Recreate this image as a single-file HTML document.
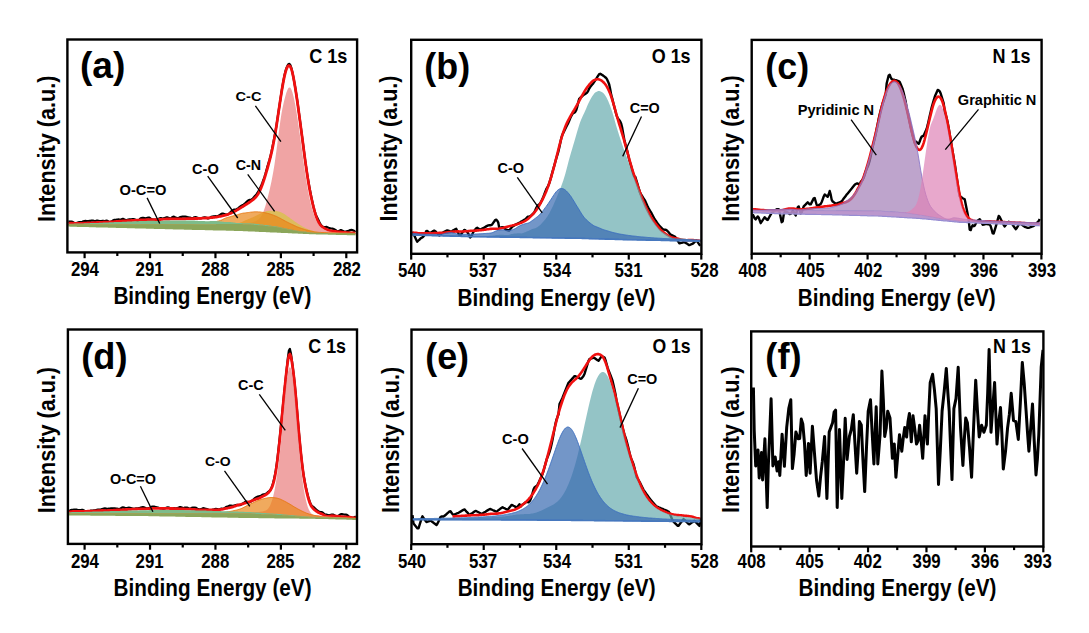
<!DOCTYPE html><html><head><meta charset="utf-8"><style>html,body{margin:0;padding:0;background:#fff}svg{display:block}text{font-family:"Liberation Sans",sans-serif;font-weight:bold;fill:#000}</style></head><body>
<svg width="1089" height="633" viewBox="0 0 1089 633">
<rect width="1089" height="633" fill="#fff"/>
<g id="pa">
<clipPath id="clipa"><rect x="67.4" y="39.5" width="289.7" height="212.9"/></clipPath>
<g clip-path="url(#clipa)">
<path d="M68.4,221.4 L69.4,221.6 L70.4,221.5 L71.4,221.5 L72.4,221.8 L73.4,222.4 L74.4,223.0 L75.4,223.2 L76.4,223.1 L77.4,222.7 L78.4,222.3 L79.4,222.1 L80.4,222.1 L81.4,222.1 L82.4,221.8 L83.4,221.3 L84.4,221.0 L85.4,220.9 L86.4,221.1 L87.4,221.1 L88.4,221.0 L89.4,220.9 L90.4,220.8 L91.4,220.6 L92.4,220.5 L93.4,220.7 L94.4,221.0 L95.4,221.0 L96.4,220.7 L97.4,220.6 L98.4,220.8 L99.4,221.1 L100.4,221.1 L101.4,221.0 L102.4,220.8 L103.4,220.9 L104.4,221.0 L105.4,220.9 L106.4,220.7 L107.4,220.8 L108.4,221.4 L109.4,221.8 L110.4,221.9 L111.4,221.6 L112.4,220.9 L113.4,220.2 L114.4,219.8 L115.4,219.8 L116.4,219.7 L117.4,219.5 L118.4,219.4 L119.4,219.5 L120.4,219.5 L121.4,219.3 L122.4,218.9 L123.4,218.9 L124.4,219.4 L125.4,220.0 L126.4,220.2 L127.4,219.9 L128.4,219.6 L129.4,219.4 L130.4,219.4 L131.4,219.3 L132.4,219.1 L133.4,219.1 L134.4,219.3 L135.4,219.8 L136.4,220.4 L137.4,220.8 L138.4,220.6 L139.4,219.6 L140.4,218.5 L141.4,218.0 L142.4,217.8 L143.4,217.9 L144.4,218.1 L145.4,218.3 L146.4,218.2 L147.4,217.8 L148.4,217.5 L149.4,217.7 L150.4,218.4 L151.4,219.1 L152.4,219.5 L153.4,219.5 L154.4,219.5 L155.4,219.6 L156.4,219.7 L157.4,219.6 L158.4,219.0 L159.4,218.4 L160.4,218.0 L161.4,218.2 L162.4,218.5 L163.4,218.4 L164.4,218.0 L165.4,217.7 L166.4,217.4 L167.4,217.4 L168.4,217.7 L169.4,218.2 L170.4,218.4 L171.4,217.9 L172.4,217.1 L173.4,216.7 L174.4,216.9 L175.4,217.4 L176.4,217.9 L177.4,218.0 L178.4,217.9 L179.4,217.6 L180.4,217.1 L181.4,216.8 L182.4,216.7 L183.4,216.7 L184.4,216.7 L185.4,216.7 L186.4,216.8 L187.4,217.1 L188.4,217.3 L189.4,217.5 L190.4,217.7 L191.4,218.0 L192.4,218.1 L193.4,217.8 L194.4,217.3 L195.4,217.1 L196.4,217.3 L197.4,217.7 L198.4,218.1 L199.4,218.3 L200.4,218.4 L201.4,218.2 L202.4,217.9 L203.4,217.5 L204.4,217.3 L205.4,217.4 L206.4,217.8 L207.4,218.3 L208.4,218.5 L209.4,218.1 L210.4,217.4 L211.4,216.8 L212.4,216.5 L213.4,216.4 L214.4,216.3 L215.4,216.2 L216.4,216.3 L217.4,216.2 L218.4,215.9 L219.4,215.3 L220.4,214.5 L221.4,213.9 L222.4,213.6 L223.4,213.7 L224.4,214.0 L225.4,214.4 L226.4,214.5 L227.4,214.4 L228.4,214.0 L229.4,213.3 L230.4,212.2 L231.4,211.2 L232.4,210.4 L233.4,209.9 L234.4,209.6 L235.4,209.5 L236.4,209.3 L237.4,208.8 L238.4,208.0 L239.4,207.2 L240.4,206.4 L241.4,205.8 L242.4,205.2 L243.4,204.6 L244.4,203.9 L245.4,203.0 L246.4,202.0 L247.4,201.1 L248.4,200.3 L249.4,199.9 L250.4,199.9 L251.4,199.7 L252.4,198.9 L253.4,197.8 L254.4,196.6 L255.4,195.6 L256.4,194.4 L257.4,193.0 L258.4,191.2 L259.4,189.2 L260.4,187.3 L261.4,185.2 L262.4,182.7 L263.4,180.0 L264.4,177.1 L265.4,173.8 L266.4,170.2 L267.4,166.6 L268.4,163.3 L269.4,160.1 L270.4,156.4 L271.4,152.0 L272.4,147.1 L273.4,142.1 L274.4,137.2 L275.4,131.9 L276.4,125.7 L277.4,119.1 L278.4,112.4 L279.4,105.9 L280.4,99.3 L281.4,92.7 L282.4,86.3 L283.4,80.6 L284.4,75.6 L285.4,71.4 L286.4,68.2 L287.4,65.8 L288.4,64.2 L289.4,63.8 L290.4,65.2 L291.4,68.1 L292.4,72.3 L293.4,77.3 L294.4,82.7 L295.4,88.5 L296.4,94.8 L297.4,101.5 L298.4,108.7 L299.4,116.1 L300.4,123.7 L301.4,131.3 L302.4,138.8 L303.4,146.5 L304.4,154.3 L305.4,161.8 L306.4,168.7 L307.4,175.2 L308.4,181.3 L309.4,186.9 L310.4,192.1 L311.4,197.1 L312.4,201.8 L313.4,206.2 L314.4,210.1 L315.4,213.3 L316.4,215.9 L317.4,218.1 L318.4,220.1 L319.4,222.2 L320.4,224.2 L321.4,225.6 L322.4,226.6 L323.4,227.1 L324.4,227.2 L325.4,227.0 L326.4,226.9 L327.4,227.2 L328.4,227.7 L329.4,228.0 L330.4,228.3 L331.4,228.5 L332.4,228.7 L333.4,228.9 L334.4,229.3 L335.4,230.0 L336.4,230.7 L337.4,231.2 L338.4,231.2 L339.4,230.7 L340.4,230.2 L341.4,230.1 L342.4,230.7 L343.4,231.3 L344.4,231.6 L345.4,231.5 L346.4,231.4 L347.4,231.2 L348.4,230.9 L349.4,230.4 L350.4,230.1 L351.4,229.9 L352.4,230.0 L353.4,230.4 L354.4,231.1 L355.4,232.0" fill="none" stroke="#000" stroke-width="2.2" stroke-linejoin="round"/>
<path d="M68.4,223.2 L69.4,223.2 L70.4,223.2 L71.4,223.2 L72.4,223.2 L73.4,223.3 L74.4,223.4 L75.4,223.5 L76.4,223.5 L77.4,223.5 L78.4,223.4 L79.4,223.4 L80.4,223.4 L81.4,223.3 L82.4,223.3 L83.4,223.2 L84.4,223.2 L85.4,223.1 L86.4,223.1 L87.4,223.0 L88.4,223.0 L89.4,222.9 L90.4,222.9 L91.4,222.8 L92.4,222.8 L93.4,222.7 L94.4,222.7 L95.4,222.6 L96.4,222.6 L97.4,222.5 L98.4,222.5 L99.4,222.4 L100.4,222.4 L101.4,222.3 L102.4,222.3 L103.4,222.2 L104.4,222.2 L105.4,222.2 L106.4,222.2 L107.4,222.2 L108.4,222.1 L109.4,222.1 L110.4,222.0 L111.4,221.9 L112.4,221.9 L113.4,221.8 L114.4,221.7 L115.4,221.6 L116.4,221.5 L117.4,221.4 L118.4,221.3 L119.4,221.2 L120.4,221.2 L121.4,221.1 L122.4,221.0 L123.4,221.0 L124.4,220.9 L125.4,220.8 L126.4,220.8 L127.4,220.7 L128.4,220.7 L129.4,220.6 L130.4,220.6 L131.4,220.5 L132.4,220.4 L133.4,220.4 L134.4,220.3 L135.4,220.3 L136.4,220.2 L137.4,220.2 L138.4,220.1 L139.4,220.1 L140.4,220.0 L141.4,220.0 L142.4,219.9 L143.4,219.9 L144.4,219.8 L145.4,219.8 L146.4,219.7 L147.4,219.7 L148.4,219.6 L149.4,219.6 L150.4,219.6 L151.4,219.6 L152.4,219.7 L153.4,219.7 L154.4,219.7 L155.4,219.7 L156.4,219.6 L157.4,219.6 L158.4,219.6 L159.4,219.5 L160.4,219.5 L161.4,219.4 L162.4,219.3 L163.4,219.2 L164.4,219.1 L165.4,219.1 L166.4,219.0 L167.4,219.0 L168.4,219.0 L169.4,219.0 L170.4,218.9 L171.4,218.9 L172.4,218.9 L173.4,218.9 L174.4,218.9 L175.4,218.9 L176.4,218.9 L177.4,218.9 L178.4,218.9 L179.4,218.9 L180.4,218.9 L181.4,218.9 L182.4,218.8 L183.4,218.8 L184.4,218.8 L185.4,218.8 L186.4,218.7 L187.4,218.7 L188.4,218.7 L189.4,218.7 L190.4,218.6 L191.4,218.6 L192.4,218.6 L193.4,218.6 L194.4,218.5 L195.4,218.5 L196.4,218.5 L197.4,218.5 L198.4,218.4 L199.4,218.4 L200.4,218.3 L201.4,218.3 L202.4,218.2 L203.4,218.2 L204.4,218.1 L205.4,218.1 L206.4,218.0 L207.4,218.0 L208.4,217.9 L209.4,217.8 L210.4,217.7 L211.4,217.6 L212.4,217.5 L213.4,217.4 L214.4,217.3 L215.4,217.2 L216.4,217.0 L217.4,216.9 L218.4,216.7 L219.4,216.5 L220.4,216.3 L221.4,216.1 L222.4,215.9 L223.4,215.7 L224.4,215.4 L225.4,215.2 L226.4,214.9 L227.4,214.6 L228.4,214.2 L229.4,213.8 L230.4,213.4 L231.4,212.9 L232.4,212.5 L233.4,212.0 L234.4,211.4 L235.4,210.9 L236.4,210.4 L237.4,209.8 L238.4,209.2 L239.4,208.6 L240.4,208.0 L241.4,207.4 L242.4,206.8 L243.4,206.2 L244.4,205.5 L245.4,204.9 L246.4,204.3 L247.4,203.6 L248.4,203.0 L249.4,202.3 L250.4,201.6 L251.4,200.9 L252.4,200.2 L253.4,199.4 L254.4,198.5 L255.4,197.5 L256.4,196.3 L257.4,195.0 L258.4,193.4 L259.4,191.5 L260.4,189.5 L261.4,187.1 L262.4,184.5 L263.4,181.6 L264.4,178.5 L265.4,175.3 L266.4,171.9 L267.4,168.5 L268.4,164.9 L269.4,161.2 L270.4,157.3 L271.4,153.2 L272.4,148.6 L273.4,143.6 L274.4,138.2 L275.4,132.4 L276.4,126.2 L277.4,119.7 L278.4,113.0 L279.4,106.2 L280.4,99.5 L281.4,93.1 L282.4,87.0 L283.4,81.4 L284.4,76.5 L285.4,72.4 L286.4,69.1 L287.4,66.9 L288.4,65.6 L289.4,65.6 L290.4,66.7 L291.4,69.0 L292.4,72.6 L293.4,77.3 L294.4,82.7 L295.4,88.7 L296.4,95.2 L297.4,102.0 L298.4,109.2 L299.4,116.6 L300.4,124.1 L301.4,131.7 L302.4,139.3 L303.4,147.0 L304.4,154.6 L305.4,162.1 L306.4,169.3 L307.4,176.1 L308.4,182.5 L309.4,188.3 L310.4,193.5 L311.4,198.3 L312.4,202.7 L313.4,206.9 L314.4,210.7 L315.4,214.2 L316.4,217.3 L317.4,219.8 L318.4,222.0 L319.4,223.7 L320.4,225.1 L321.4,226.2 L322.4,227.0 L323.4,227.6 L324.4,228.2 L325.4,228.7 L326.4,229.2 L327.4,229.7 L328.4,230.1 L329.4,230.4 L330.4,230.7 L331.4,230.9 L332.4,231.1 L333.4,231.2 L334.4,231.4 L335.4,231.4 L336.4,231.6 L337.4,231.7 L338.4,231.8 L339.4,231.9 L340.4,232.0 L341.4,232.1 L342.4,232.2 L343.4,232.3 L344.4,232.4 L345.4,232.5 L346.4,232.6 L347.4,232.7 L348.4,232.7 L349.4,232.8 L350.4,232.8 L351.4,232.8 L352.4,232.9 L353.4,232.9 L354.4,233.0 L355.4,233.0" fill="none" stroke="#f01010" stroke-width="2.8" stroke-linejoin="round"/>
<path d="M68.4,224.5 L69.4,224.5 L70.4,224.5 L71.4,224.5 L72.4,224.5 L73.4,224.5 L74.4,224.5 L75.4,224.5 L76.4,224.5 L77.4,224.5 L78.4,224.5 L79.4,224.5 L80.4,224.5 L81.4,224.5 L82.4,224.5 L83.4,224.5 L84.4,224.5 L85.4,224.5 L86.4,224.5 L87.4,224.5 L88.4,224.5 L89.4,224.5 L90.4,224.4 L91.4,224.4 L92.4,224.4 L93.4,224.4 L94.4,224.4 L95.4,224.4 L96.4,224.4 L97.4,224.4 L98.4,224.4 L99.4,224.4 L100.4,224.4 L101.4,224.4 L102.4,224.4 L103.4,224.4 L104.4,224.4 L105.4,224.4 L106.4,224.4 L107.4,224.4 L108.4,224.4 L109.4,224.4 L110.4,224.4 L111.4,224.4 L112.4,224.4 L113.4,224.4 L114.4,224.4 L115.4,224.4 L116.4,224.3 L117.4,224.3 L118.4,224.3 L119.4,224.3 L120.4,224.3 L121.4,224.3 L122.4,224.3 L123.4,224.3 L124.4,224.3 L125.4,224.3 L126.4,224.3 L127.4,224.3 L128.4,224.3 L129.4,224.3 L130.4,224.3 L131.4,224.3 L132.4,224.3 L133.4,224.3 L134.4,224.3 L135.4,224.3 L136.4,224.3 L137.4,224.3 L138.4,224.3 L139.4,224.3 L140.4,224.2 L141.4,224.2 L142.4,224.2 L143.4,224.2 L144.4,224.2 L145.4,224.2 L146.4,224.2 L147.4,224.2 L148.4,224.2 L149.4,224.2 L150.4,224.2 L151.4,224.2 L152.4,224.2 L153.4,224.2 L154.4,224.2 L155.4,224.2 L156.4,224.2 L157.4,224.2 L158.4,224.2 L159.4,224.2 L160.4,224.1 L161.4,224.1 L162.4,224.1 L163.4,224.1 L164.4,224.1 L165.4,224.1 L166.4,224.1 L167.4,224.1 L168.4,224.1 L169.4,224.1 L170.4,224.1 L171.4,224.1 L172.4,224.1 L173.4,224.1 L174.4,224.1 L175.4,224.1 L176.4,224.1 L177.4,224.1 L178.4,224.0 L179.4,224.0 L180.4,224.0 L181.4,224.0 L182.4,224.0 L183.4,224.0 L184.4,224.0 L185.4,224.0 L186.4,224.0 L187.4,224.0 L188.4,224.0 L189.4,224.0 L190.4,224.0 L191.4,224.0 L192.4,223.9 L193.4,223.9 L194.4,223.9 L195.4,223.9 L196.4,223.9 L197.4,223.9 L198.4,223.9 L199.4,223.9 L200.4,223.9 L201.4,223.9 L202.4,223.9 L203.4,223.9 L204.4,223.9 L205.4,223.8 L206.4,223.8 L207.4,223.8 L208.4,223.8 L209.4,223.8 L210.4,223.8 L211.4,223.8 L212.4,223.8 L213.4,223.8 L214.4,223.7 L215.4,223.7 L216.4,223.7 L217.4,223.7 L218.4,223.7 L219.4,223.7 L220.4,223.7 L221.4,223.6 L222.4,223.6 L223.4,223.6 L224.4,223.6 L225.4,223.6 L226.4,223.6 L227.4,223.5 L228.4,223.5 L229.4,223.5 L230.4,223.5 L231.4,223.4 L232.4,223.4 L233.4,223.4 L234.4,223.4 L235.4,223.3 L236.4,223.3 L237.4,223.3 L238.4,223.2 L239.4,223.2 L240.4,223.2 L241.4,223.1 L242.4,223.1 L243.4,223.1 L244.4,223.1 L245.4,223.1 L246.4,223.0 L247.4,223.0 L248.4,222.9 L249.4,222.8 L250.4,222.7 L251.4,222.5 L252.4,222.3 L253.4,222.0 L254.4,221.6 L255.4,221.2 L256.4,220.7 L257.4,220.1 L258.4,219.4 L259.4,218.5 L260.4,217.3 L261.4,215.8 L262.4,213.9 L263.4,211.7 L264.4,209.0 L265.4,205.9 L266.4,202.5 L267.4,198.7 L268.4,194.8 L269.4,190.7 L270.4,186.3 L271.4,181.7 L272.4,176.6 L273.4,171.1 L274.4,164.9 L275.4,158.1 L276.4,150.8 L277.4,143.2 L278.4,135.3 L279.4,127.7 L280.4,120.4 L281.4,114.0 L282.4,108.5 L283.4,103.9 L284.4,99.7 L285.4,95.9 L286.4,92.6 L287.4,89.9 L288.4,88.1 L289.4,87.4 L290.4,87.8 L291.4,89.5 L292.4,92.2 L293.4,95.9 L294.4,100.4 L295.4,105.6 L296.4,111.4 L297.4,117.8 L298.4,124.5 L299.4,131.5 L300.4,138.8 L301.4,146.2 L302.4,153.6 L303.4,160.9 L304.4,168.0 L305.4,174.8 L306.4,181.2 L307.4,187.2 L308.4,192.7 L309.4,197.7 L310.4,202.2 L311.4,206.2 L312.4,209.8 L313.4,213.1 L314.4,216.1 L315.4,218.6 L316.4,220.8 L317.4,222.7 L318.4,224.3 L319.4,225.7 L320.4,226.8 L321.4,227.8 L322.4,228.6 L323.4,229.2 L324.4,229.8 L325.4,230.3 L326.4,230.6 L327.4,230.9 L328.4,231.2 L329.4,231.4 L330.4,231.6 L331.4,231.7 L332.4,231.9 L333.4,232.0 L334.4,232.1 L335.4,232.1 L336.4,232.2 L337.4,232.3 L338.4,232.3 L339.4,232.4 L340.4,232.4 L341.4,232.5 L342.4,232.5 L343.4,232.5 L344.4,232.6 L345.4,232.6 L346.4,232.6 L347.4,232.7 L348.4,232.7 L349.4,232.7 L350.4,232.7 L351.4,232.8 L352.4,232.8 L353.4,232.8 L354.4,232.8 L355.4,232.8 L355.4,233.4 L354.4,233.4 L353.4,233.4 L352.4,233.3 L351.4,233.3 L350.4,233.3 L349.4,233.3 L348.4,233.3 L347.4,233.3 L346.4,233.3 L345.4,233.3 L344.4,233.3 L343.4,233.3 L342.4,233.3 L341.4,233.3 L340.4,233.3 L339.4,233.3 L338.4,233.3 L337.4,233.3 L336.4,233.3 L335.4,233.2 L334.4,233.2 L333.4,233.2 L332.4,233.2 L331.4,233.2 L330.4,233.2 L329.4,233.2 L328.4,233.2 L327.4,233.1 L326.4,233.1 L325.4,233.1 L324.4,233.1 L323.4,233.1 L322.4,233.1 L321.4,233.1 L320.4,233.1 L319.4,233.1 L318.4,233.0 L317.4,233.0 L316.4,233.0 L315.4,233.0 L314.4,232.9 L313.4,232.8 L312.4,232.7 L311.4,232.6 L310.4,232.5 L309.4,232.4 L308.4,232.3 L307.4,232.2 L306.4,232.1 L305.4,232.0 L304.4,231.9 L303.4,231.8 L302.4,231.7 L301.4,231.6 L300.4,231.5 L299.4,231.3 L298.4,231.2 L297.4,231.1 L296.4,230.9 L295.4,230.7 L294.4,230.5 L293.4,230.3 L292.4,230.1 L291.4,229.9 L290.4,229.8 L289.4,229.6 L288.4,229.4 L287.4,229.2 L286.4,229.0 L285.4,228.8 L284.4,228.6 L283.4,228.4 L282.4,228.2 L281.4,228.0 L280.4,227.8 L279.4,227.7 L278.4,227.5 L277.4,227.3 L276.4,227.1 L275.4,227.0 L274.4,226.9 L273.4,226.7 L272.4,226.6 L271.4,226.5 L270.4,226.4 L269.4,226.2 L268.4,226.2 L267.4,226.1 L266.4,226.0 L265.4,225.9 L264.4,225.8 L263.4,225.7 L262.4,225.6 L261.4,225.5 L260.4,225.4 L259.4,225.3 L258.4,225.2 L257.4,225.1 L256.4,225.0 L255.4,224.9 L254.4,224.9 L253.4,224.8 L252.4,224.7 L251.4,224.7 L250.4,224.6 L249.4,224.6 L248.4,224.5 L247.4,224.4 L246.4,224.4 L245.4,224.3 L244.4,224.2 L243.4,224.2 L242.4,224.1 L241.4,224.1 L240.4,224.1 L239.4,224.1 L238.4,224.1 L237.4,224.1 L236.4,224.1 L235.4,224.1 L234.4,224.1 L233.4,224.1 L232.4,224.1 L231.4,224.1 L230.4,224.1 L229.4,224.1 L228.4,224.1 L227.4,224.1 L226.4,224.1 L225.4,224.1 L224.4,224.1 L223.4,224.1 L222.4,224.1 L221.4,224.1 L220.4,224.1 L219.4,224.1 L218.4,224.1 L217.4,224.1 L216.4,224.1 L215.4,224.2 L214.4,224.2 L213.4,224.2 L212.4,224.2 L211.4,224.2 L210.4,224.2 L209.4,224.2 L208.4,224.2 L207.4,224.2 L206.4,224.2 L205.4,224.2 L204.4,224.2 L203.4,224.2 L202.4,224.2 L201.4,224.2 L200.4,224.2 L199.4,224.2 L198.4,224.2 L197.4,224.2 L196.4,224.2 L195.4,224.2 L194.4,224.2 L193.4,224.2 L192.4,224.2 L191.4,224.2 L190.4,224.2 L189.4,224.2 L188.4,224.2 L187.4,224.2 L186.4,224.2 L185.4,224.2 L184.4,224.2 L183.4,224.2 L182.4,224.2 L181.4,224.2 L180.4,224.2 L179.4,224.2 L178.4,224.2 L177.4,224.2 L176.4,224.2 L175.4,224.2 L174.4,224.2 L173.4,224.3 L172.4,224.3 L171.4,224.3 L170.4,224.3 L169.4,224.3 L168.4,224.3 L167.4,224.3 L166.4,224.3 L165.4,224.3 L164.4,224.3 L163.4,224.3 L162.4,224.3 L161.4,224.3 L160.4,224.3 L159.4,224.3 L158.4,224.3 L157.4,224.3 L156.4,224.3 L155.4,224.3 L154.4,224.3 L153.4,224.3 L152.4,224.3 L151.4,224.3 L150.4,224.3 L149.4,224.3 L148.4,224.3 L147.4,224.3 L146.4,224.3 L145.4,224.3 L144.4,224.3 L143.4,224.3 L142.4,224.3 L141.4,224.3 L140.4,224.4 L139.4,224.4 L138.4,224.4 L137.4,224.4 L136.4,224.4 L135.4,224.4 L134.4,224.4 L133.4,224.4 L132.4,224.4 L131.4,224.4 L130.4,224.4 L129.4,224.4 L128.4,224.4 L127.4,224.4 L126.4,224.4 L125.4,224.4 L124.4,224.4 L123.4,224.4 L122.4,224.4 L121.4,224.4 L120.4,224.4 L119.4,224.4 L118.4,224.4 L117.4,224.4 L116.4,224.4 L115.4,224.4 L114.4,224.4 L113.4,224.4 L112.4,224.4 L111.4,224.4 L110.4,224.4 L109.4,224.4 L108.4,224.5 L107.4,224.5 L106.4,224.5 L105.4,224.5 L104.4,224.5 L103.4,224.5 L102.4,224.5 L101.4,224.5 L100.4,224.5 L99.4,224.5 L98.4,224.5 L97.4,224.5 L96.4,224.5 L95.4,224.5 L94.4,224.5 L93.4,224.5 L92.4,224.5 L91.4,224.5 L90.4,224.5 L89.4,224.5 L88.4,224.5 L87.4,224.5 L86.4,224.5 L85.4,224.5 L84.4,224.5 L83.4,224.5 L82.4,224.5 L81.4,224.5 L80.4,224.5 L79.4,224.5 L78.4,224.5 L77.4,224.5 L76.4,224.5 L75.4,224.6 L74.4,224.6 L73.4,224.6 L72.4,224.6 L71.4,224.6 L70.4,224.6 L69.4,224.6 L68.4,224.6Z" fill="rgb(234, 126, 126)" fill-opacity="0.7"/>
<path d="M68.4,224.6 L69.4,224.6 L70.4,224.6 L71.4,224.6 L72.4,224.6 L73.4,224.6 L74.4,224.6 L75.4,224.6 L76.4,224.5 L77.4,224.5 L78.4,224.5 L79.4,224.5 L80.4,224.5 L81.4,224.5 L82.4,224.5 L83.4,224.5 L84.4,224.5 L85.4,224.5 L86.4,224.5 L87.4,224.5 L88.4,224.5 L89.4,224.5 L90.4,224.5 L91.4,224.5 L92.4,224.5 L93.4,224.5 L94.4,224.5 L95.4,224.5 L96.4,224.5 L97.4,224.5 L98.4,224.5 L99.4,224.5 L100.4,224.5 L101.4,224.5 L102.4,224.5 L103.4,224.5 L104.4,224.5 L105.4,224.5 L106.4,224.5 L107.4,224.5 L108.4,224.5 L109.4,224.4 L110.4,224.4 L111.4,224.4 L112.4,224.4 L113.4,224.4 L114.4,224.4 L115.4,224.4 L116.4,224.4 L117.4,224.4 L118.4,224.4 L119.4,224.4 L120.4,224.4 L121.4,224.4 L122.4,224.4 L123.4,224.4 L124.4,224.4 L125.4,224.4 L126.4,224.4 L127.4,224.4 L128.4,224.4 L129.4,224.4 L130.4,224.4 L131.4,224.4 L132.4,224.4 L133.4,224.4 L134.4,224.4 L135.4,224.4 L136.4,224.4 L137.4,224.4 L138.4,224.4 L139.4,224.4 L140.4,224.4 L141.4,224.3 L142.4,224.3 L143.4,224.3 L144.4,224.3 L145.4,224.3 L146.4,224.3 L147.4,224.3 L148.4,224.3 L149.4,224.3 L150.4,224.3 L151.4,224.3 L152.4,224.3 L153.4,224.3 L154.4,224.3 L155.4,224.3 L156.4,224.3 L157.4,224.3 L158.4,224.3 L159.4,224.3 L160.4,224.3 L161.4,224.3 L162.4,224.3 L163.4,224.3 L164.4,224.3 L165.4,224.3 L166.4,224.3 L167.4,224.3 L168.4,224.3 L169.4,224.3 L170.4,224.3 L171.4,224.3 L172.4,224.3 L173.4,224.3 L174.4,224.2 L175.4,224.2 L176.4,224.2 L177.4,224.2 L178.4,224.2 L179.4,224.2 L180.4,224.2 L181.4,224.2 L182.4,224.2 L183.4,224.2 L184.4,224.2 L185.4,224.2 L186.4,224.2 L187.4,224.2 L188.4,224.2 L189.4,224.2 L190.4,224.2 L191.4,224.2 L192.4,224.2 L193.4,224.2 L194.4,224.2 L195.4,224.2 L196.4,224.2 L197.4,224.2 L198.4,224.2 L199.4,224.2 L200.4,224.2 L201.4,224.2 L202.4,224.2 L203.4,224.2 L204.4,224.2 L205.4,224.2 L206.4,224.2 L207.4,224.2 L208.4,224.2 L209.4,224.1 L210.4,224.1 L211.4,224.1 L212.4,224.1 L213.4,224.1 L214.4,224.1 L215.4,224.1 L216.4,224.1 L217.4,224.1 L218.4,224.0 L219.4,224.0 L220.4,224.0 L221.4,224.0 L222.4,223.9 L223.4,223.9 L224.4,223.9 L225.4,223.8 L226.4,223.7 L227.4,223.7 L228.4,223.6 L229.4,223.6 L230.4,223.5 L231.4,223.5 L232.4,223.6 L233.4,223.6 L234.4,223.6 L235.4,223.6 L236.4,223.5 L237.4,223.3 L238.4,223.1 L239.4,222.9 L240.4,222.6 L241.4,222.2 L242.4,221.8 L243.4,221.3 L244.4,220.8 L245.4,220.3 L246.4,219.9 L247.4,219.5 L248.4,219.1 L249.4,218.7 L250.4,218.3 L251.4,217.8 L252.4,217.4 L253.4,216.9 L254.4,216.5 L255.4,216.0 L256.4,215.5 L257.4,215.0 L258.4,214.5 L259.4,214.0 L260.4,213.5 L261.4,213.0 L262.4,212.6 L263.4,212.2 L264.4,211.8 L265.4,211.4 L266.4,211.1 L267.4,210.9 L268.4,210.7 L269.4,210.7 L270.4,210.7 L271.4,210.8 L272.4,210.8 L273.4,210.8 L274.4,210.9 L275.4,211.0 L276.4,211.1 L277.4,211.3 L278.4,211.5 L279.4,211.7 L280.4,212.1 L281.4,212.5 L282.4,213.0 L283.4,213.5 L284.4,214.1 L285.4,214.8 L286.4,215.5 L287.4,216.2 L288.4,216.9 L289.4,217.6 L290.4,218.4 L291.4,219.1 L292.4,219.8 L293.4,220.5 L294.4,221.2 L295.4,221.9 L296.4,222.6 L297.4,223.3 L298.4,224.0 L299.4,224.6 L300.4,225.2 L301.4,225.8 L302.4,226.4 L303.4,227.0 L304.4,227.5 L305.4,228.0 L306.4,228.5 L307.4,228.9 L308.4,229.3 L309.4,229.7 L310.4,230.0 L311.4,230.4 L312.4,230.7 L313.4,231.0 L314.4,231.3 L315.4,231.6 L316.4,231.8 L317.4,232.0 L318.4,232.1 L319.4,232.3 L320.4,232.4 L321.4,232.5 L322.4,232.6 L323.4,232.7 L324.4,232.7 L325.4,232.8 L326.4,232.9 L327.4,232.9 L328.4,233.0 L329.4,233.0 L330.4,233.0 L331.4,233.1 L332.4,233.1 L333.4,233.1 L334.4,233.2 L335.4,233.2 L336.4,233.2 L337.4,233.2 L338.4,233.2 L339.4,233.3 L340.4,233.3 L341.4,233.3 L342.4,233.3 L343.4,233.3 L344.4,233.3 L345.4,233.3 L346.4,233.3 L347.4,233.3 L348.4,233.3 L349.4,233.3 L350.4,233.3 L351.4,233.3 L352.4,233.3 L353.4,233.4 L354.4,233.4 L355.4,233.4 L355.4,233.4 L354.4,233.4 L353.4,233.4 L352.4,233.3 L351.4,233.3 L350.4,233.3 L349.4,233.3 L348.4,233.3 L347.4,233.3 L346.4,233.3 L345.4,233.3 L344.4,233.3 L343.4,233.3 L342.4,233.3 L341.4,233.3 L340.4,233.3 L339.4,233.3 L338.4,233.3 L337.4,233.3 L336.4,233.3 L335.4,233.2 L334.4,233.2 L333.4,233.2 L332.4,233.2 L331.4,233.2 L330.4,233.2 L329.4,233.2 L328.4,233.2 L327.4,233.1 L326.4,233.1 L325.4,233.1 L324.4,233.1 L323.4,233.1 L322.4,233.1 L321.4,233.1 L320.4,233.1 L319.4,233.1 L318.4,233.0 L317.4,233.0 L316.4,233.0 L315.4,233.0 L314.4,232.9 L313.4,232.8 L312.4,232.7 L311.4,232.6 L310.4,232.5 L309.4,232.4 L308.4,232.3 L307.4,232.2 L306.4,232.1 L305.4,232.0 L304.4,231.9 L303.4,231.8 L302.4,231.7 L301.4,231.6 L300.4,231.5 L299.4,231.3 L298.4,231.2 L297.4,231.1 L296.4,230.9 L295.4,230.7 L294.4,230.5 L293.4,230.3 L292.4,230.1 L291.4,229.9 L290.4,229.8 L289.4,229.6 L288.4,229.4 L287.4,229.2 L286.4,229.0 L285.4,228.8 L284.4,228.6 L283.4,228.4 L282.4,228.2 L281.4,228.0 L280.4,227.8 L279.4,227.7 L278.4,227.5 L277.4,227.3 L276.4,227.1 L275.4,227.0 L274.4,226.9 L273.4,226.7 L272.4,226.6 L271.4,226.5 L270.4,226.4 L269.4,226.2 L268.4,226.2 L267.4,226.1 L266.4,226.0 L265.4,225.9 L264.4,225.8 L263.4,225.7 L262.4,225.6 L261.4,225.5 L260.4,225.4 L259.4,225.3 L258.4,225.2 L257.4,225.1 L256.4,225.0 L255.4,224.9 L254.4,224.9 L253.4,224.8 L252.4,224.7 L251.4,224.7 L250.4,224.6 L249.4,224.6 L248.4,224.5 L247.4,224.4 L246.4,224.4 L245.4,224.3 L244.4,224.2 L243.4,224.2 L242.4,224.1 L241.4,224.1 L240.4,224.1 L239.4,224.1 L238.4,224.1 L237.4,224.1 L236.4,224.1 L235.4,224.1 L234.4,224.1 L233.4,224.1 L232.4,224.1 L231.4,224.1 L230.4,224.1 L229.4,224.1 L228.4,224.1 L227.4,224.1 L226.4,224.1 L225.4,224.1 L224.4,224.1 L223.4,224.1 L222.4,224.1 L221.4,224.1 L220.4,224.1 L219.4,224.1 L218.4,224.1 L217.4,224.1 L216.4,224.1 L215.4,224.2 L214.4,224.2 L213.4,224.2 L212.4,224.2 L211.4,224.2 L210.4,224.2 L209.4,224.2 L208.4,224.2 L207.4,224.2 L206.4,224.2 L205.4,224.2 L204.4,224.2 L203.4,224.2 L202.4,224.2 L201.4,224.2 L200.4,224.2 L199.4,224.2 L198.4,224.2 L197.4,224.2 L196.4,224.2 L195.4,224.2 L194.4,224.2 L193.4,224.2 L192.4,224.2 L191.4,224.2 L190.4,224.2 L189.4,224.2 L188.4,224.2 L187.4,224.2 L186.4,224.2 L185.4,224.2 L184.4,224.2 L183.4,224.2 L182.4,224.2 L181.4,224.2 L180.4,224.2 L179.4,224.2 L178.4,224.2 L177.4,224.2 L176.4,224.2 L175.4,224.2 L174.4,224.2 L173.4,224.3 L172.4,224.3 L171.4,224.3 L170.4,224.3 L169.4,224.3 L168.4,224.3 L167.4,224.3 L166.4,224.3 L165.4,224.3 L164.4,224.3 L163.4,224.3 L162.4,224.3 L161.4,224.3 L160.4,224.3 L159.4,224.3 L158.4,224.3 L157.4,224.3 L156.4,224.3 L155.4,224.3 L154.4,224.3 L153.4,224.3 L152.4,224.3 L151.4,224.3 L150.4,224.3 L149.4,224.3 L148.4,224.3 L147.4,224.3 L146.4,224.3 L145.4,224.3 L144.4,224.3 L143.4,224.3 L142.4,224.3 L141.4,224.3 L140.4,224.4 L139.4,224.4 L138.4,224.4 L137.4,224.4 L136.4,224.4 L135.4,224.4 L134.4,224.4 L133.4,224.4 L132.4,224.4 L131.4,224.4 L130.4,224.4 L129.4,224.4 L128.4,224.4 L127.4,224.4 L126.4,224.4 L125.4,224.4 L124.4,224.4 L123.4,224.4 L122.4,224.4 L121.4,224.4 L120.4,224.4 L119.4,224.4 L118.4,224.4 L117.4,224.4 L116.4,224.4 L115.4,224.4 L114.4,224.4 L113.4,224.4 L112.4,224.4 L111.4,224.4 L110.4,224.4 L109.4,224.4 L108.4,224.5 L107.4,224.5 L106.4,224.5 L105.4,224.5 L104.4,224.5 L103.4,224.5 L102.4,224.5 L101.4,224.5 L100.4,224.5 L99.4,224.5 L98.4,224.5 L97.4,224.5 L96.4,224.5 L95.4,224.5 L94.4,224.5 L93.4,224.5 L92.4,224.5 L91.4,224.5 L90.4,224.5 L89.4,224.5 L88.4,224.5 L87.4,224.5 L86.4,224.5 L85.4,224.5 L84.4,224.5 L83.4,224.5 L82.4,224.5 L81.4,224.5 L80.4,224.5 L79.4,224.5 L78.4,224.5 L77.4,224.5 L76.4,224.5 L75.4,224.6 L74.4,224.6 L73.4,224.6 L72.4,224.6 L71.4,224.6 L70.4,224.6 L69.4,224.6 L68.4,224.6Z" fill="rgb(212, 198, 62)" fill-opacity="0.7"/>
<path d="M68.4,224.6 L69.4,224.6 L70.4,224.6 L71.4,224.6 L72.4,224.6 L73.4,224.6 L74.4,224.6 L75.4,224.6 L76.4,224.5 L77.4,224.5 L78.4,224.5 L79.4,224.5 L80.4,224.5 L81.4,224.5 L82.4,224.5 L83.4,224.5 L84.4,224.5 L85.4,224.5 L86.4,224.5 L87.4,224.5 L88.4,224.5 L89.4,224.5 L90.4,224.5 L91.4,224.5 L92.4,224.5 L93.4,224.5 L94.4,224.5 L95.4,224.5 L96.4,224.5 L97.4,224.5 L98.4,224.5 L99.4,224.5 L100.4,224.5 L101.4,224.5 L102.4,224.5 L103.4,224.5 L104.4,224.5 L105.4,224.5 L106.4,224.5 L107.4,224.5 L108.4,224.5 L109.4,224.4 L110.4,224.4 L111.4,224.4 L112.4,224.4 L113.4,224.4 L114.4,224.4 L115.4,224.4 L116.4,224.4 L117.4,224.4 L118.4,224.4 L119.4,224.4 L120.4,224.4 L121.4,224.4 L122.4,224.4 L123.4,224.4 L124.4,224.4 L125.4,224.4 L126.4,224.4 L127.4,224.4 L128.4,224.4 L129.4,224.4 L130.4,224.4 L131.4,224.4 L132.4,224.4 L133.4,224.4 L134.4,224.4 L135.4,224.4 L136.4,224.4 L137.4,224.4 L138.4,224.4 L139.4,224.4 L140.4,224.4 L141.4,224.3 L142.4,224.3 L143.4,224.3 L144.4,224.3 L145.4,224.3 L146.4,224.3 L147.4,224.3 L148.4,224.3 L149.4,224.3 L150.4,224.3 L151.4,224.3 L152.4,224.3 L153.4,224.3 L154.4,224.3 L155.4,224.3 L156.4,224.3 L157.4,224.3 L158.4,224.3 L159.4,224.3 L160.4,224.3 L161.4,224.3 L162.4,224.3 L163.4,224.3 L164.4,224.3 L165.4,224.3 L166.4,224.3 L167.4,224.3 L168.4,224.2 L169.4,224.2 L170.4,224.2 L171.4,224.2 L172.4,224.2 L173.4,224.2 L174.4,224.2 L175.4,224.2 L176.4,224.2 L177.4,224.2 L178.4,224.2 L179.4,224.1 L180.4,224.1 L181.4,224.1 L182.4,224.1 L183.4,224.1 L184.4,224.1 L185.4,224.0 L186.4,224.0 L187.4,224.0 L188.4,223.9 L189.4,223.9 L190.4,223.9 L191.4,223.8 L192.4,223.8 L193.4,223.8 L194.4,223.7 L195.4,223.7 L196.4,223.6 L197.4,223.5 L198.4,223.5 L199.4,223.4 L200.4,223.3 L201.4,223.2 L202.4,223.1 L203.4,223.0 L204.4,222.9 L205.4,222.8 L206.4,222.7 L207.4,222.6 L208.4,222.4 L209.4,222.3 L210.4,222.2 L211.4,222.1 L212.4,222.0 L213.4,221.9 L214.4,221.8 L215.4,221.6 L216.4,221.5 L217.4,221.2 L218.4,221.0 L219.4,220.7 L220.4,220.4 L221.4,220.1 L222.4,219.6 L223.4,219.1 L224.4,218.6 L225.4,218.2 L226.4,217.8 L227.4,217.5 L228.4,217.2 L229.4,216.9 L230.4,216.6 L231.4,216.3 L232.4,216.1 L233.4,215.8 L234.4,215.6 L235.4,215.4 L236.4,215.1 L237.4,214.8 L238.4,214.4 L239.4,214.1 L240.4,213.8 L241.4,213.5 L242.4,213.3 L243.4,213.1 L244.4,213.0 L245.4,212.9 L246.4,212.7 L247.4,212.6 L248.4,212.5 L249.4,212.4 L250.4,212.2 L251.4,212.1 L252.4,212.0 L253.4,211.9 L254.4,211.8 L255.4,211.8 L256.4,211.8 L257.4,211.8 L258.4,211.9 L259.4,211.9 L260.4,212.0 L261.4,212.2 L262.4,212.3 L263.4,212.4 L264.4,212.6 L265.4,212.8 L266.4,213.0 L267.4,213.3 L268.4,213.5 L269.4,213.8 L270.4,214.1 L271.4,214.5 L272.4,214.8 L273.4,215.2 L274.4,215.6 L275.4,216.0 L276.4,216.4 L277.4,216.9 L278.4,217.4 L279.4,217.9 L280.4,218.4 L281.4,219.0 L282.4,219.5 L283.4,220.1 L284.4,220.6 L285.4,221.2 L286.4,221.7 L287.4,222.2 L288.4,222.7 L289.4,223.2 L290.4,223.7 L291.4,224.2 L292.4,224.6 L293.4,225.1 L294.4,225.6 L295.4,226.0 L296.4,226.5 L297.4,226.9 L298.4,227.3 L299.4,227.7 L300.4,228.0 L301.4,228.4 L302.4,228.7 L303.4,229.0 L304.4,229.4 L305.4,229.7 L306.4,230.0 L307.4,230.2 L308.4,230.5 L309.4,230.7 L310.4,231.0 L311.4,231.2 L312.4,231.4 L313.4,231.6 L314.4,231.9 L315.4,232.0 L316.4,232.1 L317.4,232.2 L318.4,232.3 L319.4,232.4 L320.4,232.4 L321.4,232.5 L322.4,232.6 L323.4,232.6 L324.4,232.7 L325.4,232.7 L326.4,232.8 L327.4,232.8 L328.4,232.9 L329.4,232.9 L330.4,233.0 L331.4,233.0 L332.4,233.0 L333.4,233.1 L334.4,233.1 L335.4,233.1 L336.4,233.1 L337.4,233.2 L338.4,233.2 L339.4,233.2 L340.4,233.2 L341.4,233.2 L342.4,233.3 L343.4,233.3 L344.4,233.3 L345.4,233.3 L346.4,233.3 L347.4,233.3 L348.4,233.3 L349.4,233.3 L350.4,233.3 L351.4,233.3 L352.4,233.3 L353.4,233.3 L354.4,233.3 L355.4,233.4 L355.4,233.4 L354.4,233.4 L353.4,233.4 L352.4,233.3 L351.4,233.3 L350.4,233.3 L349.4,233.3 L348.4,233.3 L347.4,233.3 L346.4,233.3 L345.4,233.3 L344.4,233.3 L343.4,233.3 L342.4,233.3 L341.4,233.3 L340.4,233.3 L339.4,233.3 L338.4,233.3 L337.4,233.3 L336.4,233.3 L335.4,233.2 L334.4,233.2 L333.4,233.2 L332.4,233.2 L331.4,233.2 L330.4,233.2 L329.4,233.2 L328.4,233.2 L327.4,233.1 L326.4,233.1 L325.4,233.1 L324.4,233.1 L323.4,233.1 L322.4,233.1 L321.4,233.1 L320.4,233.1 L319.4,233.1 L318.4,233.0 L317.4,233.0 L316.4,233.0 L315.4,233.0 L314.4,232.9 L313.4,232.8 L312.4,232.7 L311.4,232.6 L310.4,232.5 L309.4,232.4 L308.4,232.3 L307.4,232.2 L306.4,232.1 L305.4,232.0 L304.4,231.9 L303.4,231.8 L302.4,231.7 L301.4,231.6 L300.4,231.5 L299.4,231.3 L298.4,231.2 L297.4,231.1 L296.4,230.9 L295.4,230.7 L294.4,230.5 L293.4,230.3 L292.4,230.1 L291.4,229.9 L290.4,229.8 L289.4,229.6 L288.4,229.4 L287.4,229.2 L286.4,229.0 L285.4,228.8 L284.4,228.6 L283.4,228.4 L282.4,228.2 L281.4,228.0 L280.4,227.8 L279.4,227.7 L278.4,227.5 L277.4,227.3 L276.4,227.1 L275.4,227.0 L274.4,226.9 L273.4,226.7 L272.4,226.6 L271.4,226.5 L270.4,226.4 L269.4,226.2 L268.4,226.2 L267.4,226.1 L266.4,226.0 L265.4,225.9 L264.4,225.8 L263.4,225.7 L262.4,225.6 L261.4,225.5 L260.4,225.4 L259.4,225.3 L258.4,225.2 L257.4,225.1 L256.4,225.0 L255.4,224.9 L254.4,224.9 L253.4,224.8 L252.4,224.7 L251.4,224.7 L250.4,224.6 L249.4,224.6 L248.4,224.5 L247.4,224.4 L246.4,224.4 L245.4,224.3 L244.4,224.2 L243.4,224.2 L242.4,224.1 L241.4,224.1 L240.4,224.1 L239.4,224.1 L238.4,224.1 L237.4,224.1 L236.4,224.1 L235.4,224.1 L234.4,224.1 L233.4,224.1 L232.4,224.1 L231.4,224.1 L230.4,224.1 L229.4,224.1 L228.4,224.1 L227.4,224.1 L226.4,224.1 L225.4,224.1 L224.4,224.1 L223.4,224.1 L222.4,224.1 L221.4,224.1 L220.4,224.1 L219.4,224.1 L218.4,224.1 L217.4,224.1 L216.4,224.1 L215.4,224.2 L214.4,224.2 L213.4,224.2 L212.4,224.2 L211.4,224.2 L210.4,224.2 L209.4,224.2 L208.4,224.2 L207.4,224.2 L206.4,224.2 L205.4,224.2 L204.4,224.2 L203.4,224.2 L202.4,224.2 L201.4,224.2 L200.4,224.2 L199.4,224.2 L198.4,224.2 L197.4,224.2 L196.4,224.2 L195.4,224.2 L194.4,224.2 L193.4,224.2 L192.4,224.2 L191.4,224.2 L190.4,224.2 L189.4,224.2 L188.4,224.2 L187.4,224.2 L186.4,224.2 L185.4,224.2 L184.4,224.2 L183.4,224.2 L182.4,224.2 L181.4,224.2 L180.4,224.2 L179.4,224.2 L178.4,224.2 L177.4,224.2 L176.4,224.2 L175.4,224.2 L174.4,224.2 L173.4,224.3 L172.4,224.3 L171.4,224.3 L170.4,224.3 L169.4,224.3 L168.4,224.3 L167.4,224.3 L166.4,224.3 L165.4,224.3 L164.4,224.3 L163.4,224.3 L162.4,224.3 L161.4,224.3 L160.4,224.3 L159.4,224.3 L158.4,224.3 L157.4,224.3 L156.4,224.3 L155.4,224.3 L154.4,224.3 L153.4,224.3 L152.4,224.3 L151.4,224.3 L150.4,224.3 L149.4,224.3 L148.4,224.3 L147.4,224.3 L146.4,224.3 L145.4,224.3 L144.4,224.3 L143.4,224.3 L142.4,224.3 L141.4,224.3 L140.4,224.4 L139.4,224.4 L138.4,224.4 L137.4,224.4 L136.4,224.4 L135.4,224.4 L134.4,224.4 L133.4,224.4 L132.4,224.4 L131.4,224.4 L130.4,224.4 L129.4,224.4 L128.4,224.4 L127.4,224.4 L126.4,224.4 L125.4,224.4 L124.4,224.4 L123.4,224.4 L122.4,224.4 L121.4,224.4 L120.4,224.4 L119.4,224.4 L118.4,224.4 L117.4,224.4 L116.4,224.4 L115.4,224.4 L114.4,224.4 L113.4,224.4 L112.4,224.4 L111.4,224.4 L110.4,224.4 L109.4,224.4 L108.4,224.5 L107.4,224.5 L106.4,224.5 L105.4,224.5 L104.4,224.5 L103.4,224.5 L102.4,224.5 L101.4,224.5 L100.4,224.5 L99.4,224.5 L98.4,224.5 L97.4,224.5 L96.4,224.5 L95.4,224.5 L94.4,224.5 L93.4,224.5 L92.4,224.5 L91.4,224.5 L90.4,224.5 L89.4,224.5 L88.4,224.5 L87.4,224.5 L86.4,224.5 L85.4,224.5 L84.4,224.5 L83.4,224.5 L82.4,224.5 L81.4,224.5 L80.4,224.5 L79.4,224.5 L78.4,224.5 L77.4,224.5 L76.4,224.5 L75.4,224.6 L74.4,224.6 L73.4,224.6 L72.4,224.6 L71.4,224.6 L70.4,224.6 L69.4,224.6 L68.4,224.6Z" fill="rgb(234, 134, 26)" fill-opacity="0.7" stroke="rgb(232, 120, 20)" stroke-width="0.9"/>
<path d="M68.4,223.8 L69.4,223.8 L70.4,223.7 L71.4,223.7 L72.4,223.7 L73.4,223.7 L74.4,223.6 L75.4,223.6 L76.4,223.6 L77.4,223.6 L78.4,223.5 L79.4,223.5 L80.4,223.5 L81.4,223.4 L82.4,223.4 L83.4,223.4 L84.4,223.3 L85.4,223.3 L86.4,223.3 L87.4,223.3 L88.4,223.2 L89.4,223.2 L90.4,223.1 L91.4,223.1 L92.4,223.1 L93.4,223.0 L94.4,223.0 L95.4,223.0 L96.4,222.9 L97.4,222.9 L98.4,222.9 L99.4,222.8 L100.4,222.8 L101.4,222.7 L102.4,222.7 L103.4,222.6 L104.4,222.6 L105.4,222.5 L106.4,222.5 L107.4,222.4 L108.4,222.4 L109.4,222.3 L110.4,222.3 L111.4,222.3 L112.4,222.2 L113.4,222.2 L114.4,222.1 L115.4,222.1 L116.4,222.1 L117.4,222.1 L118.4,222.0 L119.4,222.0 L120.4,221.9 L121.4,221.9 L122.4,221.8 L123.4,221.8 L124.4,221.8 L125.4,221.7 L126.4,221.7 L127.4,221.6 L128.4,221.6 L129.4,221.5 L130.4,221.5 L131.4,221.5 L132.4,221.4 L133.4,221.4 L134.4,221.3 L135.4,221.3 L136.4,221.2 L137.4,221.2 L138.4,221.2 L139.4,221.1 L140.4,221.1 L141.4,221.1 L142.4,221.0 L143.4,221.0 L144.4,220.9 L145.4,220.9 L146.4,220.9 L147.4,220.8 L148.4,220.8 L149.4,220.8 L150.4,220.8 L151.4,220.7 L152.4,220.8 L153.4,220.8 L154.4,220.8 L155.4,220.9 L156.4,220.9 L157.4,220.9 L158.4,220.9 L159.4,220.9 L160.4,220.9 L161.4,220.9 L162.4,220.8 L163.4,220.8 L164.4,220.7 L165.4,220.6 L166.4,220.6 L167.4,220.5 L168.4,220.5 L169.4,220.4 L170.4,220.4 L171.4,220.4 L172.4,220.4 L173.4,220.4 L174.4,220.4 L175.4,220.4 L176.4,220.4 L177.4,220.5 L178.4,220.5 L179.4,220.5 L180.4,220.5 L181.4,220.5 L182.4,220.5 L183.4,220.4 L184.4,220.4 L185.4,220.4 L186.4,220.4 L187.4,220.4 L188.4,220.4 L189.4,220.4 L190.4,220.4 L191.4,220.4 L192.4,220.5 L193.4,220.5 L194.4,220.6 L195.4,220.7 L196.4,220.8 L197.4,220.8 L198.4,220.9 L199.4,220.9 L200.4,221.0 L201.4,221.0 L202.4,221.0 L203.4,221.1 L204.4,221.1 L205.4,221.2 L206.4,221.2 L207.4,221.2 L208.4,221.2 L209.4,221.2 L210.4,221.1 L211.4,221.1 L212.4,221.1 L213.4,221.1 L214.4,221.1 L215.4,221.1 L216.4,221.1 L217.4,221.2 L218.4,221.3 L219.4,221.3 L220.4,221.4 L221.4,221.5 L222.4,221.7 L223.4,221.8 L224.4,221.9 L225.4,221.9 L226.4,222.0 L227.4,222.0 L228.4,222.0 L229.4,222.1 L230.4,222.1 L231.4,222.2 L232.4,222.3 L233.4,222.4 L234.4,222.6 L235.4,222.7 L236.4,222.9 L237.4,223.0 L238.4,223.0 L239.4,223.1 L240.4,223.1 L241.4,223.1 L242.4,223.2 L243.4,223.2 L244.4,223.2 L245.4,223.2 L246.4,223.2 L247.4,223.2 L248.4,223.2 L249.4,223.2 L250.4,223.3 L251.4,223.4 L252.4,223.5 L253.4,223.6 L254.4,223.7 L255.4,223.8 L256.4,223.9 L257.4,224.0 L258.4,224.1 L259.4,224.3 L260.4,224.4 L261.4,224.5 L262.4,224.6 L263.4,224.7 L264.4,224.9 L265.4,225.0 L266.4,225.1 L267.4,225.2 L268.4,225.3 L269.4,225.4 L270.4,225.6 L271.4,225.7 L272.4,225.9 L273.4,226.0 L274.4,226.2 L275.4,226.3 L276.4,226.5 L277.4,226.6 L278.4,226.8 L279.4,227.0 L280.4,227.2 L281.4,227.5 L282.4,227.7 L283.4,227.9 L284.4,228.1 L285.4,228.3 L286.4,228.5 L287.4,228.7 L288.4,228.9 L289.4,229.1 L290.4,229.3 L291.4,229.5 L292.4,229.7 L293.4,229.9 L294.4,230.1 L295.4,230.3 L296.4,230.5 L297.4,230.7 L298.4,230.8 L299.4,230.9 L300.4,231.1 L301.4,231.2 L302.4,231.3 L303.4,231.4 L304.4,231.5 L305.4,231.6 L306.4,231.8 L307.4,231.9 L308.4,232.0 L309.4,232.1 L310.4,232.2 L311.4,232.3 L312.4,232.5 L313.4,232.6 L314.4,232.7 L315.4,232.8 L316.4,232.8 L317.4,232.8 L318.4,232.8 L319.4,232.8 L320.4,232.8 L321.4,232.9 L322.4,232.9 L323.4,232.9 L324.4,232.9 L325.4,232.9 L326.4,232.9 L327.4,233.0 L328.4,233.0 L329.4,233.0 L330.4,233.0 L331.4,233.0 L332.4,233.0 L333.4,233.1 L334.4,233.1 L335.4,233.1 L336.4,233.1 L337.4,233.1 L338.4,233.2 L339.4,233.2 L340.4,233.2 L341.4,233.2 L342.4,233.2 L343.4,233.2 L344.4,233.2 L345.4,233.2 L346.4,233.2 L347.4,233.2 L348.4,233.2 L349.4,233.2 L350.4,233.2 L351.4,233.2 L352.4,233.2 L353.4,233.2 L354.4,233.2 L355.4,233.2 L355.4,233.4 L354.4,233.4 L353.4,233.4 L352.4,233.3 L351.4,233.3 L350.4,233.3 L349.4,233.3 L348.4,233.3 L347.4,233.3 L346.4,233.3 L345.4,233.3 L344.4,233.3 L343.4,233.3 L342.4,233.3 L341.4,233.3 L340.4,233.3 L339.4,233.3 L338.4,233.3 L337.4,233.3 L336.4,233.3 L335.4,233.2 L334.4,233.2 L333.4,233.2 L332.4,233.2 L331.4,233.2 L330.4,233.2 L329.4,233.2 L328.4,233.2 L327.4,233.1 L326.4,233.1 L325.4,233.1 L324.4,233.1 L323.4,233.1 L322.4,233.1 L321.4,233.1 L320.4,233.1 L319.4,233.1 L318.4,233.0 L317.4,233.0 L316.4,233.0 L315.4,233.0 L314.4,232.9 L313.4,232.8 L312.4,232.7 L311.4,232.6 L310.4,232.5 L309.4,232.4 L308.4,232.3 L307.4,232.2 L306.4,232.1 L305.4,232.0 L304.4,231.9 L303.4,231.8 L302.4,231.7 L301.4,231.6 L300.4,231.5 L299.4,231.3 L298.4,231.2 L297.4,231.1 L296.4,230.9 L295.4,230.7 L294.4,230.5 L293.4,230.3 L292.4,230.1 L291.4,229.9 L290.4,229.8 L289.4,229.6 L288.4,229.4 L287.4,229.2 L286.4,229.0 L285.4,228.8 L284.4,228.6 L283.4,228.4 L282.4,228.2 L281.4,228.0 L280.4,227.8 L279.4,227.7 L278.4,227.5 L277.4,227.3 L276.4,227.1 L275.4,227.0 L274.4,226.9 L273.4,226.7 L272.4,226.6 L271.4,226.5 L270.4,226.4 L269.4,226.2 L268.4,226.2 L267.4,226.1 L266.4,226.0 L265.4,225.9 L264.4,225.8 L263.4,225.7 L262.4,225.6 L261.4,225.5 L260.4,225.4 L259.4,225.3 L258.4,225.2 L257.4,225.1 L256.4,225.0 L255.4,224.9 L254.4,224.9 L253.4,224.8 L252.4,224.7 L251.4,224.7 L250.4,224.6 L249.4,224.6 L248.4,224.5 L247.4,224.4 L246.4,224.4 L245.4,224.3 L244.4,224.2 L243.4,224.2 L242.4,224.1 L241.4,224.1 L240.4,224.1 L239.4,224.1 L238.4,224.1 L237.4,224.1 L236.4,224.1 L235.4,224.1 L234.4,224.1 L233.4,224.1 L232.4,224.1 L231.4,224.1 L230.4,224.1 L229.4,224.1 L228.4,224.1 L227.4,224.1 L226.4,224.1 L225.4,224.1 L224.4,224.1 L223.4,224.1 L222.4,224.1 L221.4,224.1 L220.4,224.1 L219.4,224.1 L218.4,224.1 L217.4,224.1 L216.4,224.1 L215.4,224.2 L214.4,224.2 L213.4,224.2 L212.4,224.2 L211.4,224.2 L210.4,224.2 L209.4,224.2 L208.4,224.2 L207.4,224.2 L206.4,224.2 L205.4,224.2 L204.4,224.2 L203.4,224.2 L202.4,224.2 L201.4,224.2 L200.4,224.2 L199.4,224.2 L198.4,224.2 L197.4,224.2 L196.4,224.2 L195.4,224.2 L194.4,224.2 L193.4,224.2 L192.4,224.2 L191.4,224.2 L190.4,224.2 L189.4,224.2 L188.4,224.2 L187.4,224.2 L186.4,224.2 L185.4,224.2 L184.4,224.2 L183.4,224.2 L182.4,224.2 L181.4,224.2 L180.4,224.2 L179.4,224.2 L178.4,224.2 L177.4,224.2 L176.4,224.2 L175.4,224.2 L174.4,224.2 L173.4,224.3 L172.4,224.3 L171.4,224.3 L170.4,224.3 L169.4,224.3 L168.4,224.3 L167.4,224.3 L166.4,224.3 L165.4,224.3 L164.4,224.3 L163.4,224.3 L162.4,224.3 L161.4,224.3 L160.4,224.3 L159.4,224.3 L158.4,224.3 L157.4,224.3 L156.4,224.3 L155.4,224.3 L154.4,224.3 L153.4,224.3 L152.4,224.3 L151.4,224.3 L150.4,224.3 L149.4,224.3 L148.4,224.3 L147.4,224.3 L146.4,224.3 L145.4,224.3 L144.4,224.3 L143.4,224.3 L142.4,224.3 L141.4,224.3 L140.4,224.4 L139.4,224.4 L138.4,224.4 L137.4,224.4 L136.4,224.4 L135.4,224.4 L134.4,224.4 L133.4,224.4 L132.4,224.4 L131.4,224.4 L130.4,224.4 L129.4,224.4 L128.4,224.4 L127.4,224.4 L126.4,224.4 L125.4,224.4 L124.4,224.4 L123.4,224.4 L122.4,224.4 L121.4,224.4 L120.4,224.4 L119.4,224.4 L118.4,224.4 L117.4,224.4 L116.4,224.4 L115.4,224.4 L114.4,224.4 L113.4,224.4 L112.4,224.4 L111.4,224.4 L110.4,224.4 L109.4,224.4 L108.4,224.5 L107.4,224.5 L106.4,224.5 L105.4,224.5 L104.4,224.5 L103.4,224.5 L102.4,224.5 L101.4,224.5 L100.4,224.5 L99.4,224.5 L98.4,224.5 L97.4,224.5 L96.4,224.5 L95.4,224.5 L94.4,224.5 L93.4,224.5 L92.4,224.5 L91.4,224.5 L90.4,224.5 L89.4,224.5 L88.4,224.5 L87.4,224.5 L86.4,224.5 L85.4,224.5 L84.4,224.5 L83.4,224.5 L82.4,224.5 L81.4,224.5 L80.4,224.5 L79.4,224.5 L78.4,224.5 L77.4,224.5 L76.4,224.5 L75.4,224.6 L74.4,224.6 L73.4,224.6 L72.4,224.6 L71.4,224.6 L70.4,224.6 L69.4,224.6 L68.4,224.6Z" fill="rgb(125, 188, 138)" fill-opacity="1.0"/>
<path d="M68.4,224.6 L69.4,224.6 L70.4,224.6 L71.4,224.6 L72.4,224.6 L73.4,224.6 L74.4,224.6 L75.4,224.6 L76.4,224.5 L77.4,224.5 L78.4,224.5 L79.4,224.5 L80.4,224.5 L81.4,224.5 L82.4,224.5 L83.4,224.5 L84.4,224.5 L85.4,224.5 L86.4,224.5 L87.4,224.5 L88.4,224.5 L89.4,224.5 L90.4,224.5 L91.4,224.5 L92.4,224.5 L93.4,224.5 L94.4,224.5 L95.4,224.5 L96.4,224.5 L97.4,224.5 L98.4,224.5 L99.4,224.5 L100.4,224.5 L101.4,224.5 L102.4,224.5 L103.4,224.5 L104.4,224.5 L105.4,224.5 L106.4,224.5 L107.4,224.5 L108.4,224.5 L109.4,224.4 L110.4,224.4 L111.4,224.4 L112.4,224.4 L113.4,224.4 L114.4,224.4 L115.4,224.4 L116.4,224.4 L117.4,224.4 L118.4,224.4 L119.4,224.4 L120.4,224.4 L121.4,224.4 L122.4,224.4 L123.4,224.4 L124.4,224.4 L125.4,224.4 L126.4,224.4 L127.4,224.4 L128.4,224.4 L129.4,224.4 L130.4,224.4 L131.4,224.4 L132.4,224.4 L133.4,224.4 L134.4,224.4 L135.4,224.4 L136.4,224.4 L137.4,224.4 L138.4,224.4 L139.4,224.4 L140.4,224.4 L141.4,224.3 L142.4,224.3 L143.4,224.3 L144.4,224.3 L145.4,224.3 L146.4,224.3 L147.4,224.3 L148.4,224.3 L149.4,224.3 L150.4,224.3 L151.4,224.3 L152.4,224.3 L153.4,224.3 L154.4,224.3 L155.4,224.3 L156.4,224.3 L157.4,224.3 L158.4,224.3 L159.4,224.3 L160.4,224.3 L161.4,224.3 L162.4,224.3 L163.4,224.3 L164.4,224.3 L165.4,224.3 L166.4,224.3 L167.4,224.3 L168.4,224.3 L169.4,224.3 L170.4,224.3 L171.4,224.3 L172.4,224.3 L173.4,224.3 L174.4,224.2 L175.4,224.2 L176.4,224.2 L177.4,224.2 L178.4,224.2 L179.4,224.2 L180.4,224.2 L181.4,224.2 L182.4,224.2 L183.4,224.2 L184.4,224.2 L185.4,224.2 L186.4,224.2 L187.4,224.2 L188.4,224.2 L189.4,224.2 L190.4,224.2 L191.4,224.2 L192.4,224.2 L193.4,224.2 L194.4,224.2 L195.4,224.2 L196.4,224.2 L197.4,224.2 L198.4,224.2 L199.4,224.2 L200.4,224.2 L201.4,224.2 L202.4,224.2 L203.4,224.2 L204.4,224.2 L205.4,224.2 L206.4,224.2 L207.4,224.2 L208.4,224.2 L209.4,224.2 L210.4,224.2 L211.4,224.2 L212.4,224.2 L213.4,224.2 L214.4,224.2 L215.4,224.2 L216.4,224.1 L217.4,224.1 L218.4,224.1 L219.4,224.1 L220.4,224.1 L221.4,224.1 L222.4,224.1 L223.4,224.1 L224.4,224.1 L225.4,224.1 L226.4,224.1 L227.4,224.1 L228.4,224.1 L229.4,224.1 L230.4,224.1 L231.4,224.1 L232.4,224.1 L233.4,224.1 L234.4,224.1 L235.4,224.1 L236.4,224.1 L237.4,224.1 L238.4,224.1 L239.4,224.1 L240.4,224.1 L241.4,224.1 L242.4,224.1 L243.4,224.2 L244.4,224.2 L245.4,224.3 L246.4,224.4 L247.4,224.4 L248.4,224.5 L249.4,224.6 L250.4,224.6 L251.4,224.7 L252.4,224.7 L253.4,224.8 L254.4,224.9 L255.4,224.9 L256.4,225.0 L257.4,225.1 L258.4,225.2 L259.4,225.3 L260.4,225.4 L261.4,225.5 L262.4,225.6 L263.4,225.7 L264.4,225.8 L265.4,225.9 L266.4,226.0 L267.4,226.1 L268.4,226.2 L269.4,226.2 L270.4,226.4 L271.4,226.5 L272.4,226.6 L273.4,226.7 L274.4,226.9 L275.4,227.0 L276.4,227.1 L277.4,227.3 L278.4,227.5 L279.4,227.7 L280.4,227.8 L281.4,228.0 L282.4,228.2 L283.4,228.4 L284.4,228.6 L285.4,228.8 L286.4,229.0 L287.4,229.2 L288.4,229.4 L289.4,229.6 L290.4,229.8 L291.4,229.9 L292.4,230.1 L293.4,230.3 L294.4,230.5 L295.4,230.7 L296.4,230.9 L297.4,231.1 L298.4,231.2 L299.4,231.3 L300.4,231.5 L301.4,231.6 L302.4,231.7 L303.4,231.8 L304.4,231.9 L305.4,232.0 L306.4,232.1 L307.4,232.2 L308.4,232.3 L309.4,232.4 L310.4,232.5 L311.4,232.6 L312.4,232.7 L313.4,232.8 L314.4,232.9 L315.4,233.0 L316.4,233.0 L317.4,233.0 L318.4,233.0 L319.4,233.1 L320.4,233.1 L321.4,233.1 L322.4,233.1 L323.4,233.1 L324.4,233.1 L325.4,233.1 L326.4,233.1 L327.4,233.1 L328.4,233.2 L329.4,233.2 L330.4,233.2 L331.4,233.2 L332.4,233.2 L333.4,233.2 L334.4,233.2 L335.4,233.2 L336.4,233.3 L337.4,233.3 L338.4,233.3 L339.4,233.3 L340.4,233.3 L341.4,233.3 L342.4,233.3 L343.4,233.3 L344.4,233.3 L345.4,233.3 L346.4,233.3 L347.4,233.3 L348.4,233.3 L349.4,233.3 L350.4,233.3 L351.4,233.3 L352.4,233.3 L353.4,233.4 L354.4,233.4 L355.4,233.4 L355.4,235.4 L354.4,235.3 L353.4,235.3 L352.4,235.3 L351.4,235.3 L350.4,235.2 L349.4,235.2 L348.4,235.2 L347.4,235.2 L346.4,235.1 L345.4,235.1 L344.4,235.1 L343.4,235.1 L342.4,235.0 L341.4,235.0 L340.4,235.0 L339.4,234.9 L338.4,234.9 L337.4,234.9 L336.4,234.9 L335.4,234.8 L334.4,234.8 L333.4,234.8 L332.4,234.8 L331.4,234.7 L330.4,234.7 L329.4,234.7 L328.4,234.7 L327.4,234.6 L326.4,234.6 L325.4,234.6 L324.4,234.6 L323.4,234.5 L322.4,234.5 L321.4,234.5 L320.4,234.5 L319.4,234.4 L318.4,234.4 L317.4,234.4 L316.4,234.4 L315.4,234.3 L314.4,234.3 L313.4,234.3 L312.4,234.3 L311.4,234.2 L310.4,234.2 L309.4,234.2 L308.4,234.1 L307.4,234.1 L306.4,234.0 L305.4,234.0 L304.4,233.9 L303.4,233.9 L302.4,233.8 L301.4,233.8 L300.4,233.8 L299.4,233.7 L298.4,233.7 L297.4,233.6 L296.4,233.6 L295.4,233.5 L294.4,233.5 L293.4,233.4 L292.4,233.4 L291.4,233.3 L290.4,233.3 L289.4,233.2 L288.4,233.2 L287.4,233.1 L286.4,233.1 L285.4,233.1 L284.4,233.0 L283.4,233.0 L282.4,232.9 L281.4,232.9 L280.4,232.8 L279.4,232.8 L278.4,232.7 L277.4,232.7 L276.4,232.6 L275.4,232.6 L274.4,232.5 L273.4,232.5 L272.4,232.5 L271.4,232.4 L270.4,232.4 L269.4,232.3 L268.4,232.3 L267.4,232.2 L266.4,232.2 L265.4,232.1 L264.4,232.1 L263.4,232.1 L262.4,232.0 L261.4,232.0 L260.4,231.9 L259.4,231.9 L258.4,231.8 L257.4,231.8 L256.4,231.7 L255.4,231.7 L254.4,231.6 L253.4,231.6 L252.4,231.6 L251.4,231.5 L250.4,231.5 L249.4,231.4 L248.4,231.4 L247.4,231.3 L246.4,231.3 L245.4,231.2 L244.4,231.2 L243.4,231.2 L242.4,231.1 L241.4,231.1 L240.4,231.0 L239.4,231.0 L238.4,231.0 L237.4,230.9 L236.4,230.9 L235.4,230.9 L234.4,230.9 L233.4,230.8 L232.4,230.8 L231.4,230.8 L230.4,230.8 L229.4,230.7 L228.4,230.7 L227.4,230.7 L226.4,230.7 L225.4,230.6 L224.4,230.6 L223.4,230.6 L222.4,230.6 L221.4,230.6 L220.4,230.5 L219.4,230.5 L218.4,230.5 L217.4,230.5 L216.4,230.4 L215.4,230.4 L214.4,230.4 L213.4,230.4 L212.4,230.3 L211.4,230.3 L210.4,230.3 L209.4,230.3 L208.4,230.2 L207.4,230.2 L206.4,230.2 L205.4,230.2 L204.4,230.1 L203.4,230.1 L202.4,230.1 L201.4,230.1 L200.4,230.0 L199.4,230.0 L198.4,230.0 L197.4,230.0 L196.4,230.0 L195.4,229.9 L194.4,229.9 L193.4,229.9 L192.4,229.9 L191.4,229.8 L190.4,229.8 L189.4,229.8 L188.4,229.8 L187.4,229.7 L186.4,229.7 L185.4,229.7 L184.4,229.7 L183.4,229.6 L182.4,229.6 L181.4,229.6 L180.4,229.5 L179.4,229.5 L178.4,229.5 L177.4,229.5 L176.4,229.4 L175.4,229.4 L174.4,229.4 L173.4,229.4 L172.4,229.3 L171.4,229.3 L170.4,229.3 L169.4,229.3 L168.4,229.2 L167.4,229.2 L166.4,229.2 L165.4,229.2 L164.4,229.1 L163.4,229.1 L162.4,229.1 L161.4,229.1 L160.4,229.0 L159.4,229.0 L158.4,229.0 L157.4,228.9 L156.4,228.9 L155.4,228.9 L154.4,228.9 L153.4,228.8 L152.4,228.8 L151.4,228.8 L150.4,228.8 L149.4,228.7 L148.4,228.7 L147.4,228.7 L146.4,228.7 L145.4,228.6 L144.4,228.6 L143.4,228.6 L142.4,228.6 L141.4,228.5 L140.4,228.5 L139.4,228.5 L138.4,228.5 L137.4,228.4 L136.4,228.4 L135.4,228.4 L134.4,228.3 L133.4,228.3 L132.4,228.3 L131.4,228.3 L130.4,228.2 L129.4,228.2 L128.4,228.2 L127.4,228.2 L126.4,228.1 L125.4,228.1 L124.4,228.1 L123.4,228.1 L122.4,228.0 L121.4,228.0 L120.4,228.0 L119.4,228.0 L118.4,227.9 L117.4,227.9 L116.4,227.9 L115.4,227.8 L114.4,227.8 L113.4,227.8 L112.4,227.8 L111.4,227.7 L110.4,227.7 L109.4,227.7 L108.4,227.7 L107.4,227.6 L106.4,227.6 L105.4,227.6 L104.4,227.6 L103.4,227.5 L102.4,227.5 L101.4,227.5 L100.4,227.5 L99.4,227.4 L98.4,227.4 L97.4,227.4 L96.4,227.4 L95.4,227.3 L94.4,227.3 L93.4,227.3 L92.4,227.2 L91.4,227.2 L90.4,227.2 L89.4,227.2 L88.4,227.1 L87.4,227.1 L86.4,227.1 L85.4,227.1 L84.4,227.0 L83.4,227.0 L82.4,227.0 L81.4,227.0 L80.4,226.9 L79.4,226.9 L78.4,226.9 L77.4,226.9 L76.4,226.8 L75.4,226.8 L74.4,226.8 L73.4,226.8 L72.4,226.7 L71.4,226.7 L70.4,226.7 L69.4,226.6 L68.4,226.6Z" fill="rgb(139, 166, 90)" fill-opacity="1.0"/>
</g>
<text x="235.6" y="100.6" font-size="13.7" textLength="25.9" lengthAdjust="spacingAndGlyphs">C-C</text>
<line x1="255.4" y1="105.9" x2="280.9" y2="141.7" stroke="#000" stroke-width="1.3"/>
<text x="235.82" y="170.3" font-size="14.1" textLength="25.35" lengthAdjust="spacingAndGlyphs">C-N</text>
<line x1="247.7" y1="174.3" x2="274.6" y2="211.4" stroke="#000" stroke-width="1.3"/>
<text x="192.1" y="173.6" font-size="14.1" textLength="26.71" lengthAdjust="spacingAndGlyphs">C-O</text>
<line x1="207.7" y1="176.2" x2="237.7" y2="218" stroke="#000" stroke-width="1.3"/>
<text x="119.5" y="195.25" font-size="15.1" textLength="46.92" lengthAdjust="spacingAndGlyphs">O-C=O</text>
<line x1="147.1" y1="197.9" x2="159.7" y2="223.5" stroke="#000" stroke-width="1.3"/>
<line x1="84.6" y1="252.4" x2="84.6" y2="258.2" stroke="#000" stroke-width="2.2"/>
<line x1="117.31" y1="252.4" x2="117.31" y2="256" stroke="#000" stroke-width="2.2"/>
<line x1="150.03" y1="252.4" x2="150.03" y2="258.2" stroke="#000" stroke-width="2.2"/>
<line x1="182.74" y1="252.4" x2="182.74" y2="256" stroke="#000" stroke-width="2.2"/>
<line x1="215.45" y1="252.4" x2="215.45" y2="258.2" stroke="#000" stroke-width="2.2"/>
<line x1="248.16" y1="252.4" x2="248.16" y2="256" stroke="#000" stroke-width="2.2"/>
<line x1="280.88" y1="252.4" x2="280.88" y2="258.2" stroke="#000" stroke-width="2.2"/>
<line x1="313.59" y1="252.4" x2="313.59" y2="256" stroke="#000" stroke-width="2.2"/>
<line x1="346.3" y1="252.4" x2="346.3" y2="258.2" stroke="#000" stroke-width="2.2"/>
<rect x="67.4" y="39.5" width="289.7" height="212.9" fill="none" stroke="#000" stroke-width="2.4"/>
<text x="70.92" y="276.2" font-size="19.7" textLength="28.07" lengthAdjust="spacingAndGlyphs">294</text>
<text x="135.61" y="276.2" font-size="19.7" textLength="28.07" lengthAdjust="spacingAndGlyphs">291</text>
<text x="201.23" y="276.2" font-size="19.7" textLength="28.07" lengthAdjust="spacingAndGlyphs">288</text>
<text x="266.41" y="276.2" font-size="19.7" textLength="28.07" lengthAdjust="spacingAndGlyphs">285</text>
<text x="332.91" y="276.2" font-size="19.7" textLength="28.07" lengthAdjust="spacingAndGlyphs">282</text>
<text x="113.4" y="304.4" font-size="23.7" textLength="197.94" lengthAdjust="spacingAndGlyphs">Binding Energy (eV)</text>
<text x="79.95" y="78.4" font-size="36.8" textLength="45.51" lengthAdjust="spacingAndGlyphs">(a)</text>
<text x="309.16" y="62.6" font-size="20.4" textLength="38.18" lengthAdjust="spacingAndGlyphs">C 1s</text>
<text transform="translate(54.6,222.05) rotate(-90)" x="0" y="0" font-size="24" textLength="146.52" lengthAdjust="spacingAndGlyphs">Intensity (a.u.)</text>
</g>
<g id="pb">
<clipPath id="clipb"><rect x="411.2" y="39.8" width="290.2" height="214.0"/></clipPath>
<g clip-path="url(#clipb)">
<path d="M412.2,232.2 L413.2,232.9 L414.2,235.2 L415.2,237.4 L416.2,239.7 L417.2,241.7 L418.2,240.7 L419.2,239.8 L420.2,238.8 L421.2,238.1 L422.2,237.4 L423.2,236.7 L424.2,235.5 L425.2,233.4 L426.2,231.2 L427.2,230.9 L428.2,231.8 L429.2,232.7 L430.2,232.8 L431.2,232.3 L432.2,231.7 L433.2,231.1 L434.2,230.6 L435.2,231.2 L436.2,232.2 L437.2,233.3 L438.2,234.4 L439.2,235.5 L440.2,234.7 L441.2,233.9 L442.2,233.1 L443.2,232.4 L444.2,231.9 L445.2,231.4 L446.2,230.9 L447.2,230.4 L448.2,230.7 L449.2,231.0 L450.2,231.4 L451.2,231.5 L452.2,231.0 L453.2,230.4 L454.2,229.9 L455.2,229.3 L456.2,228.8 L457.2,230.9 L458.2,233.1 L459.2,235.2 L460.2,235.6 L461.2,234.2 L462.2,232.8 L463.2,231.4 L464.2,230.0 L465.2,230.2 L466.2,231.1 L467.2,231.9 L468.2,233.6 L469.2,235.5 L470.2,237.4 L471.2,236.5 L472.2,234.4 L473.2,232.3 L474.2,230.7 L475.2,229.4 L476.2,228.2 L477.2,227.7 L478.2,228.4 L479.2,229.1 L480.2,229.6 L481.2,229.1 L482.2,228.6 L483.2,228.1 L484.2,227.6 L485.2,227.0 L486.2,226.4 L487.2,225.8 L488.2,225.4 L489.2,225.3 L490.2,225.2 L491.2,225.1 L492.2,224.4 L493.2,222.9 L494.2,221.5 L495.2,220.0 L496.2,219.6 L497.2,220.7 L498.2,222.3 L499.2,227.6 L500.2,227.8 L501.2,227.5 L502.2,227.2 L503.2,227.3 L504.2,228.1 L505.2,229.0 L506.2,229.8 L507.2,230.0 L508.2,230.2 L509.2,230.5 L510.2,229.3 L511.2,228.1 L512.2,226.8 L513.2,226.1 L514.2,225.5 L515.2,224.9 L516.2,224.3 L517.2,223.7 L518.2,223.2 L519.2,222.7 L520.2,222.2 L521.2,221.6 L522.2,221.1 L523.2,220.5 L524.2,219.9 L525.2,219.4 L526.2,218.5 L527.2,217.3 L528.2,216.6 L529.2,216.5 L530.2,216.3 L531.2,215.5 L532.2,214.5 L533.2,213.7 L534.2,212.5 L535.2,210.4 L536.2,208.1 L537.2,206.2 L538.2,205.1 L539.2,204.4 L540.2,203.3 L541.2,201.5 L542.2,199.4 L543.2,197.2 L544.2,194.7 L545.2,191.9 L546.2,189.4 L547.2,187.5 L548.2,185.8 L549.2,183.4 L550.2,180.2 L551.2,176.6 L552.2,172.9 L553.2,169.3 L554.2,165.9 L555.2,162.2 L556.2,158.6 L557.2,155.4 L558.2,152.1 L559.2,148.0 L560.2,143.2 L561.2,138.5 L562.2,135.2 L563.2,133.1 L564.2,131.1 L565.2,128.9 L566.2,126.9 L567.2,125.0 L568.2,123.1 L569.2,120.8 L570.2,118.4 L571.2,116.1 L572.2,114.3 L573.2,113.2 L574.2,112.7 L575.2,112.0 L576.2,110.2 L577.2,106.8 L578.2,102.6 L579.2,98.8 L580.2,97.9 L581.2,97.0 L582.2,96.2 L583.2,95.3 L584.2,94.6 L585.2,93.9 L586.2,93.2 L587.2,92.5 L588.2,90.8 L589.2,88.5 L590.2,87.0 L591.2,85.8 L592.2,84.6 L593.2,83.4 L594.2,81.9 L595.2,80.3 L596.2,78.8 L597.2,77.2 L598.2,75.7 L599.2,74.2 L600.2,73.8 L601.2,74.4 L602.2,75.0 L603.2,75.6 L604.2,76.4 L605.2,77.2 L606.2,78.0 L607.2,79.7 L608.2,81.9 L609.2,84.5 L610.2,89.3 L611.2,94.9 L612.2,98.4 L613.2,102.5 L614.2,106.5 L615.2,110.3 L616.2,114.0 L617.2,117.1 L618.2,118.9 L619.2,120.0 L620.2,121.4 L621.2,123.8 L622.2,127.9 L623.2,133.7 L624.2,139.3 L625.2,143.4 L626.2,146.7 L627.2,150.7 L628.2,155.3 L629.2,159.5 L630.2,163.0 L631.2,166.4 L632.2,170.1 L633.2,173.7 L634.2,176.6 L635.2,176.6 L636.2,179.9 L637.2,183.2 L638.2,186.5 L639.2,189.8 L640.2,193.0 L641.2,194.6 L642.2,196.2 L643.2,197.8 L644.2,199.4 L645.2,201.0 L646.2,203.3 L647.2,205.6 L648.2,207.6 L649.2,209.3 L650.2,211.0 L651.2,212.7 L652.2,214.5 L653.2,216.5 L654.2,218.4 L655.2,219.9 L656.2,221.3 L657.2,222.8 L658.2,224.3 L659.2,225.7 L660.2,226.7 L661.2,227.7 L662.2,228.7 L663.2,229.5 L664.2,229.6 L665.2,229.8 L666.2,230.0 L667.2,230.7 L668.2,231.8 L669.2,233.0 L670.2,234.2 L671.2,234.9 L672.2,235.4 L673.2,235.9 L674.2,236.4 L675.2,236.9 L676.2,238.2 L677.2,239.9 L678.2,241.5 L679.2,243.2 L680.2,243.2 L681.2,242.9 L682.2,242.7 L683.2,242.4 L684.2,242.2 L685.2,242.6 L686.2,243.2 L687.2,243.8 L688.2,244.5 L689.2,245.1 L690.2,244.8 L691.2,244.3 L692.2,243.9 L693.2,243.4 L694.2,242.4 L695.2,241.4 L696.2,240.4 L697.2,241.4 L698.2,242.9 L699.2,244.4 L700.2,245.9" fill="none" stroke="#000" stroke-width="2.4" stroke-linejoin="round"/>
<path d="M412.2,232.8 L413.2,232.8 L414.2,232.8 L415.2,232.8 L416.2,232.9 L417.2,233.0 L418.2,233.2 L419.2,233.3 L420.2,233.4 L421.2,233.4 L422.2,233.4 L423.2,233.4 L424.2,233.4 L425.2,233.4 L426.2,233.4 L427.2,233.3 L428.2,233.3 L429.2,233.3 L430.2,233.3 L431.2,233.2 L432.2,233.2 L433.2,233.2 L434.2,233.1 L435.2,233.1 L436.2,233.0 L437.2,233.0 L438.2,233.0 L439.2,232.9 L440.2,232.9 L441.2,232.8 L442.2,232.8 L443.2,232.7 L444.2,232.7 L445.2,232.6 L446.2,232.5 L447.2,232.4 L448.2,232.3 L449.2,232.1 L450.2,231.9 L451.2,231.8 L452.2,231.7 L453.2,231.6 L454.2,231.6 L455.2,231.5 L456.2,231.5 L457.2,231.4 L458.2,231.4 L459.2,231.5 L460.2,231.5 L461.2,231.5 L462.2,231.5 L463.2,231.5 L464.2,231.4 L465.2,231.3 L466.2,231.3 L467.2,231.2 L468.2,231.1 L469.2,231.0 L470.2,230.9 L471.2,230.8 L472.2,230.8 L473.2,230.7 L474.2,230.7 L475.2,230.6 L476.2,230.6 L477.2,230.5 L478.2,230.4 L479.2,230.3 L480.2,230.2 L481.2,230.1 L482.2,230.0 L483.2,229.9 L484.2,229.7 L485.2,229.6 L486.2,229.5 L487.2,229.3 L488.2,229.2 L489.2,229.1 L490.2,228.9 L491.2,228.9 L492.2,228.8 L493.2,228.8 L494.2,228.8 L495.2,228.8 L496.2,228.8 L497.2,228.8 L498.2,228.7 L499.2,228.6 L500.2,228.4 L501.2,228.3 L502.2,228.1 L503.2,227.9 L504.2,227.6 L505.2,227.3 L506.2,227.0 L507.2,226.7 L508.2,226.4 L509.2,226.2 L510.2,226.0 L511.2,225.8 L512.2,225.6 L513.2,225.3 L514.2,225.1 L515.2,224.8 L516.2,224.5 L517.2,224.2 L518.2,223.8 L519.2,223.5 L520.2,223.1 L521.2,222.7 L522.2,222.3 L523.2,221.8 L524.2,221.3 L525.2,220.8 L526.2,220.2 L527.2,219.5 L528.2,218.7 L529.2,217.8 L530.2,216.9 L531.2,215.9 L532.2,214.9 L533.2,213.9 L534.2,212.7 L535.2,211.5 L536.2,210.2 L537.2,208.8 L538.2,207.2 L539.2,205.6 L540.2,203.8 L541.2,202.0 L542.2,200.1 L543.2,198.1 L544.2,196.0 L545.2,193.8 L546.2,191.5 L547.2,188.9 L548.2,186.2 L549.2,183.3 L550.2,180.2 L551.2,177.0 L552.2,173.5 L553.2,169.9 L554.2,166.1 L555.2,162.2 L556.2,158.2 L557.2,154.2 L558.2,150.2 L559.2,146.3 L560.2,142.6 L561.2,139.0 L562.2,135.6 L563.2,132.5 L564.2,129.6 L565.2,127.0 L566.2,124.6 L567.2,122.4 L568.2,120.4 L569.2,118.5 L570.2,116.6 L571.2,114.9 L572.2,113.2 L573.2,111.5 L574.2,109.9 L575.2,108.2 L576.2,106.4 L577.2,104.7 L578.2,102.8 L579.2,101.0 L580.2,99.1 L581.2,97.2 L582.2,95.4 L583.2,93.6 L584.2,91.9 L585.2,90.3 L586.2,88.8 L587.2,87.3 L588.2,86.0 L589.2,84.7 L590.2,83.6 L591.2,82.5 L592.2,81.5 L593.2,80.7 L594.2,80.1 L595.2,79.7 L596.2,79.4 L597.2,79.3 L598.2,79.3 L599.2,79.5 L600.2,79.9 L601.2,80.4 L602.2,81.1 L603.2,82.0 L604.2,83.0 L605.2,84.2 L606.2,85.6 L607.2,87.3 L608.2,89.2 L609.2,91.4 L610.2,93.8 L611.2,96.5 L612.2,99.6 L613.2,102.8 L614.2,106.3 L615.2,109.9 L616.2,113.6 L617.2,117.2 L618.2,120.7 L619.2,124.0 L620.2,127.2 L621.2,130.5 L622.2,133.8 L623.2,137.2 L624.2,140.7 L625.2,144.3 L626.2,147.9 L627.2,151.6 L628.2,155.2 L629.2,158.8 L630.2,162.3 L631.2,165.8 L632.2,169.1 L633.2,172.3 L634.2,175.4 L635.2,178.5 L636.2,181.5 L637.2,184.4 L638.2,187.3 L639.2,190.1 L640.2,192.9 L641.2,195.6 L642.2,198.2 L643.2,200.7 L644.2,203.1 L645.2,205.4 L646.2,207.6 L647.2,209.7 L648.2,211.6 L649.2,213.5 L650.2,215.3 L651.2,217.1 L652.2,218.7 L653.2,220.2 L654.2,221.7 L655.2,223.1 L656.2,224.4 L657.2,225.7 L658.2,226.9 L659.2,228.1 L660.2,229.3 L661.2,230.3 L662.2,231.2 L663.2,232.0 L664.2,232.8 L665.2,233.5 L666.2,234.2 L667.2,234.9 L668.2,235.5 L669.2,236.1 L670.2,236.7 L671.2,237.1 L672.2,237.5 L673.2,237.8 L674.2,238.1 L675.2,238.3 L676.2,238.4 L677.2,238.6 L678.2,238.8 L679.2,239.1 L680.2,239.3 L681.2,239.6 L682.2,239.8 L683.2,239.9 L684.2,240.1 L685.2,240.1 L686.2,240.2 L687.2,240.2 L688.2,240.1 L689.2,240.0 L690.2,240.0 L691.2,240.0 L692.2,240.0 L693.2,240.1 L694.2,240.2 L695.2,240.4 L696.2,240.5 L697.2,240.5 L698.2,240.6 L699.2,240.7 L700.2,240.7" fill="none" stroke="#f01010" stroke-width="2.6" stroke-linejoin="round"/>
<path d="M412.2,234.6 L413.2,234.7 L414.2,234.7 L415.2,234.7 L416.2,234.7 L417.2,234.7 L418.2,234.8 L419.2,234.8 L420.2,234.8 L421.2,234.8 L422.2,234.9 L423.2,234.9 L424.2,234.9 L425.2,234.9 L426.2,235.0 L427.2,235.0 L428.2,235.0 L429.2,235.0 L430.2,235.0 L431.2,235.1 L432.2,235.1 L433.2,235.1 L434.2,235.1 L435.2,235.2 L436.2,235.2 L437.2,235.2 L438.2,235.2 L439.2,235.2 L440.2,235.3 L441.2,235.3 L442.2,235.3 L443.2,235.3 L444.2,235.4 L445.2,235.4 L446.2,235.4 L447.2,235.4 L448.2,235.4 L449.2,235.5 L450.2,235.5 L451.2,235.5 L452.2,235.5 L453.2,235.5 L454.2,235.6 L455.2,235.6 L456.2,235.6 L457.2,235.6 L458.2,235.6 L459.2,235.7 L460.2,235.7 L461.2,235.7 L462.2,235.7 L463.2,235.7 L464.2,235.7 L465.2,235.8 L466.2,235.8 L467.2,235.8 L468.2,235.8 L469.2,235.8 L470.2,235.8 L471.2,235.9 L472.2,235.9 L473.2,235.9 L474.2,235.9 L475.2,235.9 L476.2,235.9 L477.2,235.9 L478.2,235.9 L479.2,235.9 L480.2,235.9 L481.2,235.9 L482.2,235.9 L483.2,235.9 L484.2,235.9 L485.2,235.9 L486.2,235.9 L487.2,235.9 L488.2,235.9 L489.2,235.8 L490.2,235.8 L491.2,235.8 L492.2,235.7 L493.2,235.6 L494.2,235.4 L495.2,235.2 L496.2,235.1 L497.2,234.9 L498.2,234.9 L499.2,234.8 L500.2,234.8 L501.2,234.8 L502.2,234.8 L503.2,234.8 L504.2,234.9 L505.2,235.0 L506.2,235.1 L507.2,235.1 L508.2,234.9 L509.2,234.7 L510.2,234.4 L511.2,234.1 L512.2,233.9 L513.2,233.7 L514.2,233.6 L515.2,233.5 L516.2,233.4 L517.2,233.3 L518.2,233.3 L519.2,233.3 L520.2,233.3 L521.2,233.4 L522.2,233.2 L523.2,233.0 L524.2,232.6 L525.2,232.2 L526.2,231.7 L527.2,231.3 L528.2,230.9 L529.2,230.4 L530.2,230.0 L531.2,229.6 L532.2,229.1 L533.2,228.7 L534.2,228.4 L535.2,228.2 L536.2,227.8 L537.2,227.3 L538.2,226.6 L539.2,225.8 L540.2,224.9 L541.2,223.9 L542.2,222.8 L543.2,221.7 L544.2,220.6 L545.2,219.4 L546.2,218.1 L547.2,216.7 L548.2,215.1 L549.2,213.4 L550.2,211.6 L551.2,209.6 L552.2,207.5 L553.2,205.4 L554.2,203.1 L555.2,200.7 L556.2,198.4 L557.2,196.0 L558.2,193.6 L559.2,191.3 L560.2,188.9 L561.2,186.3 L562.2,183.6 L563.2,180.7 L564.2,177.6 L565.2,174.2 L566.2,170.5 L567.2,166.7 L568.2,162.8 L569.2,159.1 L570.2,155.5 L571.2,152.1 L572.2,148.7 L573.2,145.3 L574.2,141.9 L575.2,138.5 L576.2,135.0 L577.2,131.6 L578.2,128.3 L579.2,125.1 L580.2,122.1 L581.2,119.5 L582.2,117.2 L583.2,115.1 L584.2,113.0 L585.2,110.7 L586.2,108.4 L587.2,106.1 L588.2,103.8 L589.2,101.7 L590.2,99.7 L591.2,97.9 L592.2,96.3 L593.2,94.9 L594.2,93.6 L595.2,92.6 L596.2,91.9 L597.2,91.4 L598.2,91.1 L599.2,91.1 L600.2,91.3 L601.2,91.7 L602.2,92.2 L603.2,93.0 L604.2,94.1 L605.2,95.4 L606.2,97.1 L607.2,98.9 L608.2,101.0 L609.2,103.4 L610.2,105.9 L611.2,108.7 L612.2,111.7 L613.2,115.0 L614.2,118.6 L615.2,122.2 L616.2,125.7 L617.2,129.0 L618.2,132.2 L619.2,135.4 L620.2,138.5 L621.2,141.5 L622.2,144.5 L623.2,147.5 L624.2,150.3 L625.2,153.0 L626.2,155.8 L627.2,158.6 L628.2,161.5 L629.2,164.4 L630.2,167.3 L631.2,170.2 L632.2,173.0 L633.2,175.7 L634.2,178.2 L635.2,180.6 L636.2,183.0 L637.2,185.4 L638.2,187.9 L639.2,190.5 L640.2,193.2 L641.2,195.8 L642.2,198.4 L643.2,200.8 L644.2,203.1 L645.2,205.3 L646.2,207.5 L647.2,209.8 L648.2,212.1 L649.2,214.3 L650.2,216.3 L651.2,218.1 L652.2,219.7 L653.2,221.2 L654.2,222.6 L655.2,224.0 L656.2,225.4 L657.2,226.7 L658.2,228.0 L659.2,229.1 L660.2,230.0 L661.2,230.9 L662.2,231.6 L663.2,232.3 L664.2,232.9 L665.2,233.5 L666.2,234.0 L667.2,234.7 L668.2,235.4 L669.2,236.1 L670.2,236.7 L671.2,237.3 L672.2,237.7 L673.2,238.0 L674.2,238.3 L675.2,238.5 L676.2,238.6 L677.2,238.6 L678.2,238.6 L679.2,238.4 L680.2,238.3 L681.2,238.3 L682.2,238.4 L683.2,238.5 L684.2,238.6 L685.2,238.7 L686.2,238.9 L687.2,239.0 L688.2,239.1 L689.2,239.2 L690.2,239.3 L691.2,239.4 L692.2,239.4 L693.2,239.5 L694.2,239.6 L695.2,239.6 L696.2,239.7 L697.2,239.8 L698.2,239.8 L699.2,239.9 L700.2,239.9 L700.2,241.2 L699.2,241.2 L698.2,241.2 L697.2,241.1 L696.2,241.1 L695.2,241.1 L694.2,241.1 L693.2,241.0 L692.2,241.0 L691.2,241.0 L690.2,241.0 L689.2,241.0 L688.2,240.9 L687.2,240.9 L686.2,240.9 L685.2,240.9 L684.2,240.9 L683.2,240.8 L682.2,240.8 L681.2,240.8 L680.2,240.8 L679.2,240.7 L678.2,240.7 L677.2,240.7 L676.2,240.7 L675.2,240.7 L674.2,240.6 L673.2,240.6 L672.2,240.6 L671.2,240.6 L670.2,240.6 L669.2,240.5 L668.2,240.5 L667.2,240.5 L666.2,240.5 L665.2,240.5 L664.2,240.4 L663.2,240.4 L662.2,240.4 L661.2,240.4 L660.2,240.3 L659.2,240.3 L658.2,240.3 L657.2,240.3 L656.2,240.3 L655.2,240.2 L654.2,240.2 L653.2,240.2 L652.2,240.2 L651.2,240.2 L650.2,240.1 L649.2,240.1 L648.2,240.1 L647.2,240.1 L646.2,240.1 L645.2,240.0 L644.2,240.0 L643.2,240.0 L642.2,240.0 L641.2,239.9 L640.2,239.9 L639.2,239.9 L638.2,239.9 L637.2,239.9 L636.2,239.8 L635.2,239.8 L634.2,239.8 L633.2,239.8 L632.2,239.8 L631.2,239.7 L630.2,239.7 L629.2,239.7 L628.2,239.7 L627.2,239.7 L626.2,239.6 L625.2,239.6 L624.2,239.6 L623.2,239.6 L622.2,239.5 L621.2,239.5 L620.2,239.5 L619.2,239.5 L618.2,239.4 L617.2,239.4 L616.2,239.4 L615.2,239.4 L614.2,239.3 L613.2,239.3 L612.2,239.3 L611.2,239.2 L610.2,239.2 L609.2,239.2 L608.2,239.1 L607.2,239.1 L606.2,239.1 L605.2,239.1 L604.2,239.0 L603.2,239.0 L602.2,239.0 L601.2,238.9 L600.2,238.9 L599.2,238.9 L598.2,238.8 L597.2,238.8 L596.2,238.8 L595.2,238.8 L594.2,238.7 L593.2,238.7 L592.2,238.7 L591.2,238.6 L590.2,238.6 L589.2,238.6 L588.2,238.5 L587.2,238.5 L586.2,238.5 L585.2,238.5 L584.2,238.4 L583.2,238.4 L582.2,238.4 L581.2,238.3 L580.2,238.3 L579.2,238.3 L578.2,238.3 L577.2,238.3 L576.2,238.2 L575.2,238.2 L574.2,238.2 L573.2,238.2 L572.2,238.2 L571.2,238.2 L570.2,238.1 L569.2,238.1 L568.2,238.1 L567.2,238.1 L566.2,238.1 L565.2,238.1 L564.2,238.0 L563.2,238.0 L562.2,238.0 L561.2,238.0 L560.2,238.0 L559.2,238.0 L558.2,238.0 L557.2,237.9 L556.2,237.9 L555.2,237.9 L554.2,237.9 L553.2,237.9 L552.2,237.9 L551.2,237.8 L550.2,237.8 L549.2,237.8 L548.2,237.8 L547.2,237.8 L546.2,237.8 L545.2,237.7 L544.2,237.7 L543.2,237.7 L542.2,237.7 L541.2,237.7 L540.2,237.7 L539.2,237.6 L538.2,237.6 L537.2,237.6 L536.2,237.6 L535.2,237.6 L534.2,237.6 L533.2,237.6 L532.2,237.5 L531.2,237.5 L530.2,237.5 L529.2,237.5 L528.2,237.5 L527.2,237.5 L526.2,237.4 L525.2,237.4 L524.2,237.4 L523.2,237.4 L522.2,237.4 L521.2,237.4 L520.2,237.4 L519.2,237.3 L518.2,237.3 L517.2,237.3 L516.2,237.3 L515.2,237.3 L514.2,237.3 L513.2,237.2 L512.2,237.2 L511.2,237.2 L510.2,237.2 L509.2,237.2 L508.2,237.2 L507.2,237.2 L506.2,237.1 L505.2,237.1 L504.2,237.1 L503.2,237.1 L502.2,237.1 L501.2,237.1 L500.2,237.1 L499.2,237.0 L498.2,237.0 L497.2,237.0 L496.2,237.0 L495.2,237.0 L494.2,237.0 L493.2,236.9 L492.2,236.9 L491.2,236.9 L490.2,236.9 L489.2,236.9 L488.2,236.9 L487.2,236.9 L486.2,236.8 L485.2,236.8 L484.2,236.8 L483.2,236.8 L482.2,236.8 L481.2,236.8 L480.2,236.8 L479.2,236.7 L478.2,236.7 L477.2,236.7 L476.2,236.7 L475.2,236.7 L474.2,236.7 L473.2,236.6 L472.2,236.6 L471.2,236.6 L470.2,236.6 L469.2,236.6 L468.2,236.6 L467.2,236.5 L466.2,236.5 L465.2,236.5 L464.2,236.4 L463.2,236.4 L462.2,236.4 L461.2,236.4 L460.2,236.3 L459.2,236.3 L458.2,236.3 L457.2,236.2 L456.2,236.2 L455.2,236.2 L454.2,236.2 L453.2,236.1 L452.2,236.1 L451.2,236.1 L450.2,236.1 L449.2,236.0 L448.2,236.0 L447.2,236.0 L446.2,235.9 L445.2,235.9 L444.2,235.9 L443.2,235.9 L442.2,235.8 L441.2,235.8 L440.2,235.8 L439.2,235.7 L438.2,235.7 L437.2,235.7 L436.2,235.7 L435.2,235.6 L434.2,235.6 L433.2,235.6 L432.2,235.6 L431.2,235.5 L430.2,235.5 L429.2,235.5 L428.2,235.4 L427.2,235.4 L426.2,235.4 L425.2,235.4 L424.2,235.3 L423.2,235.3 L422.2,235.3 L421.2,235.2 L420.2,235.2 L419.2,235.2 L418.2,235.2 L417.2,235.1 L416.2,235.1 L415.2,235.1 L414.2,235.1 L413.2,235.0 L412.2,235.0Z" fill="rgb(102, 171, 174)" fill-opacity="0.7"/>
<path d="M412.2,233.4 L413.2,233.4 L414.2,233.5 L415.2,233.6 L416.2,233.7 L417.2,233.8 L418.2,233.9 L419.2,234.0 L420.2,234.1 L421.2,234.2 L422.2,234.2 L423.2,234.2 L424.2,234.2 L425.2,234.3 L426.2,234.3 L427.2,234.3 L428.2,234.3 L429.2,234.3 L430.2,234.3 L431.2,234.3 L432.2,234.3 L433.2,234.3 L434.2,234.3 L435.2,234.4 L436.2,234.4 L437.2,234.4 L438.2,234.4 L439.2,234.4 L440.2,234.4 L441.2,234.3 L442.2,234.2 L443.2,234.0 L444.2,233.7 L445.2,233.3 L446.2,233.1 L447.2,232.9 L448.2,232.8 L449.2,232.7 L450.2,232.7 L451.2,232.7 L452.2,232.8 L453.2,233.0 L454.2,233.2 L455.2,233.5 L456.2,233.8 L457.2,234.0 L458.2,234.2 L459.2,234.3 L460.2,234.3 L461.2,234.4 L462.2,234.3 L463.2,234.3 L464.2,234.3 L465.2,234.3 L466.2,234.3 L467.2,234.3 L468.2,234.3 L469.2,234.2 L470.2,234.2 L471.2,234.2 L472.2,234.1 L473.2,234.1 L474.2,234.1 L475.2,234.0 L476.2,234.0 L477.2,233.9 L478.2,233.9 L479.2,233.8 L480.2,233.8 L481.2,233.7 L482.2,233.7 L483.2,233.6 L484.2,233.5 L485.2,233.5 L486.2,233.4 L487.2,233.3 L488.2,233.3 L489.2,233.2 L490.2,233.1 L491.2,232.9 L492.2,232.7 L493.2,232.3 L494.2,231.8 L495.2,231.3 L496.2,230.9 L497.2,230.6 L498.2,230.3 L499.2,230.1 L500.2,230.0 L501.2,229.9 L502.2,229.9 L503.2,229.9 L504.2,230.0 L505.2,230.2 L506.2,230.4 L507.2,230.5 L508.2,230.6 L509.2,230.5 L510.2,230.3 L511.2,230.1 L512.2,229.9 L513.2,229.5 L514.2,229.1 L515.2,228.6 L516.2,228.0 L517.2,227.3 L518.2,226.6 L519.2,226.1 L520.2,225.6 L521.2,225.1 L522.2,224.7 L523.2,224.4 L524.2,224.0 L525.2,223.7 L526.2,223.5 L527.2,223.3 L528.2,223.1 L529.2,222.6 L530.2,222.0 L531.2,221.3 L532.2,220.6 L533.2,219.9 L534.2,219.1 L535.2,218.4 L536.2,217.6 L537.2,216.9 L538.2,216.1 L539.2,215.1 L540.2,214.1 L541.2,213.0 L542.2,211.7 L543.2,210.4 L544.2,209.1 L545.2,207.7 L546.2,206.4 L547.2,205.0 L548.2,203.6 L549.2,202.1 L550.2,200.6 L551.2,199.1 L552.2,197.5 L553.2,195.9 L554.2,194.4 L555.2,193.0 L556.2,191.7 L557.2,190.6 L558.2,189.8 L559.2,189.1 L560.2,188.7 L561.2,188.5 L562.2,188.6 L563.2,188.8 L564.2,189.3 L565.2,189.9 L566.2,190.8 L567.2,191.8 L568.2,192.9 L569.2,194.1 L570.2,195.4 L571.2,196.8 L572.2,198.4 L573.2,200.0 L574.2,201.6 L575.2,203.3 L576.2,205.0 L577.2,206.6 L578.2,208.2 L579.2,209.8 L580.2,211.5 L581.2,213.1 L582.2,214.7 L583.2,216.1 L584.2,217.4 L585.2,218.6 L586.2,219.6 L587.2,220.5 L588.2,221.4 L589.2,222.3 L590.2,223.1 L591.2,223.9 L592.2,224.6 L593.2,225.3 L594.2,225.9 L595.2,226.3 L596.2,226.7 L597.2,227.1 L598.2,227.5 L599.2,227.9 L600.2,228.3 L601.2,228.8 L602.2,229.2 L603.2,229.6 L604.2,229.9 L605.2,230.2 L606.2,230.5 L607.2,230.8 L608.2,231.1 L609.2,231.4 L610.2,231.7 L611.2,232.0 L612.2,232.3 L613.2,232.5 L614.2,232.8 L615.2,233.0 L616.2,233.2 L617.2,233.5 L618.2,233.7 L619.2,233.9 L620.2,234.1 L621.2,234.3 L622.2,234.4 L623.2,234.6 L624.2,234.8 L625.2,234.9 L626.2,235.1 L627.2,235.2 L628.2,235.4 L629.2,235.5 L630.2,235.6 L631.2,235.8 L632.2,235.9 L633.2,236.0 L634.2,236.1 L635.2,236.2 L636.2,236.3 L637.2,236.5 L638.2,236.6 L639.2,236.7 L640.2,236.8 L641.2,236.9 L642.2,236.9 L643.2,237.0 L644.2,237.1 L645.2,237.2 L646.2,237.3 L647.2,237.4 L648.2,237.5 L649.2,237.5 L650.2,237.6 L651.2,237.7 L652.2,237.8 L653.2,237.8 L654.2,237.9 L655.2,238.0 L656.2,238.0 L657.2,238.1 L658.2,238.2 L659.2,238.2 L660.2,238.3 L661.2,238.3 L662.2,238.4 L663.2,238.5 L664.2,238.5 L665.2,238.6 L666.2,238.6 L667.2,238.7 L668.2,238.7 L669.2,238.8 L670.2,238.8 L671.2,238.9 L672.2,238.9 L673.2,239.0 L674.2,239.0 L675.2,239.1 L676.2,239.1 L677.2,239.2 L678.2,239.2 L679.2,239.3 L680.2,239.3 L681.2,239.4 L682.2,239.4 L683.2,239.5 L684.2,239.5 L685.2,239.5 L686.2,239.6 L687.2,239.6 L688.2,239.7 L689.2,239.7 L690.2,239.7 L691.2,239.8 L692.2,239.8 L693.2,239.9 L694.2,239.9 L695.2,239.9 L696.2,240.0 L697.2,240.0 L698.2,240.1 L699.2,240.1 L700.2,240.1 L700.2,241.2 L699.2,241.2 L698.2,241.2 L697.2,241.1 L696.2,241.1 L695.2,241.1 L694.2,241.1 L693.2,241.0 L692.2,241.0 L691.2,241.0 L690.2,241.0 L689.2,241.0 L688.2,240.9 L687.2,240.9 L686.2,240.9 L685.2,240.9 L684.2,240.9 L683.2,240.8 L682.2,240.8 L681.2,240.8 L680.2,240.8 L679.2,240.7 L678.2,240.7 L677.2,240.7 L676.2,240.7 L675.2,240.7 L674.2,240.6 L673.2,240.6 L672.2,240.6 L671.2,240.6 L670.2,240.6 L669.2,240.5 L668.2,240.5 L667.2,240.5 L666.2,240.5 L665.2,240.5 L664.2,240.4 L663.2,240.4 L662.2,240.4 L661.2,240.4 L660.2,240.3 L659.2,240.3 L658.2,240.3 L657.2,240.3 L656.2,240.3 L655.2,240.2 L654.2,240.2 L653.2,240.2 L652.2,240.2 L651.2,240.2 L650.2,240.1 L649.2,240.1 L648.2,240.1 L647.2,240.1 L646.2,240.1 L645.2,240.0 L644.2,240.0 L643.2,240.0 L642.2,240.0 L641.2,239.9 L640.2,239.9 L639.2,239.9 L638.2,239.9 L637.2,239.9 L636.2,239.8 L635.2,239.8 L634.2,239.8 L633.2,239.8 L632.2,239.8 L631.2,239.7 L630.2,239.7 L629.2,239.7 L628.2,239.7 L627.2,239.7 L626.2,239.6 L625.2,239.6 L624.2,239.6 L623.2,239.6 L622.2,239.5 L621.2,239.5 L620.2,239.5 L619.2,239.5 L618.2,239.4 L617.2,239.4 L616.2,239.4 L615.2,239.4 L614.2,239.3 L613.2,239.3 L612.2,239.3 L611.2,239.2 L610.2,239.2 L609.2,239.2 L608.2,239.1 L607.2,239.1 L606.2,239.1 L605.2,239.1 L604.2,239.0 L603.2,239.0 L602.2,239.0 L601.2,238.9 L600.2,238.9 L599.2,238.9 L598.2,238.8 L597.2,238.8 L596.2,238.8 L595.2,238.8 L594.2,238.7 L593.2,238.7 L592.2,238.7 L591.2,238.6 L590.2,238.6 L589.2,238.6 L588.2,238.5 L587.2,238.5 L586.2,238.5 L585.2,238.5 L584.2,238.4 L583.2,238.4 L582.2,238.4 L581.2,238.3 L580.2,238.3 L579.2,238.3 L578.2,238.3 L577.2,238.3 L576.2,238.2 L575.2,238.2 L574.2,238.2 L573.2,238.2 L572.2,238.2 L571.2,238.2 L570.2,238.1 L569.2,238.1 L568.2,238.1 L567.2,238.1 L566.2,238.1 L565.2,238.1 L564.2,238.0 L563.2,238.0 L562.2,238.0 L561.2,238.0 L560.2,238.0 L559.2,238.0 L558.2,238.0 L557.2,237.9 L556.2,237.9 L555.2,237.9 L554.2,237.9 L553.2,237.9 L552.2,237.9 L551.2,237.8 L550.2,237.8 L549.2,237.8 L548.2,237.8 L547.2,237.8 L546.2,237.8 L545.2,237.7 L544.2,237.7 L543.2,237.7 L542.2,237.7 L541.2,237.7 L540.2,237.7 L539.2,237.6 L538.2,237.6 L537.2,237.6 L536.2,237.6 L535.2,237.6 L534.2,237.6 L533.2,237.6 L532.2,237.5 L531.2,237.5 L530.2,237.5 L529.2,237.5 L528.2,237.5 L527.2,237.5 L526.2,237.4 L525.2,237.4 L524.2,237.4 L523.2,237.4 L522.2,237.4 L521.2,237.4 L520.2,237.4 L519.2,237.3 L518.2,237.3 L517.2,237.3 L516.2,237.3 L515.2,237.3 L514.2,237.3 L513.2,237.2 L512.2,237.2 L511.2,237.2 L510.2,237.2 L509.2,237.2 L508.2,237.2 L507.2,237.2 L506.2,237.1 L505.2,237.1 L504.2,237.1 L503.2,237.1 L502.2,237.1 L501.2,237.1 L500.2,237.1 L499.2,237.0 L498.2,237.0 L497.2,237.0 L496.2,237.0 L495.2,237.0 L494.2,237.0 L493.2,236.9 L492.2,236.9 L491.2,236.9 L490.2,236.9 L489.2,236.9 L488.2,236.9 L487.2,236.9 L486.2,236.8 L485.2,236.8 L484.2,236.8 L483.2,236.8 L482.2,236.8 L481.2,236.8 L480.2,236.8 L479.2,236.7 L478.2,236.7 L477.2,236.7 L476.2,236.7 L475.2,236.7 L474.2,236.7 L473.2,236.6 L472.2,236.6 L471.2,236.6 L470.2,236.6 L469.2,236.6 L468.2,236.6 L467.2,236.5 L466.2,236.5 L465.2,236.5 L464.2,236.4 L463.2,236.4 L462.2,236.4 L461.2,236.4 L460.2,236.3 L459.2,236.3 L458.2,236.3 L457.2,236.2 L456.2,236.2 L455.2,236.2 L454.2,236.2 L453.2,236.1 L452.2,236.1 L451.2,236.1 L450.2,236.1 L449.2,236.0 L448.2,236.0 L447.2,236.0 L446.2,235.9 L445.2,235.9 L444.2,235.9 L443.2,235.9 L442.2,235.8 L441.2,235.8 L440.2,235.8 L439.2,235.7 L438.2,235.7 L437.2,235.7 L436.2,235.7 L435.2,235.6 L434.2,235.6 L433.2,235.6 L432.2,235.6 L431.2,235.5 L430.2,235.5 L429.2,235.5 L428.2,235.4 L427.2,235.4 L426.2,235.4 L425.2,235.4 L424.2,235.3 L423.2,235.3 L422.2,235.3 L421.2,235.2 L420.2,235.2 L419.2,235.2 L418.2,235.2 L417.2,235.1 L416.2,235.1 L415.2,235.1 L414.2,235.1 L413.2,235.0 L412.2,235.0Z" fill="rgb(55, 105, 176)" fill-opacity="0.7" stroke="rgb(60, 110, 190)" stroke-width="0.9"/>
<path d="M412.2,235.0 L413.2,235.0 L414.2,235.1 L415.2,235.1 L416.2,235.1 L417.2,235.1 L418.2,235.2 L419.2,235.2 L420.2,235.2 L421.2,235.2 L422.2,235.3 L423.2,235.3 L424.2,235.3 L425.2,235.4 L426.2,235.4 L427.2,235.4 L428.2,235.4 L429.2,235.5 L430.2,235.5 L431.2,235.5 L432.2,235.6 L433.2,235.6 L434.2,235.6 L435.2,235.6 L436.2,235.7 L437.2,235.7 L438.2,235.7 L439.2,235.7 L440.2,235.8 L441.2,235.8 L442.2,235.8 L443.2,235.9 L444.2,235.9 L445.2,235.9 L446.2,235.9 L447.2,236.0 L448.2,236.0 L449.2,236.0 L450.2,236.1 L451.2,236.1 L452.2,236.1 L453.2,236.1 L454.2,236.2 L455.2,236.2 L456.2,236.2 L457.2,236.2 L458.2,236.3 L459.2,236.3 L460.2,236.3 L461.2,236.4 L462.2,236.4 L463.2,236.4 L464.2,236.4 L465.2,236.5 L466.2,236.5 L467.2,236.5 L468.2,236.6 L469.2,236.6 L470.2,236.6 L471.2,236.6 L472.2,236.6 L473.2,236.6 L474.2,236.7 L475.2,236.7 L476.2,236.7 L477.2,236.7 L478.2,236.7 L479.2,236.7 L480.2,236.8 L481.2,236.8 L482.2,236.8 L483.2,236.8 L484.2,236.8 L485.2,236.8 L486.2,236.8 L487.2,236.9 L488.2,236.9 L489.2,236.9 L490.2,236.9 L491.2,236.9 L492.2,236.9 L493.2,236.9 L494.2,237.0 L495.2,237.0 L496.2,237.0 L497.2,237.0 L498.2,237.0 L499.2,237.0 L500.2,237.1 L501.2,237.1 L502.2,237.1 L503.2,237.1 L504.2,237.1 L505.2,237.1 L506.2,237.1 L507.2,237.2 L508.2,237.2 L509.2,237.2 L510.2,237.2 L511.2,237.2 L512.2,237.2 L513.2,237.2 L514.2,237.3 L515.2,237.3 L516.2,237.3 L517.2,237.3 L518.2,237.3 L519.2,237.3 L520.2,237.4 L521.2,237.4 L522.2,237.4 L523.2,237.4 L524.2,237.4 L525.2,237.4 L526.2,237.4 L527.2,237.5 L528.2,237.5 L529.2,237.5 L530.2,237.5 L531.2,237.5 L532.2,237.5 L533.2,237.6 L534.2,237.6 L535.2,237.6 L536.2,237.6 L537.2,237.6 L538.2,237.6 L539.2,237.6 L540.2,237.7 L541.2,237.7 L542.2,237.7 L543.2,237.7 L544.2,237.7 L545.2,237.7 L546.2,237.8 L547.2,237.8 L548.2,237.8 L549.2,237.8 L550.2,237.8 L551.2,237.8 L552.2,237.9 L553.2,237.9 L554.2,237.9 L555.2,237.9 L556.2,237.9 L557.2,237.9 L558.2,238.0 L559.2,238.0 L560.2,238.0 L561.2,238.0 L562.2,238.0 L563.2,238.0 L564.2,238.0 L565.2,238.1 L566.2,238.1 L567.2,238.1 L568.2,238.1 L569.2,238.1 L570.2,238.1 L571.2,238.2 L572.2,238.2 L573.2,238.2 L574.2,238.2 L575.2,238.2 L576.2,238.2 L577.2,238.3 L578.2,238.3 L579.2,238.3 L580.2,238.3 L581.2,238.3 L582.2,238.4 L583.2,238.4 L584.2,238.4 L585.2,238.5 L586.2,238.5 L587.2,238.5 L588.2,238.5 L589.2,238.6 L590.2,238.6 L591.2,238.6 L592.2,238.7 L593.2,238.7 L594.2,238.7 L595.2,238.8 L596.2,238.8 L597.2,238.8 L598.2,238.8 L599.2,238.9 L600.2,238.9 L601.2,238.9 L602.2,239.0 L603.2,239.0 L604.2,239.0 L605.2,239.1 L606.2,239.1 L607.2,239.1 L608.2,239.1 L609.2,239.2 L610.2,239.2 L611.2,239.2 L612.2,239.3 L613.2,239.3 L614.2,239.3 L615.2,239.4 L616.2,239.4 L617.2,239.4 L618.2,239.4 L619.2,239.5 L620.2,239.5 L621.2,239.5 L622.2,239.5 L623.2,239.6 L624.2,239.6 L625.2,239.6 L626.2,239.6 L627.2,239.7 L628.2,239.7 L629.2,239.7 L630.2,239.7 L631.2,239.7 L632.2,239.8 L633.2,239.8 L634.2,239.8 L635.2,239.8 L636.2,239.8 L637.2,239.9 L638.2,239.9 L639.2,239.9 L640.2,239.9 L641.2,239.9 L642.2,240.0 L643.2,240.0 L644.2,240.0 L645.2,240.0 L646.2,240.1 L647.2,240.1 L648.2,240.1 L649.2,240.1 L650.2,240.1 L651.2,240.2 L652.2,240.2 L653.2,240.2 L654.2,240.2 L655.2,240.2 L656.2,240.3 L657.2,240.3 L658.2,240.3 L659.2,240.3 L660.2,240.3 L661.2,240.4 L662.2,240.4 L663.2,240.4 L664.2,240.4 L665.2,240.5 L666.2,240.5 L667.2,240.5 L668.2,240.5 L669.2,240.5 L670.2,240.6 L671.2,240.6 L672.2,240.6 L673.2,240.6 L674.2,240.6 L675.2,240.7 L676.2,240.7 L677.2,240.7 L678.2,240.7 L679.2,240.7 L680.2,240.8 L681.2,240.8 L682.2,240.8 L683.2,240.8 L684.2,240.9 L685.2,240.9 L686.2,240.9 L687.2,240.9 L688.2,240.9 L689.2,241.0 L690.2,241.0 L691.2,241.0 L692.2,241.0 L693.2,241.0 L694.2,241.1 L695.2,241.1 L696.2,241.1 L697.2,241.1 L698.2,241.2 L699.2,241.2 L700.2,241.2" fill="none" stroke="rgb(70,120,190)" stroke-width="1.6" stroke-linejoin="round"/>
</g>
<text x="497.61" y="172.8" font-size="14.7" textLength="26.4" lengthAdjust="spacingAndGlyphs">C-O</text>
<line x1="517.3" y1="177.3" x2="542.2" y2="212.9" stroke="#000" stroke-width="1.3"/>
<text x="629.81" y="113" font-size="14" textLength="29.99" lengthAdjust="spacingAndGlyphs">C=O</text>
<line x1="641.5" y1="116.5" x2="622.7" y2="156.4" stroke="#000" stroke-width="1.3"/>
<line x1="411.2" y1="253.8" x2="411.2" y2="259.6" stroke="#000" stroke-width="2.2"/>
<line x1="447.46" y1="253.8" x2="447.46" y2="257.4" stroke="#000" stroke-width="2.2"/>
<line x1="483.72" y1="253.8" x2="483.72" y2="259.6" stroke="#000" stroke-width="2.2"/>
<line x1="519.99" y1="253.8" x2="519.99" y2="257.4" stroke="#000" stroke-width="2.2"/>
<line x1="556.25" y1="253.8" x2="556.25" y2="259.6" stroke="#000" stroke-width="2.2"/>
<line x1="592.51" y1="253.8" x2="592.51" y2="257.4" stroke="#000" stroke-width="2.2"/>
<line x1="628.77" y1="253.8" x2="628.77" y2="259.6" stroke="#000" stroke-width="2.2"/>
<line x1="665.04" y1="253.8" x2="665.04" y2="257.4" stroke="#000" stroke-width="2.2"/>
<line x1="701.3" y1="253.8" x2="701.3" y2="259.6" stroke="#000" stroke-width="2.2"/>
<rect x="411.2" y="39.8" width="290.2" height="214" fill="none" stroke="#000" stroke-width="2.4"/>
<text x="398.05" y="277.3" font-size="19.7" textLength="28.07" lengthAdjust="spacingAndGlyphs">540</text>
<text x="469.08" y="277.3" font-size="19.7" textLength="28.07" lengthAdjust="spacingAndGlyphs">537</text>
<text x="542.95" y="277.3" font-size="19.7" textLength="28.07" lengthAdjust="spacingAndGlyphs">534</text>
<text x="614.44" y="277.3" font-size="19.7" textLength="28.07" lengthAdjust="spacingAndGlyphs">531</text>
<text x="690.47" y="277.3" font-size="19.7" textLength="28.07" lengthAdjust="spacingAndGlyphs">528</text>
<text x="457.45" y="305.5" font-size="23.7" textLength="197.94" lengthAdjust="spacingAndGlyphs">Binding Energy (eV)</text>
<text x="424.31" y="78.6" font-size="36.8" textLength="45.77" lengthAdjust="spacingAndGlyphs">(b)</text>
<text x="651.66" y="62.9" font-size="20.4" textLength="38.97" lengthAdjust="spacingAndGlyphs">O 1s</text>
<text transform="translate(396.6,221.44) rotate(-90)" x="0" y="0" font-size="24" textLength="145.91" lengthAdjust="spacingAndGlyphs">Intensity (a.u.)</text>
</g>
<g id="pc">
<clipPath id="clipc"><rect x="751.7" y="39.9" width="289.9" height="213.8"/></clipPath>
<g clip-path="url(#clipc)">
<path d="M752.7,214.4 L753.7,216.4 L754.7,218.4 L755.7,219.4 L756.7,217.9 L757.7,216.4 L758.7,217.5 L759.7,220.4 L760.7,223.2 L761.7,221.7 L762.7,220.2 L763.7,218.7 L764.7,217.2 L765.7,218.3 L766.7,219.6 L767.7,220.0 L768.7,218.2 L769.7,216.3 L770.7,214.5 L771.7,212.9 L772.7,212.2 L773.7,211.4 L774.7,210.7 L775.7,209.9 L776.7,209.2 L777.7,209.1 L778.7,209.1 L779.7,212.8 L780.7,217.5 L781.7,222.2 L782.7,221.3 L783.7,214.9 L784.7,211.8 L785.7,212.0 L786.7,212.2 L787.7,212.5 L788.7,213.2 L789.7,214.0 L790.7,213.8 L791.7,212.3 L792.7,210.8 L793.7,211.9 L794.7,213.9 L795.7,215.4 L796.7,211.4 L797.7,207.4 L798.7,206.4 L799.7,209.9 L800.7,213.4 L801.7,212.3 L802.7,209.4 L803.7,206.4 L804.7,205.4 L805.7,204.4 L806.7,203.3 L807.7,202.3 L808.7,203.3 L809.7,204.3 L810.7,204.4 L811.7,202.4 L812.7,200.4 L813.7,198.4 L814.7,198.0 L815.7,201.5 L816.7,205.0 L817.7,206.0 L818.7,205.3 L819.7,204.6 L820.7,204.0 L821.7,202.0 L822.7,199.3 L823.7,196.5 L824.7,194.5 L825.7,195.3 L826.7,196.0 L827.7,196.8 L828.7,194.3 L829.7,191.0 L830.7,194.6 L831.7,199.9 L832.7,201.5 L833.7,202.2 L834.7,202.9 L835.7,203.6 L836.7,203.4 L837.7,203.0 L838.7,202.7 L839.7,202.3 L840.7,201.9 L841.7,201.2 L842.7,199.9 L843.7,198.5 L844.7,197.2 L845.7,195.9 L846.7,194.6 L847.7,193.4 L848.7,192.2 L849.7,191.0 L850.7,189.8 L851.7,188.6 L852.7,187.3 L853.7,186.0 L854.7,184.7 L855.7,184.0 L856.7,183.5 L857.7,183.5 L858.7,184.2 L859.7,184.9 L860.7,182.0 L861.7,180.7 L862.7,179.5 L863.7,177.5 L864.7,174.6 L865.7,171.3 L866.7,168.7 L867.7,166.5 L868.7,164.0 L869.7,160.6 L870.7,156.2 L871.7,151.2 L872.7,146.6 L873.7,142.5 L874.7,138.4 L875.7,134.0 L876.7,129.1 L877.7,123.9 L878.7,118.8 L879.7,114.2 L880.7,110.2 L881.7,106.5 L882.7,103.2 L883.7,100.3 L884.7,97.3 L885.7,94.3 L886.7,83.2 L887.7,79.3 L888.7,75.4 L889.7,74.7 L890.7,77.2 L891.7,79.2 L892.7,79.5 L893.7,79.7 L894.7,80.0 L895.7,80.2 L896.7,80.5 L897.7,80.8 L898.7,81.1 L899.7,81.9 L900.7,84.3 L901.7,86.8 L902.7,89.3 L903.7,93.0 L904.7,97.4 L905.7,101.7 L906.7,108.3 L907.7,112.3 L908.7,117.1 L909.7,122.1 L910.7,126.8 L911.7,131.3 L912.7,135.3 L913.7,139.0 L914.7,142.8 L915.7,141.5 L916.7,142.3 L917.7,143.0 L918.7,143.8 L919.7,141.5 L920.7,138.6 L921.7,136.6 L922.7,136.1 L923.7,135.6 L924.7,133.3 L925.7,131.0 L926.7,128.7 L927.7,124.9 L928.7,120.5 L929.7,116.1 L930.7,111.7 L931.7,107.3 L932.7,103.7 L933.7,100.3 L934.7,97.0 L935.7,94.4 L936.7,92.2 L937.7,89.9 L938.7,90.3 L939.7,91.3 L940.7,93.5 L941.7,96.8 L942.7,100.1 L943.7,103.4 L944.7,111.2 L945.7,114.6 L946.7,118.2 L947.7,122.6 L948.7,128.0 L949.7,134.1 L950.7,140.1 L951.7,146.2 L952.7,151.9 L953.7,157.6 L954.7,163.5 L955.7,170.1 L956.7,177.1 L957.7,184.2 L958.7,191.0 L959.7,196.1 L960.7,196.8 L961.7,197.5 L962.7,198.2 L963.7,198.7 L964.7,199.2 L965.7,204.2 L966.7,209.2 L967.7,214.2 L968.7,220.1 L969.7,229.6 L970.7,230.1 L971.7,226.8 L972.7,225.2 L973.7,226.2 L974.7,225.7 L975.7,223.8 L976.7,221.8 L977.7,220.6 L978.7,219.9 L979.7,219.2 L980.7,220.7 L981.7,222.8 L982.7,224.8 L983.7,224.6 L984.7,224.3 L985.7,224.1 L986.7,223.9 L987.7,224.2 L988.7,224.4 L989.7,224.7 L990.7,226.2 L991.7,229.8 L992.7,233.4 L993.7,233.5 L994.7,230.2 L995.7,226.8 L996.7,223.3 L997.7,219.6 L998.7,216.0 L999.7,216.9 L1000.7,219.0 L1001.7,221.0 L1002.7,223.0 L1003.7,225.1 L1004.7,226.4 L1005.7,225.1 L1006.7,223.7 L1007.7,222.3 L1008.7,221.8 L1009.7,222.4 L1010.7,223.0 L1011.7,223.6 L1012.7,224.8 L1013.7,226.3 L1014.7,227.7 L1015.7,229.2 L1016.7,228.1 L1017.7,226.4 L1018.7,224.6 L1019.7,222.9 L1020.7,223.7 L1021.7,224.5 L1022.7,225.3 L1023.7,226.1 L1024.7,226.8 L1025.7,227.2 L1026.7,227.5 L1027.7,227.9 L1028.7,227.9 L1029.7,227.5 L1030.7,227.1 L1031.7,226.7 L1032.7,226.3 L1033.7,225.9 L1034.7,225.0 L1035.7,224.0 L1036.7,223.0 L1037.7,222.0 L1038.7,221.0 L1039.7,219.0" fill="none" stroke="#000" stroke-width="2.4" stroke-linejoin="round"/>
<path d="M752.7,209.2 L753.7,209.3 L754.7,209.4 L755.7,209.4 L756.7,209.5 L757.7,209.6 L758.7,209.8 L759.7,209.9 L760.7,210.0 L761.7,210.0 L762.7,210.1 L763.7,210.1 L764.7,210.2 L765.7,210.2 L766.7,210.2 L767.7,210.2 L768.7,210.3 L769.7,210.3 L770.7,210.3 L771.7,210.3 L772.7,210.3 L773.7,210.3 L774.7,210.4 L775.7,210.4 L776.7,210.4 L777.7,210.4 L778.7,210.4 L779.7,210.4 L780.7,210.3 L781.7,210.2 L782.7,210.1 L783.7,209.8 L784.7,209.5 L785.7,209.2 L786.7,208.9 L787.7,208.7 L788.7,208.6 L789.7,208.5 L790.7,208.5 L791.7,208.5 L792.7,208.5 L793.7,208.6 L794.7,208.8 L795.7,209.0 L796.7,209.2 L797.7,209.4 L798.7,209.5 L799.7,209.5 L800.7,209.5 L801.7,209.4 L802.7,209.3 L803.7,209.2 L804.7,209.1 L805.7,209.0 L806.7,208.9 L807.7,208.8 L808.7,208.7 L809.7,208.5 L810.7,208.4 L811.7,208.2 L812.7,208.1 L813.7,207.9 L814.7,207.8 L815.7,207.6 L816.7,207.5 L817.7,207.3 L818.7,207.2 L819.7,207.1 L820.7,206.9 L821.7,206.8 L822.7,206.7 L823.7,206.5 L824.7,206.4 L825.7,206.3 L826.7,206.2 L827.7,206.1 L828.7,206.0 L829.7,205.8 L830.7,205.7 L831.7,205.5 L832.7,205.4 L833.7,205.3 L834.7,205.2 L835.7,205.0 L836.7,204.9 L837.7,204.7 L838.7,204.4 L839.7,204.1 L840.7,203.8 L841.7,203.4 L842.7,203.1 L843.7,202.7 L844.7,202.5 L845.7,202.2 L846.7,201.8 L847.7,201.4 L848.7,200.8 L849.7,200.1 L850.7,199.2 L851.7,198.3 L852.7,197.2 L853.7,195.8 L854.7,194.3 L855.7,192.6 L856.7,190.8 L857.7,188.9 L858.7,187.2 L859.7,185.4 L860.7,183.5 L861.7,181.5 L862.7,179.2 L863.7,176.6 L864.7,173.8 L865.7,170.8 L866.7,167.5 L867.7,164.1 L868.7,160.6 L869.7,157.0 L870.7,153.2 L871.7,149.3 L872.7,145.3 L873.7,141.3 L874.7,137.2 L875.7,133.0 L876.7,128.8 L877.7,124.5 L878.7,120.1 L879.7,115.7 L880.7,111.3 L881.7,107.1 L882.7,103.1 L883.7,99.5 L884.7,96.1 L885.7,93.2 L886.7,90.6 L887.7,88.3 L888.7,86.3 L889.7,84.5 L890.7,83.1 L891.7,82.0 L892.7,81.3 L893.7,80.9 L894.7,80.9 L895.7,81.3 L896.7,82.0 L897.7,83.1 L898.7,84.6 L899.7,86.6 L900.7,88.9 L901.7,91.5 L902.7,94.4 L903.7,97.7 L904.7,101.2 L905.7,105.1 L906.7,109.2 L907.7,113.5 L908.7,118.0 L909.7,122.5 L910.7,127.1 L911.7,131.5 L912.7,135.6 L913.7,139.2 L914.7,142.5 L915.7,145.2 L916.7,147.4 L917.7,148.9 L918.7,149.7 L919.7,149.9 L920.7,149.3 L921.7,147.9 L922.7,145.8 L923.7,142.8 L924.7,139.3 L925.7,135.4 L926.7,131.4 L927.7,127.2 L928.7,123.0 L929.7,118.8 L930.7,114.6 L931.7,110.6 L932.7,106.9 L933.7,103.7 L934.7,101.1 L935.7,99.1 L936.7,97.7 L937.7,96.8 L938.7,96.6 L939.7,97.0 L940.7,98.2 L941.7,100.0 L942.7,102.5 L943.7,105.8 L944.7,109.6 L945.7,113.9 L946.7,118.7 L947.7,123.7 L948.7,128.9 L949.7,134.4 L950.7,140.1 L951.7,146.2 L952.7,152.5 L953.7,158.9 L954.7,165.3 L955.7,171.6 L956.7,177.7 L957.7,183.7 L958.7,189.5 L959.7,194.7 L960.7,199.4 L961.7,203.4 L962.7,206.8 L963.7,209.7 L964.7,212.2 L965.7,214.2 L966.7,215.9 L967.7,217.2 L968.7,218.2 L969.7,219.0 L970.7,219.6 L971.7,220.0 L972.7,220.4 L973.7,220.7 L974.7,221.0 L975.7,221.3 L976.7,221.5 L977.7,221.7 L978.7,221.8 L979.7,221.9 L980.7,221.9 L981.7,221.9 L982.7,221.8 L983.7,221.6 L984.7,221.5 L985.7,221.3 L986.7,221.3 L987.7,221.3 L988.7,221.3 L989.7,221.4 L990.7,221.4 L991.7,221.5 L992.7,221.5 L993.7,221.6 L994.7,221.6 L995.7,221.7 L996.7,221.7 L997.7,221.8 L998.7,221.8 L999.7,221.9 L1000.7,221.9 L1001.7,222.0 L1002.7,222.0 L1003.7,222.1 L1004.7,222.1 L1005.7,222.2 L1006.7,222.2 L1007.7,222.3 L1008.7,222.3 L1009.7,222.4 L1010.7,222.4 L1011.7,222.5 L1012.7,222.5 L1013.7,222.6 L1014.7,222.6 L1015.7,222.7 L1016.7,222.7 L1017.7,222.8 L1018.7,222.8 L1019.7,222.9 L1020.7,222.9 L1021.7,223.0 L1022.7,223.0 L1023.7,223.1 L1024.7,223.1 L1025.7,223.2 L1026.7,223.2 L1027.7,223.3 L1028.7,223.3 L1029.7,223.3 L1030.7,223.4 L1031.7,223.4 L1032.7,223.5 L1033.7,223.5 L1034.7,223.6 L1035.7,223.7 L1036.7,223.7 L1037.7,223.8 L1038.7,223.8 L1039.7,223.9" fill="none" stroke="#f01010" stroke-width="2.6" stroke-linejoin="round"/>
<path d="M752.7,210.0 L753.7,210.0 L754.7,210.1 L755.7,210.2 L756.7,210.2 L757.7,210.3 L758.7,210.3 L759.7,210.3 L760.7,210.2 L761.7,210.2 L762.7,210.2 L763.7,210.1 L764.7,210.0 L765.7,209.9 L766.7,209.8 L767.7,209.7 L768.7,209.6 L769.7,209.6 L770.7,209.6 L771.7,209.5 L772.7,209.5 L773.7,209.5 L774.7,209.5 L775.7,209.5 L776.7,209.4 L777.7,209.4 L778.7,209.4 L779.7,209.4 L780.7,209.4 L781.7,209.3 L782.7,209.3 L783.7,209.3 L784.7,209.3 L785.7,209.3 L786.7,209.3 L787.7,209.3 L788.7,209.3 L789.7,209.2 L790.7,209.2 L791.7,209.3 L792.7,209.3 L793.7,209.4 L794.7,209.5 L795.7,209.7 L796.7,209.7 L797.7,209.8 L798.7,209.8 L799.7,209.8 L800.7,209.8 L801.7,209.7 L802.7,209.6 L803.7,209.5 L804.7,209.4 L805.7,209.2 L806.7,209.0 L807.7,208.9 L808.7,208.8 L809.7,208.8 L810.7,208.7 L811.7,208.7 L812.7,208.6 L813.7,208.6 L814.7,208.5 L815.7,208.5 L816.7,208.5 L817.7,208.5 L818.7,208.5 L819.7,208.6 L820.7,208.6 L821.7,208.6 L822.7,208.6 L823.7,208.5 L824.7,208.5 L825.7,208.4 L826.7,208.3 L827.7,208.2 L828.7,208.0 L829.7,207.8 L830.7,207.6 L831.7,207.3 L832.7,207.1 L833.7,206.9 L834.7,206.6 L835.7,206.3 L836.7,206.0 L837.7,205.7 L838.7,205.3 L839.7,204.9 L840.7,204.5 L841.7,204.1 L842.7,203.6 L843.7,203.0 L844.7,202.4 L845.7,201.6 L846.7,200.8 L847.7,200.0 L848.7,199.2 L849.7,198.5 L850.7,197.7 L851.7,196.8 L852.7,195.9 L853.7,194.8 L854.7,193.5 L855.7,192.1 L856.7,190.5 L857.7,189.0 L858.7,187.3 L859.7,185.6 L860.7,183.8 L861.7,181.7 L862.7,179.3 L863.7,176.7 L864.7,173.7 L865.7,170.6 L866.7,167.3 L867.7,164.0 L868.7,160.6 L869.7,157.2 L870.7,153.6 L871.7,149.9 L872.7,146.0 L873.7,142.0 L874.7,137.9 L875.7,133.6 L876.7,129.3 L877.7,124.9 L878.7,120.5 L879.7,116.2 L880.7,111.9 L881.7,107.9 L882.7,104.0 L883.7,100.4 L884.7,97.0 L885.7,93.9 L886.7,91.2 L887.7,88.8 L888.7,86.8 L889.7,85.2 L890.7,83.8 L891.7,82.8 L892.7,82.2 L893.7,81.8 L894.7,81.8 L895.7,82.1 L896.7,82.6 L897.7,83.4 L898.7,84.5 L899.7,85.8 L900.7,87.5 L901.7,89.5 L902.7,92.0 L903.7,94.7 L904.7,97.7 L905.7,100.9 L906.7,104.2 L907.7,107.8 L908.7,111.6 L909.7,115.6 L910.7,119.7 L911.7,124.0 L912.7,128.3 L913.7,132.6 L914.7,137.0 L915.7,141.6 L916.7,146.6 L917.7,152.2 L918.7,158.1 L919.7,164.2 L920.7,170.2 L921.7,176.0 L922.7,181.3 L923.7,186.1 L924.7,190.4 L925.7,194.2 L926.7,197.4 L927.7,200.3 L928.7,202.8 L929.7,204.9 L930.7,206.6 L931.7,208.0 L932.7,209.2 L933.7,210.2 L934.7,211.3 L935.7,212.3 L936.7,213.3 L937.7,214.1 L938.7,214.8 L939.7,215.4 L940.7,216.0 L941.7,216.7 L942.7,217.3 L943.7,217.9 L944.7,218.4 L945.7,218.7 L946.7,219.0 L947.7,219.1 L948.7,219.1 L949.7,219.0 L950.7,218.7 L951.7,218.4 L952.7,218.0 L953.7,217.8 L954.7,217.8 L955.7,217.9 L956.7,218.0 L957.7,218.2 L958.7,218.3 L959.7,218.5 L960.7,218.7 L961.7,218.8 L962.7,219.0 L963.7,219.2 L964.7,219.3 L965.7,219.4 L966.7,219.5 L967.7,219.6 L968.7,219.6 L969.7,219.7 L970.7,219.8 L971.7,219.9 L972.7,219.9 L973.7,220.0 L974.7,220.1 L975.7,220.1 L976.7,220.2 L977.7,220.2 L978.7,220.3 L979.7,220.4 L980.7,220.4 L981.7,220.5 L982.7,220.5 L983.7,220.6 L984.7,220.6 L985.7,220.7 L986.7,220.7 L987.7,220.8 L988.7,220.8 L989.7,220.9 L990.7,220.9 L991.7,221.0 L992.7,221.0 L993.7,221.1 L994.7,221.1 L995.7,221.2 L996.7,221.2 L997.7,221.3 L998.7,221.3 L999.7,221.4 L1000.7,221.4 L1001.7,221.5 L1002.7,221.5 L1003.7,221.5 L1004.7,221.6 L1005.7,221.6 L1006.7,221.7 L1007.7,221.7 L1008.7,221.7 L1009.7,221.8 L1010.7,221.8 L1011.7,221.9 L1012.7,221.9 L1013.7,221.9 L1014.7,222.0 L1015.7,222.0 L1016.7,222.1 L1017.7,222.1 L1018.7,222.1 L1019.7,222.2 L1020.7,222.2 L1021.7,222.2 L1022.7,222.3 L1023.7,222.3 L1024.7,222.4 L1025.7,222.4 L1026.7,222.4 L1027.7,222.5 L1028.7,222.5 L1029.7,222.5 L1030.7,222.6 L1031.7,222.6 L1032.7,222.6 L1033.7,222.7 L1034.7,222.7 L1035.7,222.7 L1036.7,222.8 L1037.7,222.8 L1038.7,222.8 L1039.7,222.9 L1039.7,223.4 L1038.7,223.4 L1037.7,223.4 L1036.7,223.4 L1035.7,223.3 L1034.7,223.3 L1033.7,223.3 L1032.7,223.3 L1031.7,223.2 L1030.7,223.2 L1029.7,223.2 L1028.7,223.1 L1027.7,223.1 L1026.7,223.1 L1025.7,223.1 L1024.7,223.0 L1023.7,223.0 L1022.7,223.0 L1021.7,223.0 L1020.7,222.9 L1019.7,222.9 L1018.7,222.9 L1017.7,222.9 L1016.7,222.8 L1015.7,222.8 L1014.7,222.8 L1013.7,222.8 L1012.7,222.7 L1011.7,222.7 L1010.7,222.7 L1009.7,222.7 L1008.7,222.6 L1007.7,222.6 L1006.7,222.6 L1005.7,222.6 L1004.7,222.5 L1003.7,222.5 L1002.7,222.5 L1001.7,222.4 L1000.7,222.4 L999.7,222.4 L998.7,222.4 L997.7,222.3 L996.7,222.3 L995.7,222.3 L994.7,222.3 L993.7,222.2 L992.7,222.2 L991.7,222.2 L990.7,222.2 L989.7,222.1 L988.7,222.1 L987.7,222.1 L986.7,222.1 L985.7,222.0 L984.7,222.0 L983.7,222.0 L982.7,222.0 L981.7,221.9 L980.7,221.9 L979.7,221.9 L978.7,221.9 L977.7,221.8 L976.7,221.8 L975.7,221.8 L974.7,221.8 L973.7,221.7 L972.7,221.7 L971.7,221.7 L970.7,221.6 L969.7,221.6 L968.7,221.6 L967.7,221.6 L966.7,221.5 L965.7,221.5 L964.7,221.5 L963.7,221.4 L962.7,221.3 L961.7,221.2 L960.7,221.1 L959.7,221.0 L958.7,220.9 L957.7,220.8 L956.7,220.7 L955.7,220.6 L954.7,220.5 L953.7,220.4 L952.7,220.3 L951.7,220.2 L950.7,220.1 L949.7,220.0 L948.7,219.9 L947.7,219.8 L946.7,219.7 L945.7,219.6 L944.7,219.4 L943.7,219.3 L942.7,219.1 L941.7,218.9 L940.7,218.7 L939.7,218.5 L938.7,218.3 L937.7,218.1 L936.7,218.0 L935.7,217.8 L934.7,217.6 L933.7,217.4 L932.7,217.2 L931.7,217.0 L930.7,216.9 L929.7,216.7 L928.7,216.5 L927.7,216.3 L926.7,216.1 L925.7,215.9 L924.7,215.8 L923.7,215.6 L922.7,215.5 L921.7,215.3 L920.7,215.2 L919.7,215.0 L918.7,214.9 L917.7,214.7 L916.7,214.6 L915.7,214.4 L914.7,214.3 L913.7,214.1 L912.7,214.0 L911.7,213.8 L910.7,213.7 L909.7,213.5 L908.7,213.4 L907.7,213.2 L906.7,213.1 L905.7,212.9 L904.7,212.8 L903.7,212.7 L902.7,212.7 L901.7,212.6 L900.7,212.5 L899.7,212.5 L898.7,212.4 L897.7,212.3 L896.7,212.3 L895.7,212.2 L894.7,212.1 L893.7,212.1 L892.7,212.0 L891.7,211.9 L890.7,211.9 L889.7,211.8 L888.7,211.8 L887.7,211.7 L886.7,211.6 L885.7,211.6 L884.7,211.5 L883.7,211.4 L882.7,211.4 L881.7,211.3 L880.7,211.2 L879.7,211.2 L878.7,211.2 L877.7,211.2 L876.7,211.2 L875.7,211.2 L874.7,211.2 L873.7,211.1 L872.7,211.1 L871.7,211.1 L870.7,211.1 L869.7,211.1 L868.7,211.1 L867.7,211.1 L866.7,211.1 L865.7,211.1 L864.7,211.1 L863.7,211.1 L862.7,211.1 L861.7,211.1 L860.7,211.0 L859.7,211.0 L858.7,211.0 L857.7,211.0 L856.7,211.0 L855.7,211.0 L854.7,211.0 L853.7,211.0 L852.7,211.0 L851.7,211.0 L850.7,211.0 L849.7,211.0 L848.7,210.9 L847.7,210.9 L846.7,210.9 L845.7,210.9 L844.7,210.9 L843.7,210.9 L842.7,210.9 L841.7,210.9 L840.7,210.9 L839.7,210.9 L838.7,210.9 L837.7,210.9 L836.7,210.9 L835.7,210.8 L834.7,210.8 L833.7,210.8 L832.7,210.8 L831.7,210.8 L830.7,210.8 L829.7,210.8 L828.7,210.8 L827.7,210.8 L826.7,210.8 L825.7,210.8 L824.7,210.8 L823.7,210.7 L822.7,210.7 L821.7,210.7 L820.7,210.7 L819.7,210.7 L818.7,210.7 L817.7,210.7 L816.7,210.7 L815.7,210.7 L814.7,210.7 L813.7,210.7 L812.7,210.7 L811.7,210.7 L810.7,210.6 L809.7,210.6 L808.7,210.6 L807.7,210.6 L806.7,210.6 L805.7,210.6 L804.7,210.6 L803.7,210.6 L802.7,210.6 L801.7,210.6 L800.7,210.6 L799.7,210.6 L798.7,210.5 L797.7,210.5 L796.7,210.5 L795.7,210.5 L794.7,210.5 L793.7,210.5 L792.7,210.5 L791.7,210.5 L790.7,210.5 L789.7,210.5 L788.7,210.5 L787.7,210.5 L786.7,210.5 L785.7,210.4 L784.7,210.4 L783.7,210.4 L782.7,210.4 L781.7,210.4 L780.7,210.4 L779.7,210.4 L778.7,210.4 L777.7,210.4 L776.7,210.4 L775.7,210.4 L774.7,210.4 L773.7,210.4 L772.7,210.4 L771.7,210.4 L770.7,210.5 L769.7,210.5 L768.7,210.5 L767.7,210.5 L766.7,210.5 L765.7,210.5 L764.7,210.5 L763.7,210.5 L762.7,210.5 L761.7,210.5 L760.7,210.5 L759.7,210.5 L758.7,210.5 L757.7,210.5 L756.7,210.5 L755.7,210.5 L754.7,210.5 L753.7,210.6 L752.7,210.6Z" fill="rgb(162, 125, 182)" fill-opacity="0.7" stroke="rgb(140, 120, 200)" stroke-width="0.9"/>
<path d="M752.7,210.6 L753.7,210.6 L754.7,210.5 L755.7,210.5 L756.7,210.5 L757.7,210.5 L758.7,210.5 L759.7,210.5 L760.7,210.5 L761.7,210.5 L762.7,210.5 L763.7,210.5 L764.7,210.5 L765.7,210.5 L766.7,210.5 L767.7,210.5 L768.7,210.5 L769.7,210.5 L770.7,210.5 L771.7,210.4 L772.7,210.4 L773.7,210.4 L774.7,210.4 L775.7,210.4 L776.7,210.4 L777.7,210.4 L778.7,210.4 L779.7,210.4 L780.7,210.4 L781.7,210.4 L782.7,210.4 L783.7,210.4 L784.7,210.4 L785.7,210.4 L786.7,210.5 L787.7,210.5 L788.7,210.5 L789.7,210.5 L790.7,210.5 L791.7,210.5 L792.7,210.5 L793.7,210.5 L794.7,210.5 L795.7,210.5 L796.7,210.5 L797.7,210.5 L798.7,210.5 L799.7,210.6 L800.7,210.6 L801.7,210.6 L802.7,210.6 L803.7,210.6 L804.7,210.6 L805.7,210.6 L806.7,210.6 L807.7,210.6 L808.7,210.6 L809.7,210.6 L810.7,210.6 L811.7,210.7 L812.7,210.7 L813.7,210.7 L814.7,210.7 L815.7,210.7 L816.7,210.7 L817.7,210.7 L818.7,210.7 L819.7,210.7 L820.7,210.7 L821.7,210.7 L822.7,210.7 L823.7,210.7 L824.7,210.8 L825.7,210.8 L826.7,210.8 L827.7,210.8 L828.7,210.8 L829.7,210.8 L830.7,210.8 L831.7,210.8 L832.7,210.8 L833.7,210.8 L834.7,210.8 L835.7,210.8 L836.7,210.9 L837.7,210.9 L838.7,210.9 L839.7,210.9 L840.7,210.9 L841.7,210.9 L842.7,210.9 L843.7,210.9 L844.7,210.9 L845.7,210.9 L846.7,210.9 L847.7,210.9 L848.7,210.9 L849.7,211.0 L850.7,211.0 L851.7,211.0 L852.7,211.0 L853.7,211.0 L854.7,211.0 L855.7,211.0 L856.7,211.0 L857.7,211.0 L858.7,211.0 L859.7,211.0 L860.7,211.0 L861.7,211.1 L862.7,211.1 L863.7,211.1 L864.7,211.1 L865.7,211.1 L866.7,211.1 L867.7,211.1 L868.7,211.1 L869.7,211.1 L870.7,211.1 L871.7,211.1 L872.7,211.1 L873.7,211.1 L874.7,211.2 L875.7,211.2 L876.7,211.2 L877.7,211.2 L878.7,211.2 L879.7,211.2 L880.7,211.2 L881.7,211.3 L882.7,211.4 L883.7,211.4 L884.7,211.5 L885.7,211.6 L886.7,211.6 L887.7,211.7 L888.7,211.7 L889.7,211.8 L890.7,211.9 L891.7,211.9 L892.7,212.0 L893.7,212.0 L894.7,212.1 L895.7,212.1 L896.7,212.1 L897.7,212.2 L898.7,212.2 L899.7,212.2 L900.7,212.1 L901.7,212.1 L902.7,212.2 L903.7,212.3 L904.7,212.3 L905.7,212.4 L906.7,212.3 L907.7,212.0 L908.7,211.5 L909.7,210.9 L910.7,210.2 L911.7,209.4 L912.7,208.6 L913.7,207.8 L914.7,206.8 L915.7,205.3 L916.7,203.2 L917.7,200.4 L918.7,196.8 L919.7,192.3 L920.7,187.0 L921.7,180.9 L922.7,174.3 L923.7,167.3 L924.7,160.1 L925.7,153.0 L926.7,146.1 L927.7,139.6 L928.7,133.8 L929.7,128.8 L930.7,125.0 L931.7,122.4 L932.7,120.2 L933.7,117.8 L934.7,114.9 L935.7,111.9 L936.7,109.2 L937.7,106.9 L938.7,105.4 L939.7,104.7 L940.7,105.0 L941.7,106.2 L942.7,108.4 L943.7,111.4 L944.7,115.2 L945.7,119.5 L946.7,124.2 L947.7,129.3 L948.7,134.7 L949.7,140.4 L950.7,146.3 L951.7,152.4 L952.7,158.5 L953.7,164.5 L954.7,170.6 L955.7,176.5 L956.7,182.4 L957.7,188.0 L958.7,193.3 L959.7,198.1 L960.7,202.3 L961.7,206.0 L962.7,209.0 L963.7,211.6 L964.7,213.9 L965.7,215.7 L966.7,217.2 L967.7,218.4 L968.7,219.2 L969.7,219.8 L970.7,220.0 L971.7,220.2 L972.7,220.5 L973.7,220.8 L974.7,221.0 L975.7,221.3 L976.7,221.5 L977.7,221.7 L978.7,221.8 L979.7,221.8 L980.7,221.9 L981.7,221.9 L982.7,221.9 L983.7,221.9 L984.7,222.0 L985.7,222.0 L986.7,222.0 L987.7,222.1 L988.7,222.1 L989.7,222.1 L990.7,222.2 L991.7,222.2 L992.7,222.2 L993.7,222.2 L994.7,222.3 L995.7,222.3 L996.7,222.3 L997.7,222.3 L998.7,222.4 L999.7,222.4 L1000.7,222.4 L1001.7,222.4 L1002.7,222.5 L1003.7,222.5 L1004.7,222.5 L1005.7,222.6 L1006.7,222.6 L1007.7,222.6 L1008.7,222.6 L1009.7,222.7 L1010.7,222.7 L1011.7,222.7 L1012.7,222.7 L1013.7,222.8 L1014.7,222.8 L1015.7,222.8 L1016.7,222.8 L1017.7,222.9 L1018.7,222.9 L1019.7,222.9 L1020.7,222.9 L1021.7,223.0 L1022.7,223.0 L1023.7,223.0 L1024.7,223.0 L1025.7,223.1 L1026.7,223.1 L1027.7,223.1 L1028.7,223.1 L1029.7,223.2 L1030.7,223.2 L1031.7,223.2 L1032.7,223.3 L1033.7,223.3 L1034.7,223.3 L1035.7,223.3 L1036.7,223.4 L1037.7,223.4 L1038.7,223.4 L1039.7,223.4 L1039.7,223.4 L1038.7,223.4 L1037.7,223.4 L1036.7,223.4 L1035.7,223.3 L1034.7,223.3 L1033.7,223.3 L1032.7,223.3 L1031.7,223.2 L1030.7,223.2 L1029.7,223.2 L1028.7,223.1 L1027.7,223.1 L1026.7,223.1 L1025.7,223.1 L1024.7,223.0 L1023.7,223.0 L1022.7,223.0 L1021.7,223.0 L1020.7,222.9 L1019.7,222.9 L1018.7,222.9 L1017.7,222.9 L1016.7,222.8 L1015.7,222.8 L1014.7,222.8 L1013.7,222.8 L1012.7,222.7 L1011.7,222.7 L1010.7,222.7 L1009.7,222.7 L1008.7,222.6 L1007.7,222.6 L1006.7,222.6 L1005.7,222.6 L1004.7,222.5 L1003.7,222.5 L1002.7,222.5 L1001.7,222.4 L1000.7,222.4 L999.7,222.4 L998.7,222.4 L997.7,222.3 L996.7,222.3 L995.7,222.3 L994.7,222.3 L993.7,222.2 L992.7,222.2 L991.7,222.2 L990.7,222.2 L989.7,222.1 L988.7,222.1 L987.7,222.1 L986.7,222.1 L985.7,222.0 L984.7,222.0 L983.7,222.0 L982.7,222.0 L981.7,221.9 L980.7,221.9 L979.7,221.9 L978.7,221.9 L977.7,221.8 L976.7,221.8 L975.7,221.8 L974.7,221.8 L973.7,221.7 L972.7,221.7 L971.7,221.7 L970.7,221.6 L969.7,221.6 L968.7,221.6 L967.7,221.6 L966.7,221.5 L965.7,221.5 L964.7,221.5 L963.7,221.4 L962.7,221.3 L961.7,221.2 L960.7,221.1 L959.7,221.0 L958.7,220.9 L957.7,220.8 L956.7,220.7 L955.7,220.6 L954.7,220.5 L953.7,220.4 L952.7,220.3 L951.7,220.2 L950.7,220.1 L949.7,220.0 L948.7,219.9 L947.7,219.8 L946.7,219.7 L945.7,219.6 L944.7,219.4 L943.7,219.3 L942.7,219.1 L941.7,218.9 L940.7,218.7 L939.7,218.5 L938.7,218.3 L937.7,218.1 L936.7,218.0 L935.7,217.8 L934.7,217.6 L933.7,217.4 L932.7,217.2 L931.7,217.0 L930.7,216.9 L929.7,216.7 L928.7,216.5 L927.7,216.3 L926.7,216.1 L925.7,215.9 L924.7,215.8 L923.7,215.6 L922.7,215.5 L921.7,215.3 L920.7,215.2 L919.7,215.0 L918.7,214.9 L917.7,214.7 L916.7,214.6 L915.7,214.4 L914.7,214.3 L913.7,214.1 L912.7,214.0 L911.7,213.8 L910.7,213.7 L909.7,213.5 L908.7,213.4 L907.7,213.2 L906.7,213.1 L905.7,212.9 L904.7,212.8 L903.7,212.7 L902.7,212.7 L901.7,212.6 L900.7,212.5 L899.7,212.5 L898.7,212.4 L897.7,212.3 L896.7,212.3 L895.7,212.2 L894.7,212.1 L893.7,212.1 L892.7,212.0 L891.7,211.9 L890.7,211.9 L889.7,211.8 L888.7,211.8 L887.7,211.7 L886.7,211.6 L885.7,211.6 L884.7,211.5 L883.7,211.4 L882.7,211.4 L881.7,211.3 L880.7,211.2 L879.7,211.2 L878.7,211.2 L877.7,211.2 L876.7,211.2 L875.7,211.2 L874.7,211.2 L873.7,211.1 L872.7,211.1 L871.7,211.1 L870.7,211.1 L869.7,211.1 L868.7,211.1 L867.7,211.1 L866.7,211.1 L865.7,211.1 L864.7,211.1 L863.7,211.1 L862.7,211.1 L861.7,211.1 L860.7,211.0 L859.7,211.0 L858.7,211.0 L857.7,211.0 L856.7,211.0 L855.7,211.0 L854.7,211.0 L853.7,211.0 L852.7,211.0 L851.7,211.0 L850.7,211.0 L849.7,211.0 L848.7,210.9 L847.7,210.9 L846.7,210.9 L845.7,210.9 L844.7,210.9 L843.7,210.9 L842.7,210.9 L841.7,210.9 L840.7,210.9 L839.7,210.9 L838.7,210.9 L837.7,210.9 L836.7,210.9 L835.7,210.8 L834.7,210.8 L833.7,210.8 L832.7,210.8 L831.7,210.8 L830.7,210.8 L829.7,210.8 L828.7,210.8 L827.7,210.8 L826.7,210.8 L825.7,210.8 L824.7,210.8 L823.7,210.7 L822.7,210.7 L821.7,210.7 L820.7,210.7 L819.7,210.7 L818.7,210.7 L817.7,210.7 L816.7,210.7 L815.7,210.7 L814.7,210.7 L813.7,210.7 L812.7,210.7 L811.7,210.7 L810.7,210.6 L809.7,210.6 L808.7,210.6 L807.7,210.6 L806.7,210.6 L805.7,210.6 L804.7,210.6 L803.7,210.6 L802.7,210.6 L801.7,210.6 L800.7,210.6 L799.7,210.6 L798.7,210.5 L797.7,210.5 L796.7,210.5 L795.7,210.5 L794.7,210.5 L793.7,210.5 L792.7,210.5 L791.7,210.5 L790.7,210.5 L789.7,210.5 L788.7,210.5 L787.7,210.5 L786.7,210.5 L785.7,210.4 L784.7,210.4 L783.7,210.4 L782.7,210.4 L781.7,210.4 L780.7,210.4 L779.7,210.4 L778.7,210.4 L777.7,210.4 L776.7,210.4 L775.7,210.4 L774.7,210.4 L773.7,210.4 L772.7,210.4 L771.7,210.4 L770.7,210.5 L769.7,210.5 L768.7,210.5 L767.7,210.5 L766.7,210.5 L765.7,210.5 L764.7,210.5 L763.7,210.5 L762.7,210.5 L761.7,210.5 L760.7,210.5 L759.7,210.5 L758.7,210.5 L757.7,210.5 L756.7,210.5 L755.7,210.5 L754.7,210.5 L753.7,210.6 L752.7,210.6Z" fill="rgb(222, 131, 182)" fill-opacity="0.7"/>
<path d="M752.7,210.6 L753.7,210.6 L754.7,210.5 L755.7,210.5 L756.7,210.5 L757.7,210.5 L758.7,210.5 L759.7,210.5 L760.7,210.5 L761.7,210.5 L762.7,210.5 L763.7,210.5 L764.7,210.5 L765.7,210.5 L766.7,210.5 L767.7,210.5 L768.7,210.5 L769.7,210.5 L770.7,210.5 L771.7,210.4 L772.7,210.4 L773.7,210.4 L774.7,210.4 L775.7,210.4 L776.7,210.4 L777.7,210.4 L778.7,210.4 L779.7,210.4 L780.7,210.4 L781.7,210.4 L782.7,210.4 L783.7,210.4 L784.7,210.4 L785.7,210.4 L786.7,210.5 L787.7,210.5 L788.7,210.5 L789.7,210.5 L790.7,210.5 L791.7,210.5 L792.7,210.5 L793.7,210.5 L794.7,210.5 L795.7,210.5 L796.7,210.5 L797.7,210.5 L798.7,210.5 L799.7,210.6 L800.7,210.6 L801.7,210.6 L802.7,210.6 L803.7,210.6 L804.7,210.6 L805.7,210.6 L806.7,210.6 L807.7,210.6 L808.7,210.6 L809.7,210.6 L810.7,210.6 L811.7,210.7 L812.7,210.7 L813.7,210.7 L814.7,210.7 L815.7,210.7 L816.7,210.7 L817.7,210.7 L818.7,210.7 L819.7,210.7 L820.7,210.7 L821.7,210.7 L822.7,210.7 L823.7,210.7 L824.7,210.8 L825.7,210.8 L826.7,210.8 L827.7,210.8 L828.7,210.8 L829.7,210.8 L830.7,210.8 L831.7,210.8 L832.7,210.8 L833.7,210.8 L834.7,210.8 L835.7,210.8 L836.7,210.9 L837.7,210.9 L838.7,210.9 L839.7,210.9 L840.7,210.9 L841.7,210.9 L842.7,210.9 L843.7,210.9 L844.7,210.9 L845.7,210.9 L846.7,210.9 L847.7,210.9 L848.7,210.9 L849.7,211.0 L850.7,211.0 L851.7,211.0 L852.7,211.0 L853.7,211.0 L854.7,211.0 L855.7,211.0 L856.7,211.0 L857.7,211.0 L858.7,211.0 L859.7,211.0 L860.7,211.0 L861.7,211.1 L862.7,211.1 L863.7,211.1 L864.7,211.1 L865.7,211.1 L866.7,211.1 L867.7,211.1 L868.7,211.1 L869.7,211.1 L870.7,211.1 L871.7,211.1 L872.7,211.1 L873.7,211.1 L874.7,211.2 L875.7,211.2 L876.7,211.2 L877.7,211.2 L878.7,211.2 L879.7,211.2 L880.7,211.2 L881.7,211.3 L882.7,211.4 L883.7,211.4 L884.7,211.5 L885.7,211.6 L886.7,211.6 L887.7,211.7 L888.7,211.8 L889.7,211.8 L890.7,211.9 L891.7,211.9 L892.7,212.0 L893.7,212.1 L894.7,212.1 L895.7,212.2 L896.7,212.3 L897.7,212.3 L898.7,212.4 L899.7,212.5 L900.7,212.5 L901.7,212.6 L902.7,212.7 L903.7,212.7 L904.7,212.8 L905.7,212.9 L906.7,213.1 L907.7,213.2 L908.7,213.4 L909.7,213.5 L910.7,213.7 L911.7,213.8 L912.7,214.0 L913.7,214.1 L914.7,214.3 L915.7,214.4 L916.7,214.6 L917.7,214.7 L918.7,214.9 L919.7,215.0 L920.7,215.2 L921.7,215.3 L922.7,215.5 L923.7,215.6 L924.7,215.8 L925.7,215.9 L926.7,216.1 L927.7,216.3 L928.7,216.5 L929.7,216.7 L930.7,216.9 L931.7,217.0 L932.7,217.2 L933.7,217.4 L934.7,217.6 L935.7,217.8 L936.7,218.0 L937.7,218.1 L938.7,218.3 L939.7,218.5 L940.7,218.7 L941.7,218.9 L942.7,219.1 L943.7,219.3 L944.7,219.4 L945.7,219.6 L946.7,219.7 L947.7,219.8 L948.7,219.9 L949.7,220.0 L950.7,220.1 L951.7,220.2 L952.7,220.3 L953.7,220.4 L954.7,220.5 L955.7,220.6 L956.7,220.7 L957.7,220.8 L958.7,220.9 L959.7,221.0 L960.7,221.1 L961.7,221.2 L962.7,221.3 L963.7,221.4 L964.7,221.5 L965.7,221.5 L966.7,221.5 L967.7,221.6 L968.7,221.6 L969.7,221.6 L970.7,221.6 L971.7,221.7 L972.7,221.7 L973.7,221.7 L974.7,221.8 L975.7,221.8 L976.7,221.8 L977.7,221.8 L978.7,221.9 L979.7,221.9 L980.7,221.9 L981.7,221.9 L982.7,222.0 L983.7,222.0 L984.7,222.0 L985.7,222.0 L986.7,222.1 L987.7,222.1 L988.7,222.1 L989.7,222.1 L990.7,222.2 L991.7,222.2 L992.7,222.2 L993.7,222.2 L994.7,222.3 L995.7,222.3 L996.7,222.3 L997.7,222.3 L998.7,222.4 L999.7,222.4 L1000.7,222.4 L1001.7,222.4 L1002.7,222.5 L1003.7,222.5 L1004.7,222.5 L1005.7,222.6 L1006.7,222.6 L1007.7,222.6 L1008.7,222.6 L1009.7,222.7 L1010.7,222.7 L1011.7,222.7 L1012.7,222.7 L1013.7,222.8 L1014.7,222.8 L1015.7,222.8 L1016.7,222.8 L1017.7,222.9 L1018.7,222.9 L1019.7,222.9 L1020.7,222.9 L1021.7,223.0 L1022.7,223.0 L1023.7,223.0 L1024.7,223.0 L1025.7,223.1 L1026.7,223.1 L1027.7,223.1 L1028.7,223.1 L1029.7,223.2 L1030.7,223.2 L1031.7,223.2 L1032.7,223.3 L1033.7,223.3 L1034.7,223.3 L1035.7,223.3 L1036.7,223.4 L1037.7,223.4 L1038.7,223.4 L1039.7,223.4 L1039.7,225.8 L1038.7,225.7 L1037.7,225.7 L1036.7,225.6 L1035.7,225.6 L1034.7,225.5 L1033.7,225.5 L1032.7,225.5 L1031.7,225.4 L1030.7,225.4 L1029.7,225.3 L1028.7,225.3 L1027.7,225.2 L1026.7,225.2 L1025.7,225.1 L1024.7,225.1 L1023.7,225.1 L1022.7,225.0 L1021.7,225.0 L1020.7,224.9 L1019.7,224.9 L1018.7,224.8 L1017.7,224.8 L1016.7,224.8 L1015.7,224.7 L1014.7,224.7 L1013.7,224.6 L1012.7,224.6 L1011.7,224.5 L1010.7,224.5 L1009.7,224.5 L1008.7,224.4 L1007.7,224.4 L1006.7,224.3 L1005.7,224.3 L1004.7,224.2 L1003.7,224.2 L1002.7,224.2 L1001.7,224.1 L1000.7,224.1 L999.7,224.0 L998.7,224.0 L997.7,223.9 L996.7,223.9 L995.7,223.8 L994.7,223.8 L993.7,223.8 L992.7,223.7 L991.7,223.7 L990.7,223.6 L989.7,223.6 L988.7,223.5 L987.7,223.5 L986.7,223.5 L985.7,223.4 L984.7,223.4 L983.7,223.3 L982.7,223.3 L981.7,223.2 L980.7,223.2 L979.7,223.2 L978.7,223.1 L977.7,223.1 L976.7,223.0 L975.7,223.0 L974.7,222.9 L973.7,222.9 L972.7,222.9 L971.7,222.8 L970.7,222.8 L969.7,222.7 L968.7,222.7 L967.7,222.6 L966.7,222.6 L965.7,222.5 L964.7,222.5 L963.7,222.5 L962.7,222.4 L961.7,222.4 L960.7,222.3 L959.7,222.3 L958.7,222.2 L957.7,222.1 L956.7,222.0 L955.7,221.9 L954.7,221.8 L953.7,221.7 L952.7,221.6 L951.7,221.5 L950.7,221.4 L949.7,221.3 L948.7,221.2 L947.7,221.1 L946.7,221.0 L945.7,220.9 L944.7,220.8 L943.7,220.8 L942.7,220.7 L941.7,220.6 L940.7,220.5 L939.7,220.4 L938.7,220.3 L937.7,220.2 L936.7,220.1 L935.7,220.0 L934.7,219.9 L933.7,219.8 L932.7,219.7 L931.7,219.6 L930.7,219.5 L929.7,219.4 L928.7,219.3 L927.7,219.2 L926.7,219.1 L925.7,219.0 L924.7,218.9 L923.7,218.9 L922.7,218.8 L921.7,218.7 L920.7,218.6 L919.7,218.5 L918.7,218.4 L917.7,218.4 L916.7,218.3 L915.7,218.2 L914.7,218.2 L913.7,218.1 L912.7,218.1 L911.7,218.0 L910.7,217.9 L909.7,217.9 L908.7,217.8 L907.7,217.8 L906.7,217.7 L905.7,217.6 L904.7,217.6 L903.7,217.5 L902.7,217.5 L901.7,217.4 L900.7,217.3 L899.7,217.3 L898.7,217.2 L897.7,217.2 L896.7,217.1 L895.7,217.0 L894.7,217.0 L893.7,216.9 L892.7,216.9 L891.7,216.8 L890.7,216.7 L889.7,216.7 L888.7,216.6 L887.7,216.6 L886.7,216.5 L885.7,216.4 L884.7,216.4 L883.7,216.3 L882.7,216.3 L881.7,216.2 L880.7,216.1 L879.7,216.1 L878.7,216.1 L877.7,216.0 L876.7,216.0 L875.7,216.0 L874.7,216.0 L873.7,215.9 L872.7,215.9 L871.7,215.9 L870.7,215.8 L869.7,215.8 L868.7,215.8 L867.7,215.8 L866.7,215.7 L865.7,215.7 L864.7,215.7 L863.7,215.6 L862.7,215.6 L861.7,215.6 L860.7,215.6 L859.7,215.5 L858.7,215.5 L857.7,215.5 L856.7,215.4 L855.7,215.4 L854.7,215.4 L853.7,215.4 L852.7,215.3 L851.7,215.3 L850.7,215.3 L849.7,215.3 L848.7,215.2 L847.7,215.2 L846.7,215.2 L845.7,215.1 L844.7,215.1 L843.7,215.1 L842.7,215.1 L841.7,215.0 L840.7,215.0 L839.7,215.0 L838.7,214.9 L837.7,214.9 L836.7,214.9 L835.7,214.9 L834.7,214.8 L833.7,214.8 L832.7,214.8 L831.7,214.7 L830.7,214.7 L829.7,214.7 L828.7,214.7 L827.7,214.7 L826.7,214.6 L825.7,214.6 L824.7,214.6 L823.7,214.6 L822.7,214.6 L821.7,214.6 L820.7,214.5 L819.7,214.5 L818.7,214.5 L817.7,214.5 L816.7,214.5 L815.7,214.4 L814.7,214.4 L813.7,214.4 L812.7,214.4 L811.7,214.4 L810.7,214.4 L809.7,214.3 L808.7,214.3 L807.7,214.3 L806.7,214.3 L805.7,214.3 L804.7,214.2 L803.7,214.2 L802.7,214.2 L801.7,214.2 L800.7,214.2 L799.7,214.2 L798.7,214.1 L797.7,214.1 L796.7,214.1 L795.7,214.1 L794.7,214.1 L793.7,214.0 L792.7,214.0 L791.7,214.0 L790.7,214.0 L789.7,214.0 L788.7,214.0 L787.7,213.9 L786.7,213.9 L785.7,213.9 L784.7,213.9 L783.7,213.9 L782.7,213.8 L781.7,213.8 L780.7,213.8 L779.7,213.8 L778.7,213.7 L777.7,213.7 L776.7,213.7 L775.7,213.6 L774.7,213.6 L773.7,213.5 L772.7,213.5 L771.7,213.5 L770.7,213.4 L769.7,213.4 L768.7,213.3 L767.7,213.3 L766.7,213.3 L765.7,213.2 L764.7,213.2 L763.7,213.1 L762.7,213.1 L761.7,213.1 L760.7,213.0 L759.7,213.0 L758.7,212.9 L757.7,212.9 L756.7,212.9 L755.7,212.8 L754.7,212.8 L753.7,212.7 L752.7,212.7Z" fill="rgb(180, 140, 200)" fill-opacity="0.9"/>
<path d="M752.7,212.7 L753.7,212.7 L754.7,212.8 L755.7,212.8 L756.7,212.9 L757.7,212.9 L758.7,212.9 L759.7,213.0 L760.7,213.0 L761.7,213.1 L762.7,213.1 L763.7,213.1 L764.7,213.2 L765.7,213.2 L766.7,213.3 L767.7,213.3 L768.7,213.3 L769.7,213.4 L770.7,213.4 L771.7,213.5 L772.7,213.5 L773.7,213.5 L774.7,213.6 L775.7,213.6 L776.7,213.7 L777.7,213.7 L778.7,213.7 L779.7,213.8 L780.7,213.8 L781.7,213.8 L782.7,213.8 L783.7,213.9 L784.7,213.9 L785.7,213.9 L786.7,213.9 L787.7,213.9 L788.7,214.0 L789.7,214.0 L790.7,214.0 L791.7,214.0 L792.7,214.0 L793.7,214.0 L794.7,214.1 L795.7,214.1 L796.7,214.1 L797.7,214.1 L798.7,214.1 L799.7,214.2 L800.7,214.2 L801.7,214.2 L802.7,214.2 L803.7,214.2 L804.7,214.2 L805.7,214.3 L806.7,214.3 L807.7,214.3 L808.7,214.3 L809.7,214.3 L810.7,214.4 L811.7,214.4 L812.7,214.4 L813.7,214.4 L814.7,214.4 L815.7,214.4 L816.7,214.5 L817.7,214.5 L818.7,214.5 L819.7,214.5 L820.7,214.5 L821.7,214.6 L822.7,214.6 L823.7,214.6 L824.7,214.6 L825.7,214.6 L826.7,214.6 L827.7,214.7 L828.7,214.7 L829.7,214.7 L830.7,214.7 L831.7,214.7 L832.7,214.8 L833.7,214.8 L834.7,214.8 L835.7,214.9 L836.7,214.9 L837.7,214.9 L838.7,214.9 L839.7,215.0 L840.7,215.0 L841.7,215.0 L842.7,215.1 L843.7,215.1 L844.7,215.1 L845.7,215.1 L846.7,215.2 L847.7,215.2 L848.7,215.2 L849.7,215.3 L850.7,215.3 L851.7,215.3 L852.7,215.3 L853.7,215.4 L854.7,215.4 L855.7,215.4 L856.7,215.4 L857.7,215.5 L858.7,215.5 L859.7,215.5 L860.7,215.6 L861.7,215.6 L862.7,215.6 L863.7,215.6 L864.7,215.7 L865.7,215.7 L866.7,215.7 L867.7,215.8 L868.7,215.8 L869.7,215.8 L870.7,215.8 L871.7,215.9 L872.7,215.9 L873.7,215.9 L874.7,216.0 L875.7,216.0 L876.7,216.0 L877.7,216.0 L878.7,216.1 L879.7,216.1 L880.7,216.1 L881.7,216.2 L882.7,216.3 L883.7,216.3 L884.7,216.4 L885.7,216.4 L886.7,216.5 L887.7,216.6 L888.7,216.6 L889.7,216.7 L890.7,216.7 L891.7,216.8 L892.7,216.9 L893.7,216.9 L894.7,217.0 L895.7,217.0 L896.7,217.1 L897.7,217.2 L898.7,217.2 L899.7,217.3 L900.7,217.3 L901.7,217.4 L902.7,217.5 L903.7,217.5 L904.7,217.6 L905.7,217.6 L906.7,217.7 L907.7,217.8 L908.7,217.8 L909.7,217.9 L910.7,217.9 L911.7,218.0 L912.7,218.1 L913.7,218.1 L914.7,218.2 L915.7,218.2 L916.7,218.3 L917.7,218.4 L918.7,218.4 L919.7,218.5 L920.7,218.6 L921.7,218.7 L922.7,218.8 L923.7,218.9 L924.7,218.9 L925.7,219.0 L926.7,219.1 L927.7,219.2 L928.7,219.3 L929.7,219.4 L930.7,219.5 L931.7,219.6 L932.7,219.7 L933.7,219.8 L934.7,219.9 L935.7,220.0 L936.7,220.1 L937.7,220.2 L938.7,220.3 L939.7,220.4 L940.7,220.5 L941.7,220.6 L942.7,220.7 L943.7,220.8 L944.7,220.8 L945.7,220.9 L946.7,221.0 L947.7,221.1 L948.7,221.2 L949.7,221.3 L950.7,221.4 L951.7,221.5 L952.7,221.6 L953.7,221.7 L954.7,221.8 L955.7,221.9 L956.7,222.0 L957.7,222.1 L958.7,222.2 L959.7,222.3 L960.7,222.3 L961.7,222.4 L962.7,222.4 L963.7,222.5 L964.7,222.5 L965.7,222.5 L966.7,222.6 L967.7,222.6 L968.7,222.7 L969.7,222.7 L970.7,222.8 L971.7,222.8 L972.7,222.9 L973.7,222.9 L974.7,222.9 L975.7,223.0 L976.7,223.0 L977.7,223.1 L978.7,223.1 L979.7,223.2 L980.7,223.2 L981.7,223.2 L982.7,223.3 L983.7,223.3 L984.7,223.4 L985.7,223.4 L986.7,223.5 L987.7,223.5 L988.7,223.5 L989.7,223.6 L990.7,223.6 L991.7,223.7 L992.7,223.7 L993.7,223.8 L994.7,223.8 L995.7,223.8 L996.7,223.9 L997.7,223.9 L998.7,224.0 L999.7,224.0 L1000.7,224.1 L1001.7,224.1 L1002.7,224.2 L1003.7,224.2 L1004.7,224.2 L1005.7,224.3 L1006.7,224.3 L1007.7,224.4 L1008.7,224.4 L1009.7,224.5 L1010.7,224.5 L1011.7,224.5 L1012.7,224.6 L1013.7,224.6 L1014.7,224.7 L1015.7,224.7 L1016.7,224.8 L1017.7,224.8 L1018.7,224.8 L1019.7,224.9 L1020.7,224.9 L1021.7,225.0 L1022.7,225.0 L1023.7,225.1 L1024.7,225.1 L1025.7,225.1 L1026.7,225.2 L1027.7,225.2 L1028.7,225.3 L1029.7,225.3 L1030.7,225.4 L1031.7,225.4 L1032.7,225.5 L1033.7,225.5 L1034.7,225.5 L1035.7,225.6 L1036.7,225.6 L1037.7,225.7 L1038.7,225.7 L1039.7,225.8" fill="none" stroke="rgb(150,140,210)" stroke-width="1.2" stroke-linejoin="round"/>
</g>
<text x="797.72" y="114.7" font-size="14.4" textLength="76.47" lengthAdjust="spacingAndGlyphs">Pyridinic N</text>
<line x1="851.1" y1="119.7" x2="876.3" y2="155.1" stroke="#000" stroke-width="1.3"/>
<text x="957.8" y="104.6" font-size="14.5" textLength="78.58" lengthAdjust="spacingAndGlyphs">Graphitic N</text>
<line x1="978.5" y1="109.3" x2="945.3" y2="149.6" stroke="#000" stroke-width="1.3"/>
<line x1="751.7" y1="253.7" x2="751.7" y2="259.5" stroke="#000" stroke-width="2.2"/>
<line x1="780.67" y1="253.7" x2="780.67" y2="257.3" stroke="#000" stroke-width="2.2"/>
<line x1="809.64" y1="253.7" x2="809.64" y2="259.5" stroke="#000" stroke-width="2.2"/>
<line x1="838.61" y1="253.7" x2="838.61" y2="257.3" stroke="#000" stroke-width="2.2"/>
<line x1="867.58" y1="253.7" x2="867.58" y2="259.5" stroke="#000" stroke-width="2.2"/>
<line x1="896.55" y1="253.7" x2="896.55" y2="257.3" stroke="#000" stroke-width="2.2"/>
<line x1="925.52" y1="253.7" x2="925.52" y2="259.5" stroke="#000" stroke-width="2.2"/>
<line x1="954.49" y1="253.7" x2="954.49" y2="257.3" stroke="#000" stroke-width="2.2"/>
<line x1="983.46" y1="253.7" x2="983.46" y2="259.5" stroke="#000" stroke-width="2.2"/>
<line x1="1012.43" y1="253.7" x2="1012.43" y2="257.3" stroke="#000" stroke-width="2.2"/>
<line x1="1041.4" y1="253.7" x2="1041.4" y2="259.5" stroke="#000" stroke-width="2.2"/>
<rect x="751.7" y="39.9" width="289.9" height="213.8" fill="none" stroke="#000" stroke-width="2.4"/>
<text x="738.5" y="277.3" font-size="19.7" textLength="28.07" lengthAdjust="spacingAndGlyphs">408</text>
<text x="796.57" y="277.3" font-size="19.7" textLength="28.07" lengthAdjust="spacingAndGlyphs">405</text>
<text x="854.27" y="277.3" font-size="19.7" textLength="28.07" lengthAdjust="spacingAndGlyphs">402</text>
<text x="911.68" y="277.3" font-size="19.7" textLength="28.07" lengthAdjust="spacingAndGlyphs">399</text>
<text x="969.98" y="277.3" font-size="19.7" textLength="28.07" lengthAdjust="spacingAndGlyphs">396</text>
<text x="1027.98" y="277.3" font-size="19.7" textLength="28.07" lengthAdjust="spacingAndGlyphs">393</text>
<text x="797.8" y="305.5" font-size="23.7" textLength="197.94" lengthAdjust="spacingAndGlyphs">Binding Energy (eV)</text>
<text x="765.32" y="78.5" font-size="36.8" textLength="43.77" lengthAdjust="spacingAndGlyphs">(c)</text>
<text x="992.6" y="62.9" font-size="20.4" textLength="38.04" lengthAdjust="spacingAndGlyphs">N 1s</text>
<text transform="translate(739,221.75) rotate(-90)" x="0" y="0" font-size="24" textLength="146.52" lengthAdjust="spacingAndGlyphs">Intensity (a.u.)</text>
</g>
<g id="pd">
<clipPath id="clipd"><rect x="67.9" y="329.5" width="289.1" height="214.4"/></clipPath>
<g clip-path="url(#clipd)">
<path d="M68.9,510.8 L69.9,510.6 L70.9,510.1 L71.9,509.8 L72.9,509.8 L73.9,509.7 L74.9,509.6 L75.9,509.5 L76.9,509.7 L77.9,510.0 L78.9,510.2 L79.9,510.2 L80.9,510.0 L81.9,509.8 L82.9,509.9 L83.9,510.4 L84.9,511.2 L85.9,511.9 L86.9,512.1 L87.9,511.9 L88.9,511.5 L89.9,511.0 L90.9,510.6 L91.9,510.5 L92.9,510.5 L93.9,510.4 L94.9,510.3 L95.9,510.1 L96.9,509.9 L97.9,509.7 L98.9,509.6 L99.9,509.5 L100.9,509.4 L101.9,509.2 L102.9,508.9 L103.9,508.6 L104.9,508.4 L105.9,508.6 L106.9,508.9 L107.9,508.9 L108.9,508.6 L109.9,508.5 L110.9,508.4 L111.9,508.3 L112.9,508.3 L113.9,508.4 L114.9,508.4 L115.9,508.5 L116.9,508.6 L117.9,508.8 L118.9,509.0 L119.9,508.8 L120.9,508.3 L121.9,507.6 L122.9,507.4 L123.9,507.6 L124.9,507.9 L125.9,508.1 L126.9,508.0 L127.9,507.8 L128.9,507.7 L129.9,507.8 L130.9,508.0 L131.9,508.3 L132.9,508.7 L133.9,508.9 L134.9,508.7 L135.9,508.4 L136.9,508.4 L137.9,508.3 L138.9,508.1 L139.9,507.9 L140.9,507.6 L141.9,507.3 L142.9,507.1 L143.9,507.3 L144.9,507.7 L145.9,508.1 L146.9,508.3 L147.9,508.4 L148.9,508.2 L149.9,507.7 L150.9,507.2 L151.9,506.7 L152.9,506.5 L153.9,506.6 L154.9,506.9 L155.9,507.2 L156.9,507.4 L157.9,507.6 L158.9,507.9 L159.9,508.1 L160.9,508.3 L161.9,508.4 L162.9,508.6 L163.9,508.7 L164.9,508.5 L165.9,508.1 L166.9,507.6 L167.9,507.4 L168.9,507.6 L169.9,508.0 L170.9,508.4 L171.9,508.4 L172.9,508.1 L173.9,508.1 L174.9,508.3 L175.9,508.4 L176.9,508.2 L177.9,507.9 L178.9,507.5 L179.9,507.1 L180.9,507.2 L181.9,507.6 L182.9,508.0 L183.9,507.9 L184.9,507.7 L185.9,507.6 L186.9,507.6 L187.9,507.9 L188.9,508.3 L189.9,508.5 L190.9,508.3 L191.9,507.8 L192.9,507.5 L193.9,507.5 L194.9,507.6 L195.9,507.8 L196.9,508.4 L197.9,509.1 L198.9,509.4 L199.9,509.4 L200.9,509.2 L201.9,508.8 L202.9,508.3 L203.9,508.2 L204.9,508.5 L205.9,508.9 L206.9,509.1 L207.9,509.4 L208.9,509.9 L209.9,510.4 L210.9,510.3 L211.9,509.9 L212.9,509.5 L213.9,509.3 L214.9,509.0 L215.9,508.8 L216.9,509.0 L217.9,509.2 L218.9,509.3 L219.9,509.0 L220.9,508.7 L221.9,508.7 L222.9,508.8 L223.9,508.5 L224.9,507.8 L225.9,507.1 L226.9,506.7 L227.9,506.5 L228.9,506.0 L229.9,505.5 L230.9,505.5 L231.9,505.8 L232.9,505.9 L233.9,505.7 L234.9,505.4 L235.9,505.1 L236.9,504.9 L237.9,504.9 L238.9,505.2 L239.9,505.2 L240.9,504.8 L241.9,504.2 L242.9,503.5 L243.9,502.8 L244.9,502.0 L245.9,501.7 L246.9,501.7 L247.9,502.1 L248.9,502.3 L249.9,502.1 L250.9,501.6 L251.9,500.9 L252.9,500.0 L253.9,499.0 L254.9,498.1 L255.9,497.5 L256.9,497.0 L257.9,496.5 L258.9,496.3 L259.9,496.2 L260.9,495.8 L261.9,495.1 L262.9,494.6 L263.9,494.4 L264.9,494.3 L265.9,493.8 L266.9,493.0 L267.9,492.2 L268.9,491.4 L269.9,490.5 L270.9,489.1 L271.9,486.7 L272.9,483.5 L273.9,479.5 L274.9,474.9 L275.9,469.4 L276.9,462.6 L277.9,454.4 L278.9,445.4 L279.9,436.1 L280.9,426.2 L281.9,416.0 L282.9,405.7 L283.9,395.6 L284.9,386.0 L285.9,376.6 L286.9,367.1 L287.9,357.7 L288.9,350.5 L289.9,348.9 L290.9,353.2 L291.9,360.3 L292.9,368.1 L293.9,376.4 L294.9,385.8 L295.9,396.4 L296.9,408.3 L297.9,420.5 L298.9,432.1 L299.9,442.9 L300.9,453.0 L301.9,462.2 L302.9,470.2 L303.9,476.8 L304.9,482.3 L305.9,487.2 L306.9,491.6 L307.9,495.5 L308.9,499.2 L309.9,502.2 L310.9,504.5 L311.9,505.8 L312.9,506.6 L313.9,507.4 L314.9,508.4 L315.9,509.3 L316.9,510.2 L317.9,510.9 L318.9,511.4 L319.9,511.8 L320.9,512.0 L321.9,512.2 L322.9,512.8 L323.9,513.8 L324.9,514.4 L325.9,514.6 L326.9,514.7 L327.9,515.0 L328.9,515.3 L329.9,515.2 L330.9,514.8 L331.9,514.5 L332.9,514.6 L333.9,515.1 L334.9,515.6 L335.9,516.0 L336.9,516.3 L337.9,516.2 L338.9,515.5 L339.9,514.7 L340.9,514.2 L341.9,514.1 L342.9,514.3 L343.9,514.5 L344.9,514.6 L345.9,514.6 L346.9,514.8 L347.9,515.6 L348.9,516.6 L349.9,517.4 L350.9,517.7 L351.9,517.8 L352.9,517.9 L353.9,517.6 L354.9,517.0 L355.9,516.5" fill="none" stroke="#000" stroke-width="2.2" stroke-linejoin="round"/>
<path d="M68.9,511.8 L69.9,511.8 L70.9,511.7 L71.9,511.6 L72.9,511.5 L73.9,511.5 L74.9,511.5 L75.9,511.5 L76.9,511.4 L77.9,511.4 L78.9,511.4 L79.9,511.4 L80.9,511.4 L81.9,511.4 L82.9,511.4 L83.9,511.3 L84.9,511.3 L85.9,511.3 L86.9,511.3 L87.9,511.2 L88.9,511.2 L89.9,511.2 L90.9,511.2 L91.9,511.1 L92.9,511.1 L93.9,511.1 L94.9,511.0 L95.9,510.9 L96.9,510.8 L97.9,510.7 L98.9,510.6 L99.9,510.6 L100.9,510.6 L101.9,510.5 L102.9,510.5 L103.9,510.6 L104.9,510.6 L105.9,510.6 L106.9,510.6 L107.9,510.5 L108.9,510.5 L109.9,510.4 L110.9,510.4 L111.9,510.3 L112.9,510.3 L113.9,510.2 L114.9,510.2 L115.9,510.1 L116.9,510.0 L117.9,510.0 L118.9,509.9 L119.9,509.9 L120.9,509.8 L121.9,509.8 L122.9,509.7 L123.9,509.7 L124.9,509.6 L125.9,509.5 L126.9,509.5 L127.9,509.4 L128.9,509.4 L129.9,509.3 L130.9,509.3 L131.9,509.2 L132.9,509.2 L133.9,509.1 L134.9,509.1 L135.9,509.0 L136.9,509.0 L137.9,508.9 L138.9,508.9 L139.9,508.8 L140.9,508.8 L141.9,508.8 L142.9,508.8 L143.9,508.8 L144.9,508.8 L145.9,508.8 L146.9,508.7 L147.9,508.7 L148.9,508.6 L149.9,508.5 L150.9,508.5 L151.9,508.4 L152.9,508.4 L153.9,508.4 L154.9,508.4 L155.9,508.4 L156.9,508.3 L157.9,508.3 L158.9,508.3 L159.9,508.3 L160.9,508.3 L161.9,508.3 L162.9,508.3 L163.9,508.3 L164.9,508.4 L165.9,508.4 L166.9,508.4 L167.9,508.4 L168.9,508.4 L169.9,508.5 L170.9,508.5 L171.9,508.5 L172.9,508.5 L173.9,508.6 L174.9,508.6 L175.9,508.6 L176.9,508.7 L177.9,508.7 L178.9,508.8 L179.9,508.8 L180.9,508.9 L181.9,508.9 L182.9,509.0 L183.9,509.0 L184.9,509.1 L185.9,509.1 L186.9,509.2 L187.9,509.2 L188.9,509.2 L189.9,509.2 L190.9,509.2 L191.9,509.3 L192.9,509.3 L193.9,509.4 L194.9,509.5 L195.9,509.6 L196.9,509.7 L197.9,509.8 L198.9,509.8 L199.9,509.9 L200.9,509.9 L201.9,509.9 L202.9,510.0 L203.9,510.0 L204.9,510.0 L205.9,510.0 L206.9,510.0 L207.9,510.0 L208.9,510.0 L209.9,510.0 L210.9,510.0 L211.9,509.9 L212.9,509.9 L213.9,509.9 L214.9,509.9 L215.9,509.8 L216.9,509.8 L217.9,509.8 L218.9,509.7 L219.9,509.6 L220.9,509.4 L221.9,509.3 L222.9,509.1 L223.9,508.8 L224.9,508.6 L225.9,508.4 L226.9,508.3 L227.9,508.0 L228.9,507.8 L229.9,507.6 L230.9,507.4 L231.9,507.1 L232.9,506.8 L233.9,506.5 L234.9,506.1 L235.9,505.8 L236.9,505.4 L237.9,505.1 L238.9,504.8 L239.9,504.5 L240.9,504.3 L241.9,504.0 L242.9,503.8 L243.9,503.5 L244.9,503.2 L245.9,502.9 L246.9,502.5 L247.9,502.2 L248.9,501.9 L249.9,501.6 L250.9,501.2 L251.9,500.8 L252.9,500.4 L253.9,499.9 L254.9,499.6 L255.9,499.2 L256.9,498.9 L257.9,498.6 L258.9,498.3 L259.9,497.9 L260.9,497.3 L261.9,496.7 L262.9,496.2 L263.9,495.7 L264.9,495.2 L265.9,494.7 L266.9,494.0 L267.9,493.2 L268.9,492.2 L269.9,490.9 L270.9,489.4 L271.9,487.4 L272.9,484.7 L273.9,481.1 L274.9,476.5 L275.9,470.9 L276.9,464.1 L277.9,456.2 L278.9,447.4 L279.9,437.9 L280.9,427.8 L281.9,417.4 L282.9,406.8 L283.9,396.4 L284.9,386.3 L285.9,376.7 L286.9,367.9 L287.9,360.5 L288.9,355.4 L289.9,354.0 L290.9,356.5 L291.9,361.9 L292.9,368.9 L293.9,377.0 L294.9,386.6 L295.9,397.7 L296.9,409.6 L297.9,421.6 L298.9,432.9 L299.9,443.6 L300.9,453.5 L301.9,462.6 L302.9,470.6 L303.9,477.5 L304.9,483.3 L305.9,488.4 L306.9,492.9 L307.9,496.9 L308.9,500.3 L309.9,503.2 L310.9,505.4 L311.9,507.0 L312.9,508.2 L313.9,509.2 L314.9,510.1 L315.9,510.8 L316.9,511.6 L317.9,512.2 L318.9,512.8 L319.9,513.2 L320.9,513.6 L321.9,514.0 L322.9,514.5 L323.9,515.1 L324.9,515.6 L325.9,516.0 L326.9,516.2 L327.9,516.3 L328.9,516.3 L329.9,516.1 L330.9,515.8 L331.9,515.7 L332.9,515.8 L333.9,515.9 L334.9,516.0 L335.9,516.1 L336.9,516.2 L337.9,516.3 L338.9,516.4 L339.9,516.5 L340.9,516.6 L341.9,516.7 L342.9,516.8 L343.9,516.8 L344.9,516.9 L345.9,517.0 L346.9,517.1 L347.9,517.1 L348.9,517.2 L349.9,517.2 L350.9,517.3 L351.9,517.5 L352.9,517.7 L353.9,517.8 L354.9,517.9 L355.9,518.0" fill="none" stroke="#f01010" stroke-width="2.8" stroke-linejoin="round"/>
<path d="M68.9,513.4 L69.9,513.4 L70.9,513.4 L71.9,513.4 L72.9,513.4 L73.9,513.4 L74.9,513.4 L75.9,513.4 L76.9,513.4 L77.9,513.4 L78.9,513.4 L79.9,513.4 L80.9,513.4 L81.9,513.4 L82.9,513.4 L83.9,513.3 L84.9,513.3 L85.9,513.3 L86.9,513.3 L87.9,513.3 L88.9,513.3 L89.9,513.3 L90.9,513.3 L91.9,513.3 L92.9,513.3 L93.9,513.3 L94.9,513.3 L95.9,513.3 L96.9,513.3 L97.9,513.3 L98.9,513.3 L99.9,513.3 L100.9,513.3 L101.9,513.3 L102.9,513.3 L103.9,513.3 L104.9,513.3 L105.9,513.3 L106.9,513.3 L107.9,513.3 L108.9,513.3 L109.9,513.3 L110.9,513.3 L111.9,513.3 L112.9,513.3 L113.9,513.3 L114.9,513.3 L115.9,513.3 L116.9,513.3 L117.9,513.3 L118.9,513.3 L119.9,513.3 L120.9,513.3 L121.9,513.3 L122.9,513.3 L123.9,513.3 L124.9,513.3 L125.9,513.3 L126.9,513.3 L127.9,513.3 L128.9,513.3 L129.9,513.3 L130.9,513.3 L131.9,513.3 L132.9,513.3 L133.9,513.3 L134.9,513.3 L135.9,513.3 L136.9,513.3 L137.9,513.3 L138.9,513.3 L139.9,513.3 L140.9,513.3 L141.9,513.3 L142.9,513.3 L143.9,513.3 L144.9,513.3 L145.9,513.3 L146.9,513.3 L147.9,513.3 L148.9,513.3 L149.9,513.3 L150.9,513.3 L151.9,513.3 L152.9,513.3 L153.9,513.3 L154.9,513.3 L155.9,513.3 L156.9,513.3 L157.9,513.3 L158.9,513.3 L159.9,513.3 L160.9,513.3 L161.9,513.3 L162.9,513.3 L163.9,513.3 L164.9,513.3 L165.9,513.3 L166.9,513.3 L167.9,513.3 L168.9,513.3 L169.9,513.3 L170.9,513.3 L171.9,513.2 L172.9,513.2 L173.9,513.2 L174.9,513.2 L175.9,513.2 L176.9,513.2 L177.9,513.2 L178.9,513.2 L179.9,513.2 L180.9,513.2 L181.9,513.2 L182.9,513.2 L183.9,513.2 L184.9,513.2 L185.9,513.2 L186.9,513.2 L187.9,513.2 L188.9,513.2 L189.9,513.2 L190.9,513.2 L191.9,513.2 L192.9,513.2 L193.9,513.2 L194.9,513.2 L195.9,513.2 L196.9,513.2 L197.9,513.2 L198.9,513.1 L199.9,513.1 L200.9,513.1 L201.9,513.1 L202.9,513.1 L203.9,513.1 L204.9,513.1 L205.9,513.1 L206.9,513.1 L207.9,513.1 L208.9,513.1 L209.9,513.1 L210.9,513.1 L211.9,513.1 L212.9,513.1 L213.9,513.1 L214.9,513.1 L215.9,513.1 L216.9,513.1 L217.9,513.1 L218.9,513.1 L219.9,513.1 L220.9,513.0 L221.9,513.0 L222.9,513.0 L223.9,513.0 L224.9,513.0 L225.9,513.0 L226.9,513.0 L227.9,513.0 L228.9,513.0 L229.9,512.9 L230.9,512.9 L231.9,512.9 L232.9,512.9 L233.9,512.9 L234.9,512.9 L235.9,512.8 L236.9,512.8 L237.9,512.8 L238.9,512.8 L239.9,512.7 L240.9,512.7 L241.9,512.7 L242.9,512.6 L243.9,512.6 L244.9,512.6 L245.9,512.5 L246.9,512.5 L247.9,512.4 L248.9,512.4 L249.9,512.3 L250.9,512.3 L251.9,512.3 L252.9,512.3 L253.9,512.2 L254.9,512.2 L255.9,512.1 L256.9,512.1 L257.9,512.0 L258.9,511.9 L259.9,511.8 L260.9,511.7 L261.9,511.6 L262.9,511.4 L263.9,511.1 L264.9,510.8 L265.9,510.4 L266.9,509.8 L267.9,508.9 L268.9,507.6 L269.9,505.9 L270.9,503.6 L271.9,500.8 L272.9,497.4 L273.9,493.3 L274.9,488.4 L275.9,482.6 L276.9,476.1 L277.9,468.9 L278.9,461.0 L279.9,452.2 L280.9,442.6 L281.9,431.9 L282.9,420.4 L283.9,408.8 L284.9,397.6 L285.9,387.5 L286.9,378.9 L287.9,372.4 L288.9,368.3 L289.9,367.0 L290.9,368.4 L291.9,372.5 L292.9,379.2 L293.9,387.9 L294.9,398.4 L295.9,410.0 L296.9,422.2 L297.9,434.5 L298.9,446.2 L299.9,457.1 L300.9,467.0 L301.9,475.7 L302.9,483.3 L303.9,489.9 L304.9,495.4 L305.9,500.1 L306.9,504.0 L307.9,507.2 L308.9,509.7 L309.9,511.6 L310.9,513.0 L311.9,514.0 L312.9,514.7 L313.9,515.0 L314.9,515.1 L315.9,515.1 L316.9,515.1 L317.9,515.1 L318.9,515.2 L319.9,515.4 L320.9,515.5 L321.9,515.7 L322.9,515.8 L323.9,515.9 L324.9,516.0 L325.9,516.1 L326.9,516.2 L327.9,516.3 L328.9,516.4 L329.9,516.5 L330.9,516.6 L331.9,516.7 L332.9,516.7 L333.9,516.8 L334.9,516.9 L335.9,516.9 L336.9,517.0 L337.9,517.1 L338.9,517.1 L339.9,517.2 L340.9,517.2 L341.9,517.3 L342.9,517.3 L343.9,517.4 L344.9,517.4 L345.9,517.5 L346.9,517.5 L347.9,517.6 L348.9,517.6 L349.9,517.7 L350.9,517.7 L351.9,517.7 L352.9,517.8 L353.9,517.8 L354.9,517.9 L355.9,517.9 L355.9,518.4 L354.9,518.4 L353.9,518.3 L352.9,518.3 L351.9,518.3 L350.9,518.3 L349.9,518.2 L348.9,518.2 L347.9,518.2 L346.9,518.2 L345.9,518.1 L344.9,518.1 L343.9,518.1 L342.9,518.1 L341.9,518.1 L340.9,518.0 L339.9,518.0 L338.9,518.0 L337.9,518.0 L336.9,517.9 L335.9,517.9 L334.9,517.9 L333.9,517.9 L332.9,517.8 L331.9,517.8 L330.9,517.8 L329.9,517.8 L328.9,517.7 L327.9,517.7 L326.9,517.7 L325.9,517.7 L324.9,517.7 L323.9,517.6 L322.9,517.6 L321.9,517.6 L320.9,517.6 L319.9,517.5 L318.9,517.5 L317.9,517.5 L316.9,517.5 L315.9,517.4 L314.9,517.4 L313.9,517.4 L312.9,517.4 L311.9,517.3 L310.9,517.3 L309.9,517.3 L308.9,517.2 L307.9,517.1 L306.9,517.1 L305.9,517.0 L304.9,516.9 L303.9,516.8 L302.9,516.8 L301.9,516.7 L300.9,516.6 L299.9,516.5 L298.9,516.4 L297.9,516.4 L296.9,516.3 L295.9,516.2 L294.9,516.1 L293.9,516.1 L292.9,516.0 L291.9,515.9 L290.9,515.8 L289.9,515.8 L288.9,515.7 L287.9,515.6 L286.9,515.5 L285.9,515.5 L284.9,515.4 L283.9,515.3 L282.9,515.2 L281.9,515.1 L280.9,515.1 L279.9,515.0 L278.9,514.9 L277.9,514.9 L276.9,514.9 L275.9,514.8 L274.9,514.8 L273.9,514.7 L272.9,514.7 L271.9,514.6 L270.9,514.6 L269.9,514.5 L268.9,514.5 L267.9,514.4 L266.9,514.4 L265.9,514.3 L264.9,514.3 L263.9,514.2 L262.9,514.2 L261.9,514.2 L260.9,514.1 L259.9,514.1 L258.9,514.0 L257.9,514.0 L256.9,513.9 L255.9,513.9 L254.9,513.8 L253.9,513.8 L252.9,513.7 L251.9,513.7 L250.9,513.6 L249.9,513.6 L248.9,513.6 L247.9,513.6 L246.9,513.6 L245.9,513.6 L244.9,513.6 L243.9,513.6 L242.9,513.6 L241.9,513.6 L240.9,513.6 L239.9,513.6 L238.9,513.6 L237.9,513.6 L236.9,513.5 L235.9,513.5 L234.9,513.5 L233.9,513.5 L232.9,513.5 L231.9,513.5 L230.9,513.5 L229.9,513.5 L228.9,513.5 L227.9,513.5 L226.9,513.5 L225.9,513.5 L224.9,513.5 L223.9,513.5 L222.9,513.5 L221.9,513.5 L220.9,513.5 L219.9,513.5 L218.9,513.5 L217.9,513.5 L216.9,513.5 L215.9,513.5 L214.9,513.5 L213.9,513.5 L212.9,513.5 L211.9,513.4 L210.9,513.4 L209.9,513.4 L208.9,513.4 L207.9,513.4 L206.9,513.4 L205.9,513.4 L204.9,513.4 L203.9,513.4 L202.9,513.4 L201.9,513.4 L200.9,513.4 L199.9,513.4 L198.9,513.4 L197.9,513.4 L196.9,513.4 L195.9,513.4 L194.9,513.4 L193.9,513.4 L192.9,513.4 L191.9,513.4 L190.9,513.4 L189.9,513.4 L188.9,513.4 L187.9,513.4 L186.9,513.4 L185.9,513.4 L184.9,513.4 L183.9,513.4 L182.9,513.4 L181.9,513.4 L180.9,513.4 L179.9,513.4 L178.9,513.4 L177.9,513.4 L176.9,513.4 L175.9,513.4 L174.9,513.4 L173.9,513.4 L172.9,513.4 L171.9,513.4 L170.9,513.4 L169.9,513.4 L168.9,513.4 L167.9,513.4 L166.9,513.4 L165.9,513.4 L164.9,513.4 L163.9,513.4 L162.9,513.4 L161.9,513.4 L160.9,513.4 L159.9,513.4 L158.9,513.4 L157.9,513.4 L156.9,513.4 L155.9,513.4 L154.9,513.4 L153.9,513.4 L152.9,513.4 L151.9,513.4 L150.9,513.4 L149.9,513.4 L148.9,513.4 L147.9,513.4 L146.9,513.4 L145.9,513.4 L144.9,513.4 L143.9,513.4 L142.9,513.4 L141.9,513.4 L140.9,513.4 L139.9,513.4 L138.9,513.4 L137.9,513.4 L136.9,513.4 L135.9,513.4 L134.9,513.4 L133.9,513.4 L132.9,513.4 L131.9,513.4 L130.9,513.4 L129.9,513.4 L128.9,513.4 L127.9,513.4 L126.9,513.4 L125.9,513.4 L124.9,513.4 L123.9,513.4 L122.9,513.4 L121.9,513.4 L120.9,513.4 L119.9,513.4 L118.9,513.4 L117.9,513.4 L116.9,513.4 L115.9,513.4 L114.9,513.4 L113.9,513.4 L112.9,513.4 L111.9,513.4 L110.9,513.4 L109.9,513.4 L108.9,513.4 L107.9,513.4 L106.9,513.4 L105.9,513.4 L104.9,513.4 L103.9,513.4 L102.9,513.4 L101.9,513.4 L100.9,513.4 L99.9,513.4 L98.9,513.4 L97.9,513.4 L96.9,513.4 L95.9,513.4 L94.9,513.4 L93.9,513.4 L92.9,513.4 L91.9,513.4 L90.9,513.4 L89.9,513.4 L88.9,513.4 L87.9,513.4 L86.9,513.4 L85.9,513.4 L84.9,513.4 L83.9,513.4 L82.9,513.4 L81.9,513.4 L80.9,513.4 L79.9,513.4 L78.9,513.4 L77.9,513.4 L76.9,513.4 L75.9,513.4 L74.9,513.4 L73.9,513.4 L72.9,513.4 L71.9,513.4 L70.9,513.4 L69.9,513.4 L68.9,513.4Z" fill="rgb(234, 126, 126)" fill-opacity="0.7"/>
<path d="M68.9,513.4 L69.9,513.4 L70.9,513.4 L71.9,513.4 L72.9,513.4 L73.9,513.4 L74.9,513.4 L75.9,513.4 L76.9,513.4 L77.9,513.4 L78.9,513.4 L79.9,513.4 L80.9,513.4 L81.9,513.4 L82.9,513.4 L83.9,513.4 L84.9,513.4 L85.9,513.4 L86.9,513.4 L87.9,513.4 L88.9,513.4 L89.9,513.4 L90.9,513.4 L91.9,513.4 L92.9,513.4 L93.9,513.4 L94.9,513.4 L95.9,513.4 L96.9,513.4 L97.9,513.4 L98.9,513.4 L99.9,513.4 L100.9,513.4 L101.9,513.4 L102.9,513.4 L103.9,513.4 L104.9,513.4 L105.9,513.4 L106.9,513.4 L107.9,513.4 L108.9,513.4 L109.9,513.4 L110.9,513.4 L111.9,513.4 L112.9,513.4 L113.9,513.4 L114.9,513.4 L115.9,513.4 L116.9,513.4 L117.9,513.4 L118.9,513.4 L119.9,513.4 L120.9,513.4 L121.9,513.4 L122.9,513.4 L123.9,513.4 L124.9,513.4 L125.9,513.4 L126.9,513.4 L127.9,513.4 L128.9,513.4 L129.9,513.4 L130.9,513.4 L131.9,513.4 L132.9,513.4 L133.9,513.4 L134.9,513.4 L135.9,513.4 L136.9,513.4 L137.9,513.4 L138.9,513.4 L139.9,513.4 L140.9,513.4 L141.9,513.4 L142.9,513.4 L143.9,513.4 L144.9,513.4 L145.9,513.4 L146.9,513.4 L147.9,513.4 L148.9,513.4 L149.9,513.4 L150.9,513.4 L151.9,513.4 L152.9,513.4 L153.9,513.4 L154.9,513.4 L155.9,513.4 L156.9,513.4 L157.9,513.4 L158.9,513.4 L159.9,513.4 L160.9,513.4 L161.9,513.4 L162.9,513.4 L163.9,513.4 L164.9,513.4 L165.9,513.4 L166.9,513.4 L167.9,513.4 L168.9,513.4 L169.9,513.4 L170.9,513.4 L171.9,513.4 L172.9,513.4 L173.9,513.4 L174.9,513.4 L175.9,513.4 L176.9,513.4 L177.9,513.4 L178.9,513.4 L179.9,513.4 L180.9,513.4 L181.9,513.4 L182.9,513.4 L183.9,513.4 L184.9,513.3 L185.9,513.3 L186.9,513.3 L187.9,513.3 L188.9,513.3 L189.9,513.3 L190.9,513.3 L191.9,513.3 L192.9,513.3 L193.9,513.3 L194.9,513.3 L195.9,513.3 L196.9,513.3 L197.9,513.3 L198.9,513.3 L199.9,513.3 L200.9,513.3 L201.9,513.3 L202.9,513.3 L203.9,513.3 L204.9,513.3 L205.9,513.3 L206.9,513.3 L207.9,513.3 L208.9,513.2 L209.9,513.2 L210.9,513.2 L211.9,513.2 L212.9,513.1 L213.9,513.1 L214.9,513.1 L215.9,513.0 L216.9,513.0 L217.9,512.9 L218.9,512.9 L219.9,512.8 L220.9,512.7 L221.9,512.7 L222.9,512.6 L223.9,512.4 L224.9,512.3 L225.9,512.2 L226.9,512.0 L227.9,511.8 L228.9,511.7 L229.9,511.5 L230.9,511.3 L231.9,511.1 L232.9,510.9 L233.9,510.6 L234.9,510.4 L235.9,510.2 L236.9,510.0 L237.9,509.7 L238.9,509.4 L239.9,509.1 L240.9,508.7 L241.9,508.3 L242.9,507.8 L243.9,507.3 L244.9,506.8 L245.9,506.3 L246.9,505.7 L247.9,505.2 L248.9,504.7 L249.9,504.2 L250.9,503.8 L251.9,503.3 L252.9,502.9 L253.9,502.4 L254.9,501.9 L255.9,501.5 L256.9,501.0 L257.9,500.6 L258.9,500.2 L259.9,499.8 L260.9,499.5 L261.9,499.2 L262.9,498.9 L263.9,498.7 L264.9,498.4 L265.9,498.2 L266.9,498.0 L267.9,497.8 L268.9,497.7 L269.9,497.6 L270.9,497.5 L271.9,497.5 L272.9,497.6 L273.9,497.7 L274.9,497.8 L275.9,497.9 L276.9,498.1 L277.9,498.4 L278.9,498.7 L279.9,499.0 L280.9,499.4 L281.9,499.9 L282.9,500.4 L283.9,500.9 L284.9,501.4 L285.9,501.9 L286.9,502.5 L287.9,503.1 L288.9,503.6 L289.9,504.2 L290.9,504.8 L291.9,505.4 L292.9,506.1 L293.9,506.7 L294.9,507.3 L295.9,507.8 L296.9,508.4 L297.9,509.0 L298.9,509.5 L299.9,510.0 L300.9,510.5 L301.9,511.1 L302.9,511.5 L303.9,512.0 L304.9,512.4 L305.9,512.9 L306.9,513.3 L307.9,513.6 L308.9,514.0 L309.9,514.3 L310.9,514.6 L311.9,514.8 L312.9,515.0 L313.9,515.3 L314.9,515.5 L315.9,515.7 L316.9,515.9 L317.9,516.1 L318.9,516.2 L319.9,516.4 L320.9,516.6 L321.9,516.7 L322.9,516.8 L323.9,516.9 L324.9,517.0 L325.9,517.1 L326.9,517.2 L327.9,517.3 L328.9,517.3 L329.9,517.4 L330.9,517.5 L331.9,517.5 L332.9,517.6 L333.9,517.6 L334.9,517.7 L335.9,517.7 L336.9,517.8 L337.9,517.8 L338.9,517.8 L339.9,517.9 L340.9,517.9 L341.9,517.9 L342.9,518.0 L343.9,518.0 L344.9,518.0 L345.9,518.1 L346.9,518.1 L347.9,518.1 L348.9,518.1 L349.9,518.2 L350.9,518.2 L351.9,518.2 L352.9,518.3 L353.9,518.3 L354.9,518.3 L355.9,518.3 L355.9,518.4 L354.9,518.4 L353.9,518.3 L352.9,518.3 L351.9,518.3 L350.9,518.3 L349.9,518.2 L348.9,518.2 L347.9,518.2 L346.9,518.2 L345.9,518.1 L344.9,518.1 L343.9,518.1 L342.9,518.1 L341.9,518.1 L340.9,518.0 L339.9,518.0 L338.9,518.0 L337.9,518.0 L336.9,517.9 L335.9,517.9 L334.9,517.9 L333.9,517.9 L332.9,517.8 L331.9,517.8 L330.9,517.8 L329.9,517.8 L328.9,517.7 L327.9,517.7 L326.9,517.7 L325.9,517.7 L324.9,517.7 L323.9,517.6 L322.9,517.6 L321.9,517.6 L320.9,517.6 L319.9,517.5 L318.9,517.5 L317.9,517.5 L316.9,517.5 L315.9,517.4 L314.9,517.4 L313.9,517.4 L312.9,517.4 L311.9,517.3 L310.9,517.3 L309.9,517.3 L308.9,517.2 L307.9,517.1 L306.9,517.1 L305.9,517.0 L304.9,516.9 L303.9,516.8 L302.9,516.8 L301.9,516.7 L300.9,516.6 L299.9,516.5 L298.9,516.4 L297.9,516.4 L296.9,516.3 L295.9,516.2 L294.9,516.1 L293.9,516.1 L292.9,516.0 L291.9,515.9 L290.9,515.8 L289.9,515.8 L288.9,515.7 L287.9,515.6 L286.9,515.5 L285.9,515.5 L284.9,515.4 L283.9,515.3 L282.9,515.2 L281.9,515.1 L280.9,515.1 L279.9,515.0 L278.9,514.9 L277.9,514.9 L276.9,514.9 L275.9,514.8 L274.9,514.8 L273.9,514.7 L272.9,514.7 L271.9,514.6 L270.9,514.6 L269.9,514.5 L268.9,514.5 L267.9,514.4 L266.9,514.4 L265.9,514.3 L264.9,514.3 L263.9,514.2 L262.9,514.2 L261.9,514.2 L260.9,514.1 L259.9,514.1 L258.9,514.0 L257.9,514.0 L256.9,513.9 L255.9,513.9 L254.9,513.8 L253.9,513.8 L252.9,513.7 L251.9,513.7 L250.9,513.6 L249.9,513.6 L248.9,513.6 L247.9,513.6 L246.9,513.6 L245.9,513.6 L244.9,513.6 L243.9,513.6 L242.9,513.6 L241.9,513.6 L240.9,513.6 L239.9,513.6 L238.9,513.6 L237.9,513.6 L236.9,513.5 L235.9,513.5 L234.9,513.5 L233.9,513.5 L232.9,513.5 L231.9,513.5 L230.9,513.5 L229.9,513.5 L228.9,513.5 L227.9,513.5 L226.9,513.5 L225.9,513.5 L224.9,513.5 L223.9,513.5 L222.9,513.5 L221.9,513.5 L220.9,513.5 L219.9,513.5 L218.9,513.5 L217.9,513.5 L216.9,513.5 L215.9,513.5 L214.9,513.5 L213.9,513.5 L212.9,513.5 L211.9,513.4 L210.9,513.4 L209.9,513.4 L208.9,513.4 L207.9,513.4 L206.9,513.4 L205.9,513.4 L204.9,513.4 L203.9,513.4 L202.9,513.4 L201.9,513.4 L200.9,513.4 L199.9,513.4 L198.9,513.4 L197.9,513.4 L196.9,513.4 L195.9,513.4 L194.9,513.4 L193.9,513.4 L192.9,513.4 L191.9,513.4 L190.9,513.4 L189.9,513.4 L188.9,513.4 L187.9,513.4 L186.9,513.4 L185.9,513.4 L184.9,513.4 L183.9,513.4 L182.9,513.4 L181.9,513.4 L180.9,513.4 L179.9,513.4 L178.9,513.4 L177.9,513.4 L176.9,513.4 L175.9,513.4 L174.9,513.4 L173.9,513.4 L172.9,513.4 L171.9,513.4 L170.9,513.4 L169.9,513.4 L168.9,513.4 L167.9,513.4 L166.9,513.4 L165.9,513.4 L164.9,513.4 L163.9,513.4 L162.9,513.4 L161.9,513.4 L160.9,513.4 L159.9,513.4 L158.9,513.4 L157.9,513.4 L156.9,513.4 L155.9,513.4 L154.9,513.4 L153.9,513.4 L152.9,513.4 L151.9,513.4 L150.9,513.4 L149.9,513.4 L148.9,513.4 L147.9,513.4 L146.9,513.4 L145.9,513.4 L144.9,513.4 L143.9,513.4 L142.9,513.4 L141.9,513.4 L140.9,513.4 L139.9,513.4 L138.9,513.4 L137.9,513.4 L136.9,513.4 L135.9,513.4 L134.9,513.4 L133.9,513.4 L132.9,513.4 L131.9,513.4 L130.9,513.4 L129.9,513.4 L128.9,513.4 L127.9,513.4 L126.9,513.4 L125.9,513.4 L124.9,513.4 L123.9,513.4 L122.9,513.4 L121.9,513.4 L120.9,513.4 L119.9,513.4 L118.9,513.4 L117.9,513.4 L116.9,513.4 L115.9,513.4 L114.9,513.4 L113.9,513.4 L112.9,513.4 L111.9,513.4 L110.9,513.4 L109.9,513.4 L108.9,513.4 L107.9,513.4 L106.9,513.4 L105.9,513.4 L104.9,513.4 L103.9,513.4 L102.9,513.4 L101.9,513.4 L100.9,513.4 L99.9,513.4 L98.9,513.4 L97.9,513.4 L96.9,513.4 L95.9,513.4 L94.9,513.4 L93.9,513.4 L92.9,513.4 L91.9,513.4 L90.9,513.4 L89.9,513.4 L88.9,513.4 L87.9,513.4 L86.9,513.4 L85.9,513.4 L84.9,513.4 L83.9,513.4 L82.9,513.4 L81.9,513.4 L80.9,513.4 L79.9,513.4 L78.9,513.4 L77.9,513.4 L76.9,513.4 L75.9,513.4 L74.9,513.4 L73.9,513.4 L72.9,513.4 L71.9,513.4 L70.9,513.4 L69.9,513.4 L68.9,513.4Z" fill="rgb(234, 134, 26)" fill-opacity="0.7" stroke="rgb(232, 120, 20)" stroke-width="0.9"/>
<path d="M68.9,512.2 L69.9,512.2 L70.9,512.2 L71.9,512.1 L72.9,512.1 L73.9,512.1 L74.9,512.1 L75.9,512.0 L76.9,512.0 L77.9,512.0 L78.9,512.0 L79.9,512.0 L80.9,511.9 L81.9,511.9 L82.9,511.9 L83.9,511.9 L84.9,511.8 L85.9,511.8 L86.9,511.8 L87.9,511.8 L88.9,511.7 L89.9,511.7 L90.9,511.7 L91.9,511.7 L92.9,511.6 L93.9,511.6 L94.9,511.6 L95.9,511.5 L96.9,511.5 L97.9,511.5 L98.9,511.5 L99.9,511.4 L100.9,511.4 L101.9,511.4 L102.9,511.4 L103.9,511.3 L104.9,511.3 L105.9,511.3 L106.9,511.2 L107.9,511.2 L108.9,511.2 L109.9,511.2 L110.9,511.1 L111.9,511.1 L112.9,511.1 L113.9,511.0 L114.9,511.0 L115.9,511.0 L116.9,511.0 L117.9,510.9 L118.9,510.9 L119.9,510.9 L120.9,510.8 L121.9,510.8 L122.9,510.8 L123.9,510.8 L124.9,510.7 L125.9,510.7 L126.9,510.7 L127.9,510.7 L128.9,510.6 L129.9,510.6 L130.9,510.6 L131.9,510.5 L132.9,510.5 L133.9,510.5 L134.9,510.5 L135.9,510.4 L136.9,510.4 L137.9,510.4 L138.9,510.4 L139.9,510.3 L140.9,510.3 L141.9,510.3 L142.9,510.3 L143.9,510.2 L144.9,510.2 L145.9,510.2 L146.9,510.2 L147.9,510.2 L148.9,510.2 L149.9,510.1 L150.9,510.1 L151.9,510.1 L152.9,510.1 L153.9,510.1 L154.9,510.1 L155.9,510.1 L156.9,510.1 L157.9,510.1 L158.9,510.1 L159.9,510.0 L160.9,510.0 L161.9,510.0 L162.9,510.0 L163.9,510.0 L164.9,510.0 L165.9,510.0 L166.9,510.0 L167.9,510.0 L168.9,510.0 L169.9,510.0 L170.9,510.0 L171.9,510.0 L172.9,510.0 L173.9,510.0 L174.9,510.0 L175.9,510.0 L176.9,510.1 L177.9,510.1 L178.9,510.1 L179.9,510.1 L180.9,510.1 L181.9,510.1 L182.9,510.1 L183.9,510.1 L184.9,510.2 L185.9,510.2 L186.9,510.2 L187.9,510.2 L188.9,510.2 L189.9,510.2 L190.9,510.3 L191.9,510.3 L192.9,510.3 L193.9,510.3 L194.9,510.3 L195.9,510.4 L196.9,510.4 L197.9,510.4 L198.9,510.4 L199.9,510.5 L200.9,510.5 L201.9,510.5 L202.9,510.5 L203.9,510.6 L204.9,510.6 L205.9,510.6 L206.9,510.7 L207.9,510.7 L208.9,510.7 L209.9,510.8 L210.9,510.8 L211.9,510.8 L212.9,510.9 L213.9,510.9 L214.9,510.9 L215.9,511.0 L216.9,511.0 L217.9,511.1 L218.9,511.1 L219.9,511.1 L220.9,511.1 L221.9,511.2 L222.9,511.2 L223.9,511.2 L224.9,511.3 L225.9,511.3 L226.9,511.3 L227.9,511.3 L228.9,511.4 L229.9,511.4 L230.9,511.4 L231.9,511.5 L232.9,511.5 L233.9,511.5 L234.9,511.6 L235.9,511.6 L236.9,511.6 L237.9,511.6 L238.9,511.7 L239.9,511.7 L240.9,511.7 L241.9,511.8 L242.9,511.8 L243.9,511.8 L244.9,511.9 L245.9,511.9 L246.9,511.9 L247.9,512.0 L248.9,512.0 L249.9,512.0 L250.9,512.1 L251.9,512.2 L252.9,512.2 L253.9,512.3 L254.9,512.4 L255.9,512.4 L256.9,512.5 L257.9,512.6 L258.9,512.6 L259.9,512.7 L260.9,512.8 L261.9,512.9 L262.9,512.9 L263.9,513.0 L264.9,513.1 L265.9,513.1 L266.9,513.2 L267.9,513.3 L268.9,513.3 L269.9,513.4 L270.9,513.5 L271.9,513.5 L272.9,513.6 L273.9,513.7 L274.9,513.7 L275.9,513.8 L276.9,513.8 L277.9,513.9 L278.9,514.0 L279.9,514.0 L280.9,514.1 L281.9,514.2 L282.9,514.3 L283.9,514.4 L284.9,514.5 L285.9,514.6 L286.9,514.7 L287.9,514.8 L288.9,514.9 L289.9,515.0 L290.9,515.0 L291.9,515.1 L292.9,515.2 L293.9,515.3 L294.9,515.4 L295.9,515.5 L296.9,515.6 L297.9,515.7 L298.9,515.8 L299.9,515.8 L300.9,515.9 L301.9,516.0 L302.9,516.1 L303.9,516.2 L304.9,516.3 L305.9,516.4 L306.9,516.5 L307.9,516.5 L308.9,516.6 L309.9,516.7 L310.9,516.8 L311.9,516.8 L312.9,516.8 L313.9,516.8 L314.9,516.8 L315.9,516.8 L316.9,516.9 L317.9,516.9 L318.9,516.9 L319.9,516.9 L320.9,517.0 L321.9,517.0 L322.9,517.0 L323.9,517.1 L324.9,517.1 L325.9,517.2 L326.9,517.2 L327.9,517.3 L328.9,517.3 L329.9,517.4 L330.9,517.4 L331.9,517.4 L332.9,517.4 L333.9,517.5 L334.9,517.5 L335.9,517.5 L336.9,517.6 L337.9,517.6 L338.9,517.6 L339.9,517.6 L340.9,517.7 L341.9,517.7 L342.9,517.7 L343.9,517.8 L344.9,517.8 L345.9,517.8 L346.9,517.8 L347.9,517.9 L348.9,517.9 L349.9,517.9 L350.9,518.0 L351.9,518.0 L352.9,518.0 L353.9,518.0 L354.9,518.1 L355.9,518.1 L355.9,518.4 L354.9,518.4 L353.9,518.3 L352.9,518.3 L351.9,518.3 L350.9,518.3 L349.9,518.2 L348.9,518.2 L347.9,518.2 L346.9,518.2 L345.9,518.1 L344.9,518.1 L343.9,518.1 L342.9,518.1 L341.9,518.1 L340.9,518.0 L339.9,518.0 L338.9,518.0 L337.9,518.0 L336.9,517.9 L335.9,517.9 L334.9,517.9 L333.9,517.9 L332.9,517.8 L331.9,517.8 L330.9,517.8 L329.9,517.8 L328.9,517.7 L327.9,517.7 L326.9,517.7 L325.9,517.7 L324.9,517.7 L323.9,517.6 L322.9,517.6 L321.9,517.6 L320.9,517.6 L319.9,517.5 L318.9,517.5 L317.9,517.5 L316.9,517.5 L315.9,517.4 L314.9,517.4 L313.9,517.4 L312.9,517.4 L311.9,517.3 L310.9,517.3 L309.9,517.3 L308.9,517.2 L307.9,517.1 L306.9,517.1 L305.9,517.0 L304.9,516.9 L303.9,516.8 L302.9,516.8 L301.9,516.7 L300.9,516.6 L299.9,516.5 L298.9,516.4 L297.9,516.4 L296.9,516.3 L295.9,516.2 L294.9,516.1 L293.9,516.1 L292.9,516.0 L291.9,515.9 L290.9,515.8 L289.9,515.8 L288.9,515.7 L287.9,515.6 L286.9,515.5 L285.9,515.5 L284.9,515.4 L283.9,515.3 L282.9,515.2 L281.9,515.1 L280.9,515.1 L279.9,515.0 L278.9,514.9 L277.9,514.9 L276.9,514.9 L275.9,514.8 L274.9,514.8 L273.9,514.7 L272.9,514.7 L271.9,514.6 L270.9,514.6 L269.9,514.5 L268.9,514.5 L267.9,514.4 L266.9,514.4 L265.9,514.3 L264.9,514.3 L263.9,514.2 L262.9,514.2 L261.9,514.2 L260.9,514.1 L259.9,514.1 L258.9,514.0 L257.9,514.0 L256.9,513.9 L255.9,513.9 L254.9,513.8 L253.9,513.8 L252.9,513.7 L251.9,513.7 L250.9,513.6 L249.9,513.6 L248.9,513.6 L247.9,513.6 L246.9,513.6 L245.9,513.6 L244.9,513.6 L243.9,513.6 L242.9,513.6 L241.9,513.6 L240.9,513.6 L239.9,513.6 L238.9,513.6 L237.9,513.6 L236.9,513.5 L235.9,513.5 L234.9,513.5 L233.9,513.5 L232.9,513.5 L231.9,513.5 L230.9,513.5 L229.9,513.5 L228.9,513.5 L227.9,513.5 L226.9,513.5 L225.9,513.5 L224.9,513.5 L223.9,513.5 L222.9,513.5 L221.9,513.5 L220.9,513.5 L219.9,513.5 L218.9,513.5 L217.9,513.5 L216.9,513.5 L215.9,513.5 L214.9,513.5 L213.9,513.5 L212.9,513.5 L211.9,513.4 L210.9,513.4 L209.9,513.4 L208.9,513.4 L207.9,513.4 L206.9,513.4 L205.9,513.4 L204.9,513.4 L203.9,513.4 L202.9,513.4 L201.9,513.4 L200.9,513.4 L199.9,513.4 L198.9,513.4 L197.9,513.4 L196.9,513.4 L195.9,513.4 L194.9,513.4 L193.9,513.4 L192.9,513.4 L191.9,513.4 L190.9,513.4 L189.9,513.4 L188.9,513.4 L187.9,513.4 L186.9,513.4 L185.9,513.4 L184.9,513.4 L183.9,513.4 L182.9,513.4 L181.9,513.4 L180.9,513.4 L179.9,513.4 L178.9,513.4 L177.9,513.4 L176.9,513.4 L175.9,513.4 L174.9,513.4 L173.9,513.4 L172.9,513.4 L171.9,513.4 L170.9,513.4 L169.9,513.4 L168.9,513.4 L167.9,513.4 L166.9,513.4 L165.9,513.4 L164.9,513.4 L163.9,513.4 L162.9,513.4 L161.9,513.4 L160.9,513.4 L159.9,513.4 L158.9,513.4 L157.9,513.4 L156.9,513.4 L155.9,513.4 L154.9,513.4 L153.9,513.4 L152.9,513.4 L151.9,513.4 L150.9,513.4 L149.9,513.4 L148.9,513.4 L147.9,513.4 L146.9,513.4 L145.9,513.4 L144.9,513.4 L143.9,513.4 L142.9,513.4 L141.9,513.4 L140.9,513.4 L139.9,513.4 L138.9,513.4 L137.9,513.4 L136.9,513.4 L135.9,513.4 L134.9,513.4 L133.9,513.4 L132.9,513.4 L131.9,513.4 L130.9,513.4 L129.9,513.4 L128.9,513.4 L127.9,513.4 L126.9,513.4 L125.9,513.4 L124.9,513.4 L123.9,513.4 L122.9,513.4 L121.9,513.4 L120.9,513.4 L119.9,513.4 L118.9,513.4 L117.9,513.4 L116.9,513.4 L115.9,513.4 L114.9,513.4 L113.9,513.4 L112.9,513.4 L111.9,513.4 L110.9,513.4 L109.9,513.4 L108.9,513.4 L107.9,513.4 L106.9,513.4 L105.9,513.4 L104.9,513.4 L103.9,513.4 L102.9,513.4 L101.9,513.4 L100.9,513.4 L99.9,513.4 L98.9,513.4 L97.9,513.4 L96.9,513.4 L95.9,513.4 L94.9,513.4 L93.9,513.4 L92.9,513.4 L91.9,513.4 L90.9,513.4 L89.9,513.4 L88.9,513.4 L87.9,513.4 L86.9,513.4 L85.9,513.4 L84.9,513.4 L83.9,513.4 L82.9,513.4 L81.9,513.4 L80.9,513.4 L79.9,513.4 L78.9,513.4 L77.9,513.4 L76.9,513.4 L75.9,513.4 L74.9,513.4 L73.9,513.4 L72.9,513.4 L71.9,513.4 L70.9,513.4 L69.9,513.4 L68.9,513.4Z" fill="rgb(125, 188, 138)" fill-opacity="1.0"/>
<path d="M68.9,513.4 L69.9,513.4 L70.9,513.4 L71.9,513.4 L72.9,513.4 L73.9,513.4 L74.9,513.4 L75.9,513.4 L76.9,513.4 L77.9,513.4 L78.9,513.4 L79.9,513.4 L80.9,513.4 L81.9,513.4 L82.9,513.4 L83.9,513.4 L84.9,513.4 L85.9,513.4 L86.9,513.4 L87.9,513.4 L88.9,513.4 L89.9,513.4 L90.9,513.4 L91.9,513.4 L92.9,513.4 L93.9,513.4 L94.9,513.4 L95.9,513.4 L96.9,513.4 L97.9,513.4 L98.9,513.4 L99.9,513.4 L100.9,513.4 L101.9,513.4 L102.9,513.4 L103.9,513.4 L104.9,513.4 L105.9,513.4 L106.9,513.4 L107.9,513.4 L108.9,513.4 L109.9,513.4 L110.9,513.4 L111.9,513.4 L112.9,513.4 L113.9,513.4 L114.9,513.4 L115.9,513.4 L116.9,513.4 L117.9,513.4 L118.9,513.4 L119.9,513.4 L120.9,513.4 L121.9,513.4 L122.9,513.4 L123.9,513.4 L124.9,513.4 L125.9,513.4 L126.9,513.4 L127.9,513.4 L128.9,513.4 L129.9,513.4 L130.9,513.4 L131.9,513.4 L132.9,513.4 L133.9,513.4 L134.9,513.4 L135.9,513.4 L136.9,513.4 L137.9,513.4 L138.9,513.4 L139.9,513.4 L140.9,513.4 L141.9,513.4 L142.9,513.4 L143.9,513.4 L144.9,513.4 L145.9,513.4 L146.9,513.4 L147.9,513.4 L148.9,513.4 L149.9,513.4 L150.9,513.4 L151.9,513.4 L152.9,513.4 L153.9,513.4 L154.9,513.4 L155.9,513.4 L156.9,513.4 L157.9,513.4 L158.9,513.4 L159.9,513.4 L160.9,513.4 L161.9,513.4 L162.9,513.4 L163.9,513.4 L164.9,513.4 L165.9,513.4 L166.9,513.4 L167.9,513.4 L168.9,513.4 L169.9,513.4 L170.9,513.4 L171.9,513.4 L172.9,513.4 L173.9,513.4 L174.9,513.4 L175.9,513.4 L176.9,513.4 L177.9,513.4 L178.9,513.4 L179.9,513.4 L180.9,513.4 L181.9,513.4 L182.9,513.4 L183.9,513.4 L184.9,513.4 L185.9,513.4 L186.9,513.4 L187.9,513.4 L188.9,513.4 L189.9,513.4 L190.9,513.4 L191.9,513.4 L192.9,513.4 L193.9,513.4 L194.9,513.4 L195.9,513.4 L196.9,513.4 L197.9,513.4 L198.9,513.4 L199.9,513.4 L200.9,513.4 L201.9,513.4 L202.9,513.4 L203.9,513.4 L204.9,513.4 L205.9,513.4 L206.9,513.4 L207.9,513.4 L208.9,513.4 L209.9,513.4 L210.9,513.4 L211.9,513.4 L212.9,513.5 L213.9,513.5 L214.9,513.5 L215.9,513.5 L216.9,513.5 L217.9,513.5 L218.9,513.5 L219.9,513.5 L220.9,513.5 L221.9,513.5 L222.9,513.5 L223.9,513.5 L224.9,513.5 L225.9,513.5 L226.9,513.5 L227.9,513.5 L228.9,513.5 L229.9,513.5 L230.9,513.5 L231.9,513.5 L232.9,513.5 L233.9,513.5 L234.9,513.5 L235.9,513.5 L236.9,513.5 L237.9,513.6 L238.9,513.6 L239.9,513.6 L240.9,513.6 L241.9,513.6 L242.9,513.6 L243.9,513.6 L244.9,513.6 L245.9,513.6 L246.9,513.6 L247.9,513.6 L248.9,513.6 L249.9,513.6 L250.9,513.6 L251.9,513.7 L252.9,513.7 L253.9,513.8 L254.9,513.8 L255.9,513.9 L256.9,513.9 L257.9,514.0 L258.9,514.0 L259.9,514.1 L260.9,514.1 L261.9,514.2 L262.9,514.2 L263.9,514.2 L264.9,514.3 L265.9,514.3 L266.9,514.4 L267.9,514.4 L268.9,514.5 L269.9,514.5 L270.9,514.6 L271.9,514.6 L272.9,514.7 L273.9,514.7 L274.9,514.8 L275.9,514.8 L276.9,514.9 L277.9,514.9 L278.9,514.9 L279.9,515.0 L280.9,515.1 L281.9,515.1 L282.9,515.2 L283.9,515.3 L284.9,515.4 L285.9,515.5 L286.9,515.5 L287.9,515.6 L288.9,515.7 L289.9,515.8 L290.9,515.8 L291.9,515.9 L292.9,516.0 L293.9,516.1 L294.9,516.1 L295.9,516.2 L296.9,516.3 L297.9,516.4 L298.9,516.4 L299.9,516.5 L300.9,516.6 L301.9,516.7 L302.9,516.8 L303.9,516.8 L304.9,516.9 L305.9,517.0 L306.9,517.1 L307.9,517.1 L308.9,517.2 L309.9,517.3 L310.9,517.3 L311.9,517.3 L312.9,517.4 L313.9,517.4 L314.9,517.4 L315.9,517.4 L316.9,517.5 L317.9,517.5 L318.9,517.5 L319.9,517.5 L320.9,517.6 L321.9,517.6 L322.9,517.6 L323.9,517.6 L324.9,517.7 L325.9,517.7 L326.9,517.7 L327.9,517.7 L328.9,517.7 L329.9,517.8 L330.9,517.8 L331.9,517.8 L332.9,517.8 L333.9,517.9 L334.9,517.9 L335.9,517.9 L336.9,517.9 L337.9,518.0 L338.9,518.0 L339.9,518.0 L340.9,518.0 L341.9,518.1 L342.9,518.1 L343.9,518.1 L344.9,518.1 L345.9,518.1 L346.9,518.2 L347.9,518.2 L348.9,518.2 L349.9,518.2 L350.9,518.3 L351.9,518.3 L352.9,518.3 L353.9,518.3 L354.9,518.4 L355.9,518.4 L355.9,519.9 L354.9,519.9 L353.9,519.9 L352.9,519.9 L351.9,519.8 L350.9,519.8 L349.9,519.8 L348.9,519.7 L347.9,519.7 L346.9,519.7 L345.9,519.6 L344.9,519.6 L343.9,519.6 L342.9,519.6 L341.9,519.5 L340.9,519.5 L339.9,519.5 L338.9,519.4 L337.9,519.4 L336.9,519.4 L335.9,519.4 L334.9,519.3 L333.9,519.3 L332.9,519.3 L331.9,519.2 L330.9,519.2 L329.9,519.2 L328.9,519.2 L327.9,519.1 L326.9,519.1 L325.9,519.1 L324.9,519.0 L323.9,519.0 L322.9,519.0 L321.9,519.0 L320.9,518.9 L319.9,518.9 L318.9,518.9 L317.9,518.9 L316.9,518.9 L315.9,518.9 L314.9,518.8 L313.9,518.8 L312.9,518.8 L311.9,518.8 L310.9,518.8 L309.9,518.8 L308.9,518.8 L307.9,518.8 L306.9,518.7 L305.9,518.7 L304.9,518.7 L303.9,518.7 L302.9,518.7 L301.9,518.7 L300.9,518.7 L299.9,518.7 L298.9,518.6 L297.9,518.6 L296.9,518.6 L295.9,518.6 L294.9,518.6 L293.9,518.6 L292.9,518.6 L291.9,518.6 L290.9,518.5 L289.9,518.5 L288.9,518.5 L287.9,518.5 L286.9,518.5 L285.9,518.5 L284.9,518.5 L283.9,518.5 L282.9,518.4 L281.9,518.4 L280.9,518.4 L279.9,518.4 L278.9,518.4 L277.9,518.4 L276.9,518.4 L275.9,518.4 L274.9,518.4 L273.9,518.3 L272.9,518.3 L271.9,518.3 L270.9,518.3 L269.9,518.3 L268.9,518.3 L267.9,518.3 L266.9,518.3 L265.9,518.2 L264.9,518.2 L263.9,518.2 L262.9,518.2 L261.9,518.2 L260.9,518.2 L259.9,518.2 L258.9,518.2 L257.9,518.1 L256.9,518.1 L255.9,518.1 L254.9,518.1 L253.9,518.1 L252.9,518.1 L251.9,518.1 L250.9,518.1 L249.9,518.0 L248.9,518.0 L247.9,518.0 L246.9,518.0 L245.9,518.0 L244.9,518.0 L243.9,518.0 L242.9,517.9 L241.9,517.9 L240.9,517.9 L239.9,517.9 L238.9,517.9 L237.9,517.8 L236.9,517.8 L235.9,517.8 L234.9,517.8 L233.9,517.8 L232.9,517.8 L231.9,517.7 L230.9,517.7 L229.9,517.7 L228.9,517.7 L227.9,517.7 L226.9,517.6 L225.9,517.6 L224.9,517.6 L223.9,517.6 L222.9,517.6 L221.9,517.5 L220.9,517.5 L219.9,517.5 L218.9,517.5 L217.9,517.5 L216.9,517.4 L215.9,517.4 L214.9,517.4 L213.9,517.4 L212.9,517.4 L211.9,517.4 L210.9,517.3 L209.9,517.3 L208.9,517.3 L207.9,517.3 L206.9,517.3 L205.9,517.2 L204.9,517.2 L203.9,517.2 L202.9,517.2 L201.9,517.2 L200.9,517.1 L199.9,517.1 L198.9,517.1 L197.9,517.1 L196.9,517.1 L195.9,517.0 L194.9,517.0 L193.9,517.0 L192.9,517.0 L191.9,517.0 L190.9,517.0 L189.9,516.9 L188.9,516.9 L187.9,516.9 L186.9,516.9 L185.9,516.9 L184.9,516.8 L183.9,516.8 L182.9,516.8 L181.9,516.8 L180.9,516.8 L179.9,516.7 L178.9,516.7 L177.9,516.7 L176.9,516.7 L175.9,516.7 L174.9,516.6 L173.9,516.6 L172.9,516.6 L171.9,516.6 L170.9,516.6 L169.9,516.6 L168.9,516.5 L167.9,516.5 L166.9,516.5 L165.9,516.5 L164.9,516.5 L163.9,516.4 L162.9,516.4 L161.9,516.4 L160.9,516.4 L159.9,516.4 L158.9,516.3 L157.9,516.3 L156.9,516.3 L155.9,516.3 L154.9,516.3 L153.9,516.3 L152.9,516.2 L151.9,516.2 L150.9,516.2 L149.9,516.2 L148.9,516.2 L147.9,516.1 L146.9,516.1 L145.9,516.1 L144.9,516.1 L143.9,516.1 L142.9,516.1 L141.9,516.1 L140.9,516.1 L139.9,516.1 L138.9,516.0 L137.9,516.0 L136.9,516.0 L135.9,516.0 L134.9,516.0 L133.9,516.0 L132.9,516.0 L131.9,516.0 L130.9,516.0 L129.9,516.0 L128.9,516.0 L127.9,516.0 L126.9,515.9 L125.9,515.9 L124.9,515.9 L123.9,515.9 L122.9,515.9 L121.9,515.9 L120.9,515.9 L119.9,515.9 L118.9,515.9 L117.9,515.9 L116.9,515.9 L115.9,515.9 L114.9,515.8 L113.9,515.8 L112.9,515.8 L111.9,515.8 L110.9,515.8 L109.9,515.8 L108.9,515.8 L107.9,515.8 L106.9,515.8 L105.9,515.8 L104.9,515.8 L103.9,515.8 L102.9,515.7 L101.9,515.7 L100.9,515.7 L99.9,515.7 L98.9,515.7 L97.9,515.7 L96.9,515.7 L95.9,515.7 L94.9,515.7 L93.9,515.7 L92.9,515.7 L91.9,515.7 L90.9,515.7 L89.9,515.6 L88.9,515.6 L87.9,515.6 L86.9,515.6 L85.9,515.6 L84.9,515.6 L83.9,515.6 L82.9,515.6 L81.9,515.6 L80.9,515.6 L79.9,515.6 L78.9,515.6 L77.9,515.5 L76.9,515.5 L75.9,515.5 L74.9,515.5 L73.9,515.5 L72.9,515.5 L71.9,515.5 L70.9,515.5 L69.9,515.5 L68.9,515.5Z" fill="rgb(139, 166, 90)" fill-opacity="1.0"/>
</g>
<text x="238.01" y="389.7" font-size="14" textLength="25.58" lengthAdjust="spacingAndGlyphs">C-C</text>
<line x1="259.3" y1="394.3" x2="285.3" y2="430.3" stroke="#000" stroke-width="1.3"/>
<text x="204.93" y="465.9" font-size="13.4" textLength="25.66" lengthAdjust="spacingAndGlyphs">C-O</text>
<line x1="224.5" y1="470.8" x2="249.8" y2="506.3" stroke="#000" stroke-width="1.3"/>
<text x="109.91" y="484.1" font-size="14.8" textLength="46" lengthAdjust="spacingAndGlyphs">O-C=O</text>
<line x1="140.4" y1="486.3" x2="152.9" y2="511.8" stroke="#000" stroke-width="1.3"/>
<line x1="84.6" y1="543.9" x2="84.6" y2="549.7" stroke="#000" stroke-width="2.2"/>
<line x1="117.31" y1="543.9" x2="117.31" y2="547.5" stroke="#000" stroke-width="2.2"/>
<line x1="150.03" y1="543.9" x2="150.03" y2="549.7" stroke="#000" stroke-width="2.2"/>
<line x1="182.74" y1="543.9" x2="182.74" y2="547.5" stroke="#000" stroke-width="2.2"/>
<line x1="215.45" y1="543.9" x2="215.45" y2="549.7" stroke="#000" stroke-width="2.2"/>
<line x1="248.16" y1="543.9" x2="248.16" y2="547.5" stroke="#000" stroke-width="2.2"/>
<line x1="280.88" y1="543.9" x2="280.88" y2="549.7" stroke="#000" stroke-width="2.2"/>
<line x1="313.59" y1="543.9" x2="313.59" y2="547.5" stroke="#000" stroke-width="2.2"/>
<line x1="346.3" y1="543.9" x2="346.3" y2="549.7" stroke="#000" stroke-width="2.2"/>
<rect x="67.9" y="329.5" width="289.1" height="214.4" fill="none" stroke="#000" stroke-width="2.4"/>
<text x="70.92" y="567.7" font-size="19.7" textLength="28.07" lengthAdjust="spacingAndGlyphs">294</text>
<text x="135.61" y="567.7" font-size="19.7" textLength="28.07" lengthAdjust="spacingAndGlyphs">291</text>
<text x="201.23" y="567.7" font-size="19.7" textLength="28.07" lengthAdjust="spacingAndGlyphs">288</text>
<text x="266.41" y="567.7" font-size="19.7" textLength="28.07" lengthAdjust="spacingAndGlyphs">285</text>
<text x="332.91" y="567.7" font-size="19.7" textLength="28.07" lengthAdjust="spacingAndGlyphs">282</text>
<text x="113.6" y="595.9" font-size="23.7" textLength="197.94" lengthAdjust="spacingAndGlyphs">Binding Energy (eV)</text>
<text x="81.3" y="368.6" font-size="36.8" textLength="46.2" lengthAdjust="spacingAndGlyphs">(d)</text>
<text x="308.27" y="352.6" font-size="20.4" textLength="37.77" lengthAdjust="spacingAndGlyphs">C 1s</text>
<text transform="translate(54.6,513.35) rotate(-90)" x="0" y="0" font-size="24" textLength="146.42" lengthAdjust="spacingAndGlyphs">Intensity (a.u.)</text>
</g>
<g id="pe">
<clipPath id="clipe"><rect x="411.5" y="329.6" width="290.0" height="214.6"/></clipPath>
<g clip-path="url(#clipe)">
<path d="M412.5,515.2 L413.5,523.6 L414.5,524.8 L415.5,526.0 L416.5,527.2 L417.5,528.4 L418.5,528.3 L419.5,525.1 L420.5,521.8 L421.5,518.6 L422.5,516.3 L423.5,517.8 L424.5,519.3 L425.5,520.8 L426.5,522.1 L427.5,521.7 L428.5,521.3 L429.5,521.0 L430.5,520.6 L431.5,521.3 L432.5,522.1 L433.5,522.8 L434.5,523.6 L435.5,524.3 L436.5,525.1 L437.5,523.5 L438.5,521.4 L439.5,519.3 L440.5,517.1 L441.5,516.5 L442.5,516.5 L443.5,516.5 L444.5,515.9 L445.5,515.0 L446.5,514.1 L447.5,513.2 L448.5,512.3 L449.5,511.4 L450.5,511.3 L451.5,512.7 L452.5,514.1 L453.5,514.7 L454.5,514.4 L455.5,514.0 L456.5,513.6 L457.5,513.2 L458.5,512.8 L459.5,512.2 L460.5,511.6 L461.5,511.0 L462.5,510.4 L463.5,509.8 L464.5,509.4 L465.5,510.5 L466.5,511.6 L467.5,512.6 L468.5,513.7 L469.5,514.8 L470.5,514.3 L471.5,513.6 L472.5,513.0 L473.5,512.3 L474.5,511.6 L475.5,510.9 L476.5,511.2 L477.5,511.7 L478.5,512.2 L479.5,512.7 L480.5,513.2 L481.5,513.7 L482.5,513.5 L483.5,512.9 L484.5,512.3 L485.5,511.7 L486.5,511.0 L487.5,510.4 L488.5,509.8 L489.5,509.2 L490.5,509.0 L491.5,509.5 L492.5,510.0 L493.5,510.4 L494.5,510.9 L495.5,511.4 L496.5,511.6 L497.5,510.9 L498.5,510.1 L499.5,509.4 L500.5,508.6 L501.5,507.9 L502.5,507.2 L503.5,507.8 L504.5,508.2 L505.5,508.8 L506.5,509.2 L507.5,509.8 L508.5,508.7 L509.5,507.4 L510.5,506.2 L511.5,504.9 L512.5,505.2 L513.5,505.8 L514.5,506.3 L515.5,506.9 L516.5,507.5 L517.5,506.8 L518.5,505.5 L519.5,504.2 L520.5,506.6 L521.5,505.5 L522.5,504.6 L523.5,503.9 L524.5,503.2 L525.5,502.5 L526.5,502.0 L527.5,502.1 L528.5,502.2 L529.5,501.4 L530.5,499.6 L531.5,496.9 L532.5,493.3 L533.5,489.6 L534.5,487.4 L535.5,486.6 L536.5,486.1 L537.5,484.9 L538.5,482.9 L539.5,480.7 L540.5,478.5 L541.5,476.4 L542.5,474.0 L543.5,471.0 L544.5,467.4 L545.5,463.6 L546.5,460.0 L547.5,457.2 L548.5,454.7 L549.5,452.0 L550.5,448.7 L551.5,444.5 L552.5,439.8 L553.5,434.6 L554.5,428.9 L555.5,423.6 L556.5,419.6 L557.5,416.9 L558.5,414.3 L559.5,404.0 L560.5,402.0 L561.5,399.9 L562.5,397.7 L563.5,395.2 L564.5,392.7 L565.5,390.2 L566.5,387.7 L567.5,385.2 L568.5,382.8 L569.5,381.7 L570.5,380.6 L571.5,379.5 L572.5,378.4 L573.5,377.2 L574.5,376.1 L575.5,376.2 L576.5,376.7 L577.5,377.2 L578.5,377.7 L579.5,378.2 L580.5,378.7 L581.5,378.5 L582.5,377.2 L583.5,375.9 L584.5,374.0 L585.5,370.7 L586.5,367.4 L587.5,364.1 L588.5,360.8 L589.5,359.0 L590.5,358.7 L591.5,358.3 L592.5,358.0 L593.5,357.7 L594.5,358.1 L595.5,358.8 L596.5,359.5 L597.5,360.1 L598.5,360.8 L599.5,359.3 L600.5,357.8 L601.5,356.3 L602.5,356.5 L603.5,357.0 L604.5,357.5 L605.5,360.1 L606.5,363.7 L607.5,367.3 L608.5,370.2 L609.5,372.6 L610.5,375.1 L611.5,377.8 L612.5,380.7 L613.5,385.0 L614.5,389.6 L615.5,394.2 L616.5,400.7 L617.5,405.1 L618.5,409.5 L619.5,413.8 L620.5,418.0 L621.5,422.4 L622.5,426.9 L623.5,431.2 L624.5,434.6 L625.5,437.5 L626.5,440.5 L627.5,444.2 L628.5,448.4 L629.5,452.7 L630.5,456.7 L631.5,459.6 L632.5,461.8 L633.5,464.3 L634.5,468.1 L635.5,472.6 L636.5,476.8 L637.5,478.5 L638.5,480.2 L639.5,481.9 L640.5,483.7 L641.5,485.7 L642.5,487.8 L643.5,489.8 L644.5,491.3 L645.5,492.7 L646.5,494.1 L647.5,495.5 L648.5,496.9 L649.5,498.3 L650.5,499.6 L651.5,500.7 L652.5,501.9 L653.5,503.1 L654.5,504.2 L655.5,505.4 L656.5,506.4 L657.5,506.8 L658.5,507.2 L659.5,507.7 L660.5,508.1 L661.5,508.5 L662.5,508.9 L663.5,509.4 L664.5,509.8 L665.5,510.2 L666.5,510.6 L667.5,511.1 L668.5,511.5 L669.5,512.9 L670.5,515.4 L671.5,517.8 L672.5,520.3 L673.5,521.6 L674.5,522.6 L675.5,523.7 L676.5,524.7 L677.5,525.7 L678.5,525.8 L679.5,524.4 L680.5,523.1 L681.5,521.8 L682.5,520.5 L683.5,519.1 L684.5,519.9 L685.5,520.9 L686.5,522.0 L687.5,523.0 L688.5,524.0 L689.5,524.2 L690.5,523.5 L691.5,522.8 L692.5,522.1 L693.5,521.5 L694.5,520.8 L695.5,521.8 L696.5,522.8 L697.5,523.9 L698.5,524.9 L699.5,525.9 L700.5,518.3" fill="none" stroke="#000" stroke-width="2.4" stroke-linejoin="round"/>
<path d="M452.5,516.4 L453.5,516.4 L454.5,516.4 L455.5,516.3 L456.5,516.3 L457.5,516.2 L458.5,516.1 L459.5,516.1 L460.5,516.0 L461.5,515.9 L462.5,515.8 L463.5,515.7 L464.5,515.7 L465.5,515.6 L466.5,515.6 L467.5,515.5 L468.5,515.5 L469.5,515.4 L470.5,515.4 L471.5,515.3 L472.5,515.3 L473.5,515.2 L474.5,515.2 L475.5,515.2 L476.5,515.1 L477.5,515.1 L478.5,515.1 L479.5,515.0 L480.5,514.9 L481.5,514.9 L482.5,514.8 L483.5,514.7 L484.5,514.6 L485.5,514.5 L486.5,514.4 L487.5,514.3 L488.5,514.1 L489.5,514.0 L490.5,513.9 L491.5,513.8 L492.5,513.8 L493.5,513.7 L494.5,513.7 L495.5,513.7 L496.5,513.6 L497.5,513.6 L498.5,513.4 L499.5,513.3 L500.5,513.2 L501.5,513.0 L502.5,512.8 L503.5,512.6 L504.5,512.3 L505.5,512.0 L506.5,511.7 L507.5,511.5 L508.5,511.2 L509.5,511.0 L510.5,510.8 L511.5,510.6 L512.5,510.3 L513.5,510.0 L514.5,509.7 L515.5,509.3 L516.5,508.9 L517.5,508.4 L518.5,507.9 L519.5,507.2 L520.5,506.4 L521.5,505.6 L522.5,504.8 L523.5,504.0 L524.5,503.2 L525.5,502.3 L526.5,501.4 L527.5,500.4 L528.5,499.4 L529.5,498.2 L530.5,497.0 L531.5,495.6 L532.5,494.2 L533.5,492.7 L534.5,491.1 L535.5,489.5 L536.5,487.7 L537.5,485.9 L538.5,483.8 L539.5,481.5 L540.5,479.0 L541.5,476.4 L542.5,473.5 L543.5,470.4 L544.5,467.2 L545.5,463.7 L546.5,460.1 L547.5,456.4 L548.5,452.5 L549.5,448.6 L550.5,444.6 L551.5,440.7 L552.5,436.6 L553.5,432.6 L554.5,428.6 L555.5,424.7 L556.5,420.8 L557.5,417.0 L558.5,413.4 L559.5,409.9 L560.5,406.6 L561.5,403.5 L562.5,400.5 L563.5,397.7 L564.5,395.1 L565.5,392.7 L566.5,390.5 L567.5,388.5 L568.5,386.8 L569.5,385.4 L570.5,384.1 L571.5,382.9 L572.5,381.9 L573.5,381.0 L574.5,380.1 L575.5,379.3 L576.5,378.3 L577.5,377.3 L578.5,376.1 L579.5,374.9 L580.5,373.6 L581.5,372.2 L582.5,370.8 L583.5,369.3 L584.5,367.7 L585.5,366.1 L586.5,364.5 L587.5,363.0 L588.5,361.5 L589.5,360.1 L590.5,358.8 L591.5,357.5 L592.5,356.5 L593.5,355.6 L594.5,355.0 L595.5,354.5 L596.5,354.2 L597.5,354.0 L598.5,354.1 L599.5,354.4 L600.5,354.8 L601.5,355.5 L602.5,356.5 L603.5,358.0 L604.5,359.9 L605.5,362.3 L606.5,365.2 L607.5,368.4 L608.5,371.8 L609.5,375.2 L610.5,378.7 L611.5,382.1 L612.5,385.5 L613.5,388.9 L614.5,392.5 L615.5,396.3 L616.5,400.3 L617.5,404.5 L618.5,408.9 L619.5,413.4 L620.5,417.9 L621.5,422.5 L622.5,427.0 L623.5,431.4 L624.5,435.6 L625.5,439.6 L626.5,443.3 L627.5,446.8 L628.5,450.2 L629.5,453.4 L630.5,456.6 L631.5,459.7 L632.5,462.9 L633.5,466.1 L634.5,469.2 L635.5,472.1 L636.5,475.0 L637.5,477.6 L638.5,480.2 L639.5,482.6 L640.5,484.9 L641.5,487.1 L642.5,489.2 L643.5,491.2 L644.5,493.0 L645.5,494.7 L646.5,496.2 L647.5,497.7 L648.5,499.1 L649.5,500.3 L650.5,501.5 L651.5,502.7 L652.5,503.7 L653.5,504.7 L654.5,505.5 L655.5,506.3 L656.5,507.1 L657.5,507.8 L658.5,508.4 L659.5,509.0 L660.5,509.6 L661.5,510.1 L662.5,510.6 L663.5,511.0 L664.5,511.5 L665.5,511.9 L666.5,512.4 L667.5,512.8 L668.5,513.2 L669.5,513.5 L670.5,513.8 L671.5,514.1 L672.5,514.3 L673.5,514.5 L674.5,514.7 L675.5,514.8 L676.5,515.0 L677.5,515.1 L678.5,515.1 L679.5,515.2 L680.5,515.3 L681.5,515.4 L682.5,515.5 L683.5,515.6 L684.5,515.7 L685.5,515.8 L686.5,515.9 L687.5,516.0 L688.5,516.1 L689.5,516.2 L690.5,516.4 L691.5,516.5 L692.5,516.8 L693.5,517.1 L694.5,517.4 L695.5,517.8 L696.5,518.1 L697.5,518.3 L698.5,518.4 L699.5,518.5 L700.5,518.6" fill="none" stroke="#f01010" stroke-width="2.6" stroke-linejoin="round"/>
<path d="M412.5,518.7 L413.5,518.7 L414.5,518.7 L415.5,518.7 L416.5,518.7 L417.5,518.7 L418.5,518.6 L419.5,518.6 L420.5,518.6 L421.5,518.6 L422.5,518.6 L423.5,518.6 L424.5,518.6 L425.5,518.6 L426.5,518.6 L427.5,518.6 L428.5,518.6 L429.5,518.5 L430.5,518.5 L431.5,518.5 L432.5,518.5 L433.5,518.5 L434.5,518.5 L435.5,518.5 L436.5,518.5 L437.5,518.5 L438.5,518.4 L439.5,518.4 L440.5,518.4 L441.5,518.4 L442.5,518.4 L443.5,518.4 L444.5,518.4 L445.5,518.4 L446.5,518.3 L447.5,518.3 L448.5,518.3 L449.5,518.3 L450.5,518.3 L451.5,518.3 L452.5,518.2 L453.5,518.2 L454.5,518.2 L455.5,518.2 L456.5,518.2 L457.5,518.2 L458.5,518.1 L459.5,518.1 L460.5,518.1 L461.5,518.1 L462.5,518.1 L463.5,518.0 L464.5,518.0 L465.5,518.0 L466.5,518.0 L467.5,517.9 L468.5,517.9 L469.5,517.9 L470.5,517.9 L471.5,517.8 L472.5,517.8 L473.5,517.8 L474.5,517.8 L475.5,517.7 L476.5,517.7 L477.5,517.7 L478.5,517.7 L479.5,517.6 L480.5,517.6 L481.5,517.6 L482.5,517.5 L483.5,517.5 L484.5,517.5 L485.5,517.4 L486.5,517.4 L487.5,517.3 L488.5,517.3 L489.5,517.3 L490.5,517.2 L491.5,517.2 L492.5,517.1 L493.5,517.1 L494.5,517.0 L495.5,517.0 L496.5,516.9 L497.5,516.9 L498.5,516.8 L499.5,516.8 L500.5,516.7 L501.5,516.7 L502.5,516.6 L503.5,516.5 L504.5,516.4 L505.5,516.3 L506.5,516.1 L507.5,516.0 L508.5,515.9 L509.5,515.7 L510.5,515.5 L511.5,515.4 L512.5,515.2 L513.5,515.0 L514.5,514.9 L515.5,514.8 L516.5,514.6 L517.5,514.5 L518.5,514.4 L519.5,514.4 L520.5,514.3 L521.5,514.2 L522.5,514.2 L523.5,514.2 L524.5,514.1 L525.5,514.1 L526.5,514.1 L527.5,514.0 L528.5,514.0 L529.5,513.9 L530.5,513.8 L531.5,513.6 L532.5,513.5 L533.5,513.2 L534.5,513.0 L535.5,512.7 L536.5,512.4 L537.5,512.1 L538.5,511.7 L539.5,511.3 L540.5,510.9 L541.5,510.4 L542.5,510.0 L543.5,509.5 L544.5,509.0 L545.5,508.6 L546.5,508.1 L547.5,507.6 L548.5,507.1 L549.5,506.6 L550.5,506.1 L551.5,505.6 L552.5,505.0 L553.5,504.4 L554.5,503.8 L555.5,503.1 L556.5,502.3 L557.5,501.5 L558.5,500.5 L559.5,499.4 L560.5,498.2 L561.5,496.9 L562.5,495.5 L563.5,493.9 L564.5,492.2 L565.5,490.4 L566.5,488.4 L567.5,486.3 L568.5,484.1 L569.5,481.6 L570.5,479.0 L571.5,476.2 L572.5,473.3 L573.5,470.1 L574.5,466.8 L575.5,463.2 L576.5,459.5 L577.5,455.7 L578.5,451.6 L579.5,447.4 L580.5,443.1 L581.5,438.7 L582.5,434.2 L583.5,429.7 L584.5,425.1 L585.5,420.5 L586.5,416.0 L587.5,411.5 L588.5,407.1 L589.5,402.8 L590.5,398.7 L591.5,394.8 L592.5,391.1 L593.5,387.7 L594.5,384.6 L595.5,381.8 L596.5,379.3 L597.5,377.2 L598.5,375.4 L599.5,374.0 L600.5,372.9 L601.5,372.2 L602.5,371.9 L603.5,371.9 L604.5,372.4 L605.5,373.2 L606.5,374.5 L607.5,376.1 L608.5,378.1 L609.5,380.4 L610.5,383.1 L611.5,386.1 L612.5,389.4 L613.5,392.9 L614.5,396.7 L615.5,400.6 L616.5,404.7 L617.5,408.8 L618.5,413.1 L619.5,417.4 L620.5,421.7 L621.5,425.9 L622.5,430.2 L623.5,434.3 L624.5,438.4 L625.5,442.3 L626.5,446.1 L627.5,449.8 L628.5,453.4 L629.5,456.9 L630.5,460.2 L631.5,463.4 L632.5,466.5 L633.5,469.5 L634.5,472.4 L635.5,475.2 L636.5,477.9 L637.5,480.5 L638.5,482.9 L639.5,485.2 L640.5,487.4 L641.5,489.5 L642.5,491.5 L643.5,493.3 L644.5,495.0 L645.5,496.6 L646.5,498.1 L647.5,499.5 L648.5,500.8 L649.5,502.0 L650.5,503.2 L651.5,504.2 L652.5,505.2 L653.5,506.1 L654.5,506.9 L655.5,507.7 L656.5,508.4 L657.5,509.0 L658.5,509.6 L659.5,510.2 L660.5,510.7 L661.5,511.2 L662.5,511.7 L663.5,512.1 L664.5,512.6 L665.5,513.0 L666.5,513.3 L667.5,513.7 L668.5,514.0 L669.5,514.3 L670.5,514.6 L671.5,514.8 L672.5,515.0 L673.5,515.2 L674.5,515.4 L675.5,515.6 L676.5,515.8 L677.5,515.9 L678.5,516.1 L679.5,516.2 L680.5,516.3 L681.5,516.4 L682.5,516.6 L683.5,516.7 L684.5,516.8 L685.5,516.9 L686.5,517.0 L687.5,517.2 L688.5,517.3 L689.5,517.5 L690.5,517.6 L691.5,517.8 L692.5,517.9 L693.5,518.1 L694.5,518.2 L695.5,518.3 L696.5,518.4 L697.5,518.6 L698.5,518.7 L699.5,518.7 L700.5,518.8 L700.5,521.7 L699.5,521.7 L698.5,521.7 L697.5,521.7 L696.5,521.7 L695.5,521.6 L694.5,521.6 L693.5,521.6 L692.5,521.6 L691.5,521.6 L690.5,521.6 L689.5,521.6 L688.5,521.6 L687.5,521.6 L686.5,521.5 L685.5,521.5 L684.5,521.5 L683.5,521.5 L682.5,521.5 L681.5,521.5 L680.5,521.5 L679.5,521.5 L678.5,521.5 L677.5,521.4 L676.5,521.4 L675.5,521.4 L674.5,521.4 L673.5,521.4 L672.5,521.4 L671.5,521.4 L670.5,521.4 L669.5,521.4 L668.5,521.3 L667.5,521.3 L666.5,521.3 L665.5,521.3 L664.5,521.3 L663.5,521.3 L662.5,521.3 L661.5,521.3 L660.5,521.3 L659.5,521.2 L658.5,521.2 L657.5,521.2 L656.5,521.2 L655.5,521.2 L654.5,521.2 L653.5,521.2 L652.5,521.2 L651.5,521.2 L650.5,521.2 L649.5,521.1 L648.5,521.1 L647.5,521.1 L646.5,521.1 L645.5,521.1 L644.5,521.1 L643.5,521.1 L642.5,521.1 L641.5,521.1 L640.5,521.0 L639.5,521.0 L638.5,521.0 L637.5,521.0 L636.5,521.0 L635.5,521.0 L634.5,521.0 L633.5,521.0 L632.5,521.0 L631.5,520.9 L630.5,520.9 L629.5,520.9 L628.5,520.9 L627.5,520.9 L626.5,520.9 L625.5,520.9 L624.5,520.9 L623.5,520.9 L622.5,520.8 L621.5,520.8 L620.5,520.8 L619.5,520.8 L618.5,520.8 L617.5,520.8 L616.5,520.8 L615.5,520.8 L614.5,520.8 L613.5,520.7 L612.5,520.7 L611.5,520.7 L610.5,520.7 L609.5,520.7 L608.5,520.7 L607.5,520.7 L606.5,520.7 L605.5,520.7 L604.5,520.6 L603.5,520.6 L602.5,520.6 L601.5,520.6 L600.5,520.6 L599.5,520.6 L598.5,520.6 L597.5,520.6 L596.5,520.6 L595.5,520.6 L594.5,520.6 L593.5,520.5 L592.5,520.5 L591.5,520.5 L590.5,520.5 L589.5,520.5 L588.5,520.5 L587.5,520.5 L586.5,520.5 L585.5,520.5 L584.5,520.5 L583.5,520.5 L582.5,520.4 L581.5,520.4 L580.5,520.4 L579.5,520.4 L578.5,520.4 L577.5,520.4 L576.5,520.4 L575.5,520.4 L574.5,520.4 L573.5,520.4 L572.5,520.4 L571.5,520.4 L570.5,520.3 L569.5,520.3 L568.5,520.3 L567.5,520.3 L566.5,520.3 L565.5,520.3 L564.5,520.3 L563.5,520.3 L562.5,520.3 L561.5,520.3 L560.5,520.3 L559.5,520.2 L558.5,520.2 L557.5,520.2 L556.5,520.2 L555.5,520.2 L554.5,520.2 L553.5,520.2 L552.5,520.2 L551.5,520.2 L550.5,520.2 L549.5,520.2 L548.5,520.1 L547.5,520.1 L546.5,520.1 L545.5,520.1 L544.5,520.1 L543.5,520.1 L542.5,520.1 L541.5,520.1 L540.5,520.1 L539.5,520.1 L538.5,520.1 L537.5,520.1 L536.5,520.0 L535.5,520.0 L534.5,520.0 L533.5,520.0 L532.5,520.0 L531.5,520.0 L530.5,520.0 L529.5,520.0 L528.5,520.0 L527.5,520.0 L526.5,520.0 L525.5,519.9 L524.5,519.9 L523.5,519.9 L522.5,519.9 L521.5,519.9 L520.5,519.9 L519.5,519.9 L518.5,519.9 L517.5,519.9 L516.5,519.9 L515.5,519.9 L514.5,519.9 L513.5,519.9 L512.5,519.9 L511.5,519.9 L510.5,519.9 L509.5,519.9 L508.5,519.9 L507.5,519.9 L506.5,519.9 L505.5,519.9 L504.5,519.9 L503.5,519.9 L502.5,519.9 L501.5,519.9 L500.5,519.8 L499.5,519.8 L498.5,519.8 L497.5,519.8 L496.5,519.8 L495.5,519.8 L494.5,519.8 L493.5,519.8 L492.5,519.8 L491.5,519.8 L490.5,519.8 L489.5,519.8 L488.5,519.8 L487.5,519.8 L486.5,519.8 L485.5,519.8 L484.5,519.8 L483.5,519.8 L482.5,519.8 L481.5,519.8 L480.5,519.8 L479.5,519.8 L478.5,519.8 L477.5,519.8 L476.5,519.8 L475.5,519.8 L474.5,519.8 L473.5,519.8 L472.5,519.8 L471.5,519.8 L470.5,519.8 L469.5,519.8 L468.5,519.8 L467.5,519.8 L466.5,519.8 L465.5,519.8 L464.5,519.8 L463.5,519.8 L462.5,519.8 L461.5,519.7 L460.5,519.7 L459.5,519.7 L458.5,519.7 L457.5,519.7 L456.5,519.7 L455.5,519.7 L454.5,519.7 L453.5,519.7 L452.5,519.7 L451.5,519.7 L450.5,519.7 L449.5,519.7 L448.5,519.7 L447.5,519.7 L446.5,519.7 L445.5,519.7 L444.5,519.7 L443.5,519.7 L442.5,519.7 L441.5,519.7 L440.5,519.7 L439.5,519.7 L438.5,519.7 L437.5,519.7 L436.5,519.7 L435.5,519.7 L434.5,519.7 L433.5,519.7 L432.5,519.7 L431.5,519.7 L430.5,519.7 L429.5,519.7 L428.5,519.7 L427.5,519.7 L426.5,519.7 L425.5,519.7 L424.5,519.7 L423.5,519.6 L422.5,519.6 L421.5,519.6 L420.5,519.6 L419.5,519.6 L418.5,519.6 L417.5,519.6 L416.5,519.6 L415.5,519.6 L414.5,519.6 L413.5,519.6 L412.5,519.6Z" fill="rgb(102, 171, 174)" fill-opacity="0.7"/>
<path d="M412.5,518.7 L413.5,518.7 L414.5,518.7 L415.5,518.7 L416.5,518.7 L417.5,518.7 L418.5,518.6 L419.5,518.6 L420.5,518.6 L421.5,518.6 L422.5,518.6 L423.5,518.6 L424.5,518.6 L425.5,518.6 L426.5,518.6 L427.5,518.5 L428.5,518.5 L429.5,518.5 L430.5,518.5 L431.5,518.5 L432.5,518.5 L433.5,518.5 L434.5,518.4 L435.5,518.4 L436.5,518.4 L437.5,518.4 L438.5,518.4 L439.5,518.4 L440.5,518.3 L441.5,518.3 L442.5,518.3 L443.5,518.3 L444.5,518.3 L445.5,518.2 L446.5,518.2 L447.5,518.2 L448.5,518.2 L449.5,518.2 L450.5,518.1 L451.5,518.1 L452.5,518.1 L453.5,518.1 L454.5,518.0 L455.5,518.0 L456.5,518.0 L457.5,517.9 L458.5,517.9 L459.5,517.9 L460.5,517.9 L461.5,517.8 L462.5,517.8 L463.5,517.8 L464.5,517.7 L465.5,517.7 L466.5,517.7 L467.5,517.6 L468.5,517.6 L469.5,517.5 L470.5,517.5 L471.5,517.5 L472.5,517.4 L473.5,517.4 L474.5,517.3 L475.5,517.3 L476.5,517.2 L477.5,517.2 L478.5,517.1 L479.5,517.1 L480.5,517.0 L481.5,516.9 L482.5,516.9 L483.5,516.8 L484.5,516.8 L485.5,516.7 L486.5,516.6 L487.5,516.5 L488.5,516.5 L489.5,516.4 L490.5,516.3 L491.5,516.2 L492.5,516.1 L493.5,516.0 L494.5,516.0 L495.5,515.9 L496.5,515.8 L497.5,515.6 L498.5,515.5 L499.5,515.4 L500.5,515.3 L501.5,515.2 L502.5,515.0 L503.5,514.9 L504.5,514.7 L505.5,514.6 L506.5,514.4 L507.5,514.2 L508.5,514.0 L509.5,513.8 L510.5,513.6 L511.5,513.4 L512.5,513.1 L513.5,512.8 L514.5,512.6 L515.5,512.3 L516.5,511.9 L517.5,511.6 L518.5,511.2 L519.5,510.7 L520.5,510.3 L521.5,509.8 L522.5,509.3 L523.5,508.7 L524.5,508.1 L525.5,507.4 L526.5,506.7 L527.5,505.9 L528.5,505.0 L529.5,504.1 L530.5,503.1 L531.5,502.0 L532.5,500.8 L533.5,499.6 L534.5,498.3 L535.5,496.9 L536.5,495.3 L537.5,493.7 L538.5,492.0 L539.5,490.2 L540.5,488.3 L541.5,486.2 L542.5,484.1 L543.5,481.9 L544.5,479.5 L545.5,477.1 L546.5,474.6 L547.5,472.0 L548.5,469.3 L549.5,466.6 L550.5,463.7 L551.5,460.9 L552.5,458.0 L553.5,455.1 L554.5,452.2 L555.5,449.3 L556.5,446.4 L557.5,443.7 L558.5,441.0 L559.5,438.5 L560.5,436.1 L561.5,434.0 L562.5,432.1 L563.5,430.4 L564.5,429.1 L565.5,428.0 L566.5,427.4 L567.5,427.0 L568.5,427.1 L569.5,427.5 L570.5,428.2 L571.5,429.3 L572.5,430.7 L573.5,432.4 L574.5,434.4 L575.5,436.6 L576.5,439.0 L577.5,441.5 L578.5,444.2 L579.5,447.0 L580.5,449.9 L581.5,452.8 L582.5,455.7 L583.5,458.6 L584.5,461.5 L585.5,464.4 L586.5,467.2 L587.5,470.0 L588.5,472.7 L589.5,475.3 L590.5,477.8 L591.5,480.3 L592.5,482.6 L593.5,484.8 L594.5,487.0 L595.5,489.0 L596.5,490.9 L597.5,492.8 L598.5,494.5 L599.5,496.1 L600.5,497.6 L601.5,499.0 L602.5,500.4 L603.5,501.6 L604.5,502.8 L605.5,503.9 L606.5,504.9 L607.5,505.8 L608.5,506.7 L609.5,507.5 L610.5,508.3 L611.5,508.9 L612.5,509.6 L613.5,510.2 L614.5,510.7 L615.5,511.2 L616.5,511.7 L617.5,512.1 L618.5,512.5 L619.5,512.9 L620.5,513.2 L621.5,513.5 L622.5,513.8 L623.5,514.1 L624.5,514.4 L625.5,514.6 L626.5,514.9 L627.5,515.1 L628.5,515.3 L629.5,515.5 L630.5,515.7 L631.5,515.8 L632.5,516.0 L633.5,516.2 L634.5,516.3 L635.5,516.4 L636.5,516.6 L637.5,516.7 L638.5,516.8 L639.5,517.0 L640.5,517.1 L641.5,517.2 L642.5,517.3 L643.5,517.4 L644.5,517.5 L645.5,517.6 L646.5,517.7 L647.5,517.8 L648.5,517.9 L649.5,518.0 L650.5,518.0 L651.5,518.1 L652.5,518.2 L653.5,518.3 L654.5,518.3 L655.5,518.4 L656.5,518.5 L657.5,518.6 L658.5,518.6 L659.5,518.7 L660.5,518.8 L661.5,518.8 L662.5,518.9 L663.5,518.9 L664.5,519.0 L665.5,519.0 L666.5,519.1 L667.5,519.2 L668.5,519.2 L669.5,519.3 L670.5,519.3 L671.5,519.4 L672.5,519.4 L673.5,519.5 L674.5,519.5 L675.5,519.5 L676.5,519.6 L677.5,519.6 L678.5,519.7 L679.5,519.7 L680.5,519.8 L681.5,519.8 L682.5,519.8 L683.5,519.9 L684.5,519.9 L685.5,519.9 L686.5,520.0 L687.5,520.0 L688.5,520.1 L689.5,520.1 L690.5,520.1 L691.5,520.2 L692.5,520.2 L693.5,520.2 L694.5,520.3 L695.5,520.3 L696.5,520.3 L697.5,520.4 L698.5,520.4 L699.5,520.4 L700.5,520.4 L700.5,521.7 L699.5,521.7 L698.5,521.7 L697.5,521.7 L696.5,521.7 L695.5,521.6 L694.5,521.6 L693.5,521.6 L692.5,521.6 L691.5,521.6 L690.5,521.6 L689.5,521.6 L688.5,521.6 L687.5,521.6 L686.5,521.5 L685.5,521.5 L684.5,521.5 L683.5,521.5 L682.5,521.5 L681.5,521.5 L680.5,521.5 L679.5,521.5 L678.5,521.5 L677.5,521.4 L676.5,521.4 L675.5,521.4 L674.5,521.4 L673.5,521.4 L672.5,521.4 L671.5,521.4 L670.5,521.4 L669.5,521.4 L668.5,521.3 L667.5,521.3 L666.5,521.3 L665.5,521.3 L664.5,521.3 L663.5,521.3 L662.5,521.3 L661.5,521.3 L660.5,521.3 L659.5,521.2 L658.5,521.2 L657.5,521.2 L656.5,521.2 L655.5,521.2 L654.5,521.2 L653.5,521.2 L652.5,521.2 L651.5,521.2 L650.5,521.2 L649.5,521.1 L648.5,521.1 L647.5,521.1 L646.5,521.1 L645.5,521.1 L644.5,521.1 L643.5,521.1 L642.5,521.1 L641.5,521.1 L640.5,521.0 L639.5,521.0 L638.5,521.0 L637.5,521.0 L636.5,521.0 L635.5,521.0 L634.5,521.0 L633.5,521.0 L632.5,521.0 L631.5,520.9 L630.5,520.9 L629.5,520.9 L628.5,520.9 L627.5,520.9 L626.5,520.9 L625.5,520.9 L624.5,520.9 L623.5,520.9 L622.5,520.8 L621.5,520.8 L620.5,520.8 L619.5,520.8 L618.5,520.8 L617.5,520.8 L616.5,520.8 L615.5,520.8 L614.5,520.8 L613.5,520.7 L612.5,520.7 L611.5,520.7 L610.5,520.7 L609.5,520.7 L608.5,520.7 L607.5,520.7 L606.5,520.7 L605.5,520.7 L604.5,520.6 L603.5,520.6 L602.5,520.6 L601.5,520.6 L600.5,520.6 L599.5,520.6 L598.5,520.6 L597.5,520.6 L596.5,520.6 L595.5,520.6 L594.5,520.6 L593.5,520.5 L592.5,520.5 L591.5,520.5 L590.5,520.5 L589.5,520.5 L588.5,520.5 L587.5,520.5 L586.5,520.5 L585.5,520.5 L584.5,520.5 L583.5,520.5 L582.5,520.4 L581.5,520.4 L580.5,520.4 L579.5,520.4 L578.5,520.4 L577.5,520.4 L576.5,520.4 L575.5,520.4 L574.5,520.4 L573.5,520.4 L572.5,520.4 L571.5,520.4 L570.5,520.3 L569.5,520.3 L568.5,520.3 L567.5,520.3 L566.5,520.3 L565.5,520.3 L564.5,520.3 L563.5,520.3 L562.5,520.3 L561.5,520.3 L560.5,520.3 L559.5,520.2 L558.5,520.2 L557.5,520.2 L556.5,520.2 L555.5,520.2 L554.5,520.2 L553.5,520.2 L552.5,520.2 L551.5,520.2 L550.5,520.2 L549.5,520.2 L548.5,520.1 L547.5,520.1 L546.5,520.1 L545.5,520.1 L544.5,520.1 L543.5,520.1 L542.5,520.1 L541.5,520.1 L540.5,520.1 L539.5,520.1 L538.5,520.1 L537.5,520.1 L536.5,520.0 L535.5,520.0 L534.5,520.0 L533.5,520.0 L532.5,520.0 L531.5,520.0 L530.5,520.0 L529.5,520.0 L528.5,520.0 L527.5,520.0 L526.5,520.0 L525.5,519.9 L524.5,519.9 L523.5,519.9 L522.5,519.9 L521.5,519.9 L520.5,519.9 L519.5,519.9 L518.5,519.9 L517.5,519.9 L516.5,519.9 L515.5,519.9 L514.5,519.9 L513.5,519.9 L512.5,519.9 L511.5,519.9 L510.5,519.9 L509.5,519.9 L508.5,519.9 L507.5,519.9 L506.5,519.9 L505.5,519.9 L504.5,519.9 L503.5,519.9 L502.5,519.9 L501.5,519.9 L500.5,519.8 L499.5,519.8 L498.5,519.8 L497.5,519.8 L496.5,519.8 L495.5,519.8 L494.5,519.8 L493.5,519.8 L492.5,519.8 L491.5,519.8 L490.5,519.8 L489.5,519.8 L488.5,519.8 L487.5,519.8 L486.5,519.8 L485.5,519.8 L484.5,519.8 L483.5,519.8 L482.5,519.8 L481.5,519.8 L480.5,519.8 L479.5,519.8 L478.5,519.8 L477.5,519.8 L476.5,519.8 L475.5,519.8 L474.5,519.8 L473.5,519.8 L472.5,519.8 L471.5,519.8 L470.5,519.8 L469.5,519.8 L468.5,519.8 L467.5,519.8 L466.5,519.8 L465.5,519.8 L464.5,519.8 L463.5,519.8 L462.5,519.8 L461.5,519.7 L460.5,519.7 L459.5,519.7 L458.5,519.7 L457.5,519.7 L456.5,519.7 L455.5,519.7 L454.5,519.7 L453.5,519.7 L452.5,519.7 L451.5,519.7 L450.5,519.7 L449.5,519.7 L448.5,519.7 L447.5,519.7 L446.5,519.7 L445.5,519.7 L444.5,519.7 L443.5,519.7 L442.5,519.7 L441.5,519.7 L440.5,519.7 L439.5,519.7 L438.5,519.7 L437.5,519.7 L436.5,519.7 L435.5,519.7 L434.5,519.7 L433.5,519.7 L432.5,519.7 L431.5,519.7 L430.5,519.7 L429.5,519.7 L428.5,519.7 L427.5,519.7 L426.5,519.7 L425.5,519.7 L424.5,519.7 L423.5,519.6 L422.5,519.6 L421.5,519.6 L420.5,519.6 L419.5,519.6 L418.5,519.6 L417.5,519.6 L416.5,519.6 L415.5,519.6 L414.5,519.6 L413.5,519.6 L412.5,519.6Z" fill="rgb(55, 105, 176)" fill-opacity="0.7" stroke="rgb(60, 110, 190)" stroke-width="0.9"/>
<path d="M412.5,519.6 L413.5,519.6 L414.5,519.6 L415.5,519.6 L416.5,519.6 L417.5,519.6 L418.5,519.6 L419.5,519.6 L420.5,519.6 L421.5,519.6 L422.5,519.6 L423.5,519.6 L424.5,519.7 L425.5,519.7 L426.5,519.7 L427.5,519.7 L428.5,519.7 L429.5,519.7 L430.5,519.7 L431.5,519.7 L432.5,519.7 L433.5,519.7 L434.5,519.7 L435.5,519.7 L436.5,519.7 L437.5,519.7 L438.5,519.7 L439.5,519.7 L440.5,519.7 L441.5,519.7 L442.5,519.7 L443.5,519.7 L444.5,519.7 L445.5,519.7 L446.5,519.7 L447.5,519.7 L448.5,519.7 L449.5,519.7 L450.5,519.7 L451.5,519.7 L452.5,519.7 L453.5,519.7 L454.5,519.7 L455.5,519.7 L456.5,519.7 L457.5,519.7 L458.5,519.7 L459.5,519.7 L460.5,519.7 L461.5,519.7 L462.5,519.8 L463.5,519.8 L464.5,519.8 L465.5,519.8 L466.5,519.8 L467.5,519.8 L468.5,519.8 L469.5,519.8 L470.5,519.8 L471.5,519.8 L472.5,519.8 L473.5,519.8 L474.5,519.8 L475.5,519.8 L476.5,519.8 L477.5,519.8 L478.5,519.8 L479.5,519.8 L480.5,519.8 L481.5,519.8 L482.5,519.8 L483.5,519.8 L484.5,519.8 L485.5,519.8 L486.5,519.8 L487.5,519.8 L488.5,519.8 L489.5,519.8 L490.5,519.8 L491.5,519.8 L492.5,519.8 L493.5,519.8 L494.5,519.8 L495.5,519.8 L496.5,519.8 L497.5,519.8 L498.5,519.8 L499.5,519.8 L500.5,519.8 L501.5,519.9 L502.5,519.9 L503.5,519.9 L504.5,519.9 L505.5,519.9 L506.5,519.9 L507.5,519.9 L508.5,519.9 L509.5,519.9 L510.5,519.9 L511.5,519.9 L512.5,519.9 L513.5,519.9 L514.5,519.9 L515.5,519.9 L516.5,519.9 L517.5,519.9 L518.5,519.9 L519.5,519.9 L520.5,519.9 L521.5,519.9 L522.5,519.9 L523.5,519.9 L524.5,519.9 L525.5,519.9 L526.5,520.0 L527.5,520.0 L528.5,520.0 L529.5,520.0 L530.5,520.0 L531.5,520.0 L532.5,520.0 L533.5,520.0 L534.5,520.0 L535.5,520.0 L536.5,520.0 L537.5,520.1 L538.5,520.1 L539.5,520.1 L540.5,520.1 L541.5,520.1 L542.5,520.1 L543.5,520.1 L544.5,520.1 L545.5,520.1 L546.5,520.1 L547.5,520.1 L548.5,520.1 L549.5,520.2 L550.5,520.2 L551.5,520.2 L552.5,520.2 L553.5,520.2 L554.5,520.2 L555.5,520.2 L556.5,520.2 L557.5,520.2 L558.5,520.2 L559.5,520.2 L560.5,520.3 L561.5,520.3 L562.5,520.3 L563.5,520.3 L564.5,520.3 L565.5,520.3 L566.5,520.3 L567.5,520.3 L568.5,520.3 L569.5,520.3 L570.5,520.3 L571.5,520.4 L572.5,520.4 L573.5,520.4 L574.5,520.4 L575.5,520.4 L576.5,520.4 L577.5,520.4 L578.5,520.4 L579.5,520.4 L580.5,520.4 L581.5,520.4 L582.5,520.4 L583.5,520.5 L584.5,520.5 L585.5,520.5 L586.5,520.5 L587.5,520.5 L588.5,520.5 L589.5,520.5 L590.5,520.5 L591.5,520.5 L592.5,520.5 L593.5,520.5 L594.5,520.6 L595.5,520.6 L596.5,520.6 L597.5,520.6 L598.5,520.6 L599.5,520.6 L600.5,520.6 L601.5,520.6 L602.5,520.6 L603.5,520.6 L604.5,520.6 L605.5,520.7 L606.5,520.7 L607.5,520.7 L608.5,520.7 L609.5,520.7 L610.5,520.7 L611.5,520.7 L612.5,520.7 L613.5,520.7 L614.5,520.8 L615.5,520.8 L616.5,520.8 L617.5,520.8 L618.5,520.8 L619.5,520.8 L620.5,520.8 L621.5,520.8 L622.5,520.8 L623.5,520.9 L624.5,520.9 L625.5,520.9 L626.5,520.9 L627.5,520.9 L628.5,520.9 L629.5,520.9 L630.5,520.9 L631.5,520.9 L632.5,521.0 L633.5,521.0 L634.5,521.0 L635.5,521.0 L636.5,521.0 L637.5,521.0 L638.5,521.0 L639.5,521.0 L640.5,521.0 L641.5,521.1 L642.5,521.1 L643.5,521.1 L644.5,521.1 L645.5,521.1 L646.5,521.1 L647.5,521.1 L648.5,521.1 L649.5,521.1 L650.5,521.2 L651.5,521.2 L652.5,521.2 L653.5,521.2 L654.5,521.2 L655.5,521.2 L656.5,521.2 L657.5,521.2 L658.5,521.2 L659.5,521.2 L660.5,521.3 L661.5,521.3 L662.5,521.3 L663.5,521.3 L664.5,521.3 L665.5,521.3 L666.5,521.3 L667.5,521.3 L668.5,521.3 L669.5,521.4 L670.5,521.4 L671.5,521.4 L672.5,521.4 L673.5,521.4 L674.5,521.4 L675.5,521.4 L676.5,521.4 L677.5,521.4 L678.5,521.5 L679.5,521.5 L680.5,521.5 L681.5,521.5 L682.5,521.5 L683.5,521.5 L684.5,521.5 L685.5,521.5 L686.5,521.5 L687.5,521.6 L688.5,521.6 L689.5,521.6 L690.5,521.6 L691.5,521.6 L692.5,521.6 L693.5,521.6 L694.5,521.6 L695.5,521.6 L696.5,521.7 L697.5,521.7 L698.5,521.7 L699.5,521.7 L700.5,521.7" fill="none" stroke="rgb(70,120,190)" stroke-width="1.6" stroke-linejoin="round"/>
</g>
<text x="502.1" y="443.6" font-size="14.1" textLength="26.71" lengthAdjust="spacingAndGlyphs">C-O</text>
<line x1="522.1" y1="448.5" x2="547.5" y2="484.1" stroke="#000" stroke-width="1.3"/>
<text x="627.21" y="384" font-size="14.5" textLength="30.1" lengthAdjust="spacingAndGlyphs">C=O</text>
<line x1="638.4" y1="388.2" x2="620" y2="427.6" stroke="#000" stroke-width="1.3"/>
<line x1="411.2" y1="544.2" x2="411.2" y2="550" stroke="#000" stroke-width="2.2"/>
<line x1="447.46" y1="544.2" x2="447.46" y2="547.8" stroke="#000" stroke-width="2.2"/>
<line x1="483.72" y1="544.2" x2="483.72" y2="550" stroke="#000" stroke-width="2.2"/>
<line x1="519.99" y1="544.2" x2="519.99" y2="547.8" stroke="#000" stroke-width="2.2"/>
<line x1="556.25" y1="544.2" x2="556.25" y2="550" stroke="#000" stroke-width="2.2"/>
<line x1="592.51" y1="544.2" x2="592.51" y2="547.8" stroke="#000" stroke-width="2.2"/>
<line x1="628.77" y1="544.2" x2="628.77" y2="550" stroke="#000" stroke-width="2.2"/>
<line x1="665.04" y1="544.2" x2="665.04" y2="547.8" stroke="#000" stroke-width="2.2"/>
<line x1="701.3" y1="544.2" x2="701.3" y2="550" stroke="#000" stroke-width="2.2"/>
<rect x="411.5" y="329.6" width="290" height="214.6" fill="none" stroke="#000" stroke-width="2.4"/>
<text x="398.05" y="567.9" font-size="19.7" textLength="28.07" lengthAdjust="spacingAndGlyphs">540</text>
<text x="469.08" y="567.9" font-size="19.7" textLength="28.07" lengthAdjust="spacingAndGlyphs">537</text>
<text x="542.95" y="567.9" font-size="19.7" textLength="28.07" lengthAdjust="spacingAndGlyphs">534</text>
<text x="614.44" y="567.9" font-size="19.7" textLength="28.07" lengthAdjust="spacingAndGlyphs">531</text>
<text x="690.47" y="567.9" font-size="19.7" textLength="28.07" lengthAdjust="spacingAndGlyphs">528</text>
<text x="457.65" y="596" font-size="23.7" textLength="197.94" lengthAdjust="spacingAndGlyphs">Binding Energy (eV)</text>
<text x="425.21" y="368.6" font-size="36.8" textLength="43.88" lengthAdjust="spacingAndGlyphs">(e)</text>
<text x="652.38" y="352.9" font-size="20.4" textLength="38.25" lengthAdjust="spacingAndGlyphs">O 1s</text>
<text transform="translate(398.5,513.04) rotate(-90)" x="0" y="0" font-size="24" textLength="146.22" lengthAdjust="spacingAndGlyphs">Intensity (a.u.)</text>
</g>
<g id="pf">
<clipPath id="clipf"><rect x="751.2" y="331.4" width="292.2" height="215.1"/></clipPath>
<g clip-path="url(#clipf)">
<path d="M753.4,387.5 L754.2,430.0 L755.7,466.0 L758.0,450.0 L759.2,478.0 L761.5,452.6 L762.6,480.0 L764.9,438.8 L767.2,507.6 L768.3,466.0 L769.7,433.9 L771.1,398.7 L772.9,466.0 L775.2,457.0 L777.1,471.0 L778.7,461.7 L779.8,475.5 L782.1,434.2 L784.4,466.3 L786.7,427.3 L788.8,408.4 L790.8,399.8 L792.4,468.6 L794.1,454.0 L795.9,431.9 L798.2,438.8 L799.7,438.5 L801.3,419.1 L802.8,423.9 L804.5,443.2 L806.2,475.5 L808.5,443.4 L810.1,473.2 L812.4,426.2 L814.5,453.7 L816.5,480.0 L818.8,496.1 L820.5,477.3 L822.3,461.7 L824.6,436.5 L826.9,498.4 L829.2,431.9 L830.9,427.3 L832.6,422.8 L834.1,412.2 L835.6,410.1 L837.2,507.6 L839.5,429.6 L841.8,498.4 L843.5,462.7 L845.2,418.2 L847.1,459.4 L849.4,436.5 L851.3,429.5 L853.3,414.7 L855.0,444.3 L856.7,473.2 L858.0,453.0 L859.4,421.6 L861.3,425.0 L863.0,460.6 L864.7,491.6 L866.5,447.2 L868.2,411.3 L870.5,399.8 L872.2,433.7 L873.9,464.0 L876.2,406.7 L877.8,464.0 L880.1,434.2 L881.9,371.1 L883.3,399.0 L884.7,436.5 L886.2,428.3 L887.7,411.3 L890.0,418.1 L892.4,458.3 L894.3,444.1 L895.9,477.3 L897.7,455.8 L899.5,434.7 L901.8,451.2 L903.2,438.5 L904.7,427.6 L906.6,437.0 L908.0,421.8 L909.4,413.4 L911.3,441.8 L913.0,415.7 L914.9,430.0 L916.5,444.1 L918.0,440.8 L919.6,425.2 L921.2,441.0 L922.7,458.3 L925.0,415.7 L927.4,444.1 L928.8,411.2 L930.2,382.6 L932.6,374.3 L934.4,389.7 L936.2,408.6 L938.5,484.4 L940.3,450.4 L942.1,411.0 L944.2,391.5 L946.3,368.4 L947.8,391.8 L949.2,411.0 L950.6,447.5 L952.0,479.6 L953.9,408.6 L956.0,398.6 L958.2,367.2 L960.5,427.6 L962.9,465.4 L964.3,439.7 L965.7,418.1 L967.4,422.8 L969.5,447.5 L971.6,477.3 L973.7,424.7 L975.7,380.2 L977.5,411.7 L979.2,437.0 L981.6,425.2 L983.9,432.3 L986.3,425.2 L987.7,393.0 L989.1,349.5 L991.0,432.3 L992.8,406.9 L994.6,382.6 L997.0,444.1 L998.8,421.6 L1000.5,407.5 L1001.9,434.1 L1003.3,469.0 L1005.5,451.6 L1007.6,427.6 L1009.4,414.2 L1011.2,393.3 L1013.5,420.5 L1015.9,421.7 L1018.3,439.4 L1020.3,403.7 L1022.3,362.5 L1024.2,383.4 L1026.1,411.0 L1027.5,432.3 L1028.9,451.2 L1030.7,428.1 L1032.5,403.9 L1034.2,440.5 L1036.0,474.9 L1037.4,459.2 L1038.8,434.7 L1041.2,367.2 L1043.0,350.0" fill="none" stroke="#000" stroke-width="3.0" stroke-linejoin="round"/>
</g>
<line x1="751.2" y1="546.5" x2="751.2" y2="552.3" stroke="#000" stroke-width="2.2"/>
<line x1="780.41" y1="546.5" x2="780.41" y2="550.1" stroke="#000" stroke-width="2.2"/>
<line x1="809.62" y1="546.5" x2="809.62" y2="552.3" stroke="#000" stroke-width="2.2"/>
<line x1="838.83" y1="546.5" x2="838.83" y2="550.1" stroke="#000" stroke-width="2.2"/>
<line x1="868.04" y1="546.5" x2="868.04" y2="552.3" stroke="#000" stroke-width="2.2"/>
<line x1="897.25" y1="546.5" x2="897.25" y2="550.1" stroke="#000" stroke-width="2.2"/>
<line x1="926.46" y1="546.5" x2="926.46" y2="552.3" stroke="#000" stroke-width="2.2"/>
<line x1="955.67" y1="546.5" x2="955.67" y2="550.1" stroke="#000" stroke-width="2.2"/>
<line x1="984.88" y1="546.5" x2="984.88" y2="552.3" stroke="#000" stroke-width="2.2"/>
<line x1="1014.09" y1="546.5" x2="1014.09" y2="550.1" stroke="#000" stroke-width="2.2"/>
<line x1="1043.3" y1="546.5" x2="1043.3" y2="552.3" stroke="#000" stroke-width="2.2"/>
<rect x="751.2" y="331.4" width="292.2" height="215.1" fill="none" stroke="#000" stroke-width="2.4"/>
<text x="737.6" y="567.7" font-size="19.7" textLength="28.07" lengthAdjust="spacingAndGlyphs">408</text>
<text x="795.67" y="567.7" font-size="19.7" textLength="28.07" lengthAdjust="spacingAndGlyphs">405</text>
<text x="853.77" y="567.7" font-size="19.7" textLength="28.07" lengthAdjust="spacingAndGlyphs">402</text>
<text x="912.58" y="567.7" font-size="19.7" textLength="28.07" lengthAdjust="spacingAndGlyphs">399</text>
<text x="971.08" y="567.7" font-size="19.7" textLength="28.07" lengthAdjust="spacingAndGlyphs">396</text>
<text x="1023.68" y="567.7" font-size="19.7" textLength="28.07" lengthAdjust="spacingAndGlyphs">393</text>
<text x="798.45" y="596" font-size="23.7" textLength="197.94" lengthAdjust="spacingAndGlyphs">Binding Energy (eV)</text>
<text x="765.29" y="368.6" font-size="36.8" textLength="36.32" lengthAdjust="spacingAndGlyphs">(f)</text>
<text x="993.11" y="352.5" font-size="20.4" textLength="37.73" lengthAdjust="spacingAndGlyphs">N 1s</text>
<text transform="translate(739,513.05) rotate(-90)" x="0" y="0" font-size="24" textLength="146.62" lengthAdjust="spacingAndGlyphs">Intensity (a.u.)</text>
</g>
</svg></body></html>
